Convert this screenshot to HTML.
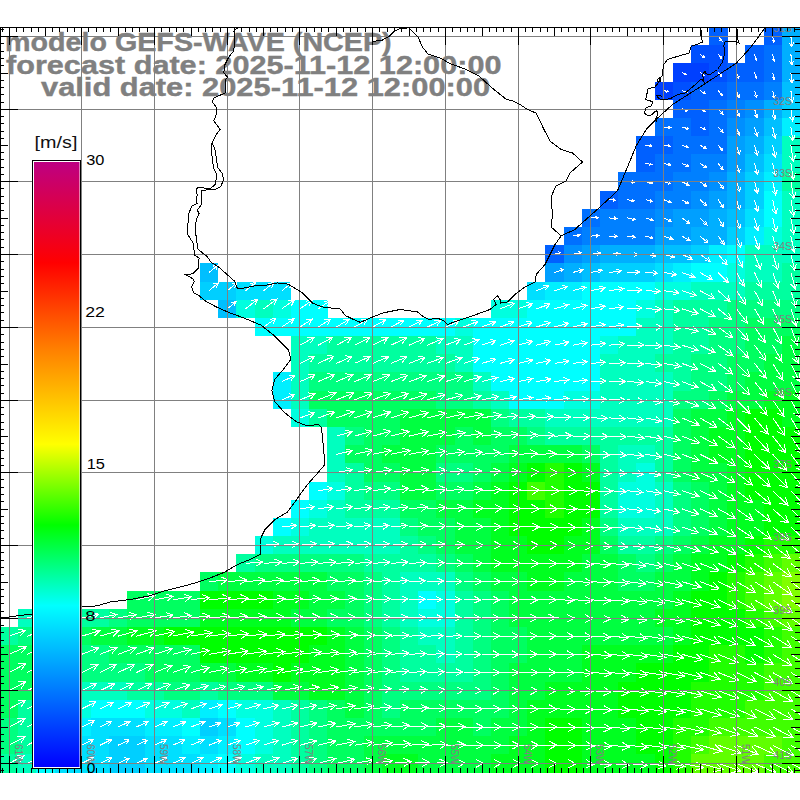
<!DOCTYPE html><html><head><meta charset="utf-8"><style>
html,body{margin:0;padding:0;background:#fff;width:800px;height:800px;overflow:hidden}
svg{position:absolute;left:0;top:0}
.t{font-family:"Liberation Sans",sans-serif}
</style></head><body>
<svg width="800" height="800" viewBox="0 0 800 800">
<rect x="0" y="0" width="800" height="800" fill="#fff"/>
<g shape-rendering="crispEdges">
<rect x="709.09" y="27.00" width="18.48" height="18.48" fill="#0060ff"/>
<rect x="763.64" y="27.00" width="18.48" height="18.48" fill="#0060ff"/>
<rect x="781.82" y="27.00" width="18.48" height="18.48" fill="#00afff"/>
<rect x="690.91" y="45.18" width="18.48" height="18.48" fill="#0050ff"/>
<rect x="709.09" y="45.18" width="18.48" height="18.48" fill="#0050ff"/>
<rect x="745.45" y="45.18" width="18.48" height="18.48" fill="#0060ff"/>
<rect x="763.64" y="45.18" width="18.48" height="18.48" fill="#0070ff"/>
<rect x="781.82" y="45.18" width="18.48" height="18.48" fill="#00afff"/>
<rect x="672.73" y="63.37" width="18.48" height="18.48" fill="#0040ff"/>
<rect x="690.91" y="63.37" width="18.48" height="18.48" fill="#0040ff"/>
<rect x="709.09" y="63.37" width="18.48" height="18.48" fill="#0050ff"/>
<rect x="727.27" y="63.37" width="18.48" height="18.48" fill="#0060ff"/>
<rect x="745.45" y="63.37" width="18.48" height="18.48" fill="#0060ff"/>
<rect x="763.64" y="63.37" width="18.48" height="18.48" fill="#0070ff"/>
<rect x="781.82" y="63.37" width="18.48" height="18.48" fill="#00afff"/>
<rect x="654.55" y="81.55" width="18.48" height="18.48" fill="#0040ff"/>
<rect x="672.73" y="81.55" width="18.48" height="18.48" fill="#0050ff"/>
<rect x="690.91" y="81.55" width="18.48" height="18.48" fill="#0060ff"/>
<rect x="709.09" y="81.55" width="18.48" height="18.48" fill="#0060ff"/>
<rect x="727.27" y="81.55" width="18.48" height="18.48" fill="#0070ff"/>
<rect x="745.45" y="81.55" width="18.48" height="18.48" fill="#0070ff"/>
<rect x="763.64" y="81.55" width="18.48" height="18.48" fill="#0080ff"/>
<rect x="781.82" y="81.55" width="18.48" height="18.48" fill="#00bfff"/>
<rect x="672.73" y="99.73" width="18.48" height="18.48" fill="#0060ff"/>
<rect x="690.91" y="99.73" width="18.48" height="18.48" fill="#0060ff"/>
<rect x="709.09" y="99.73" width="18.48" height="18.48" fill="#0070ff"/>
<rect x="727.27" y="99.73" width="18.48" height="18.48" fill="#0080ff"/>
<rect x="745.45" y="99.73" width="18.48" height="18.48" fill="#008fff"/>
<rect x="763.64" y="99.73" width="18.48" height="18.48" fill="#00afff"/>
<rect x="781.82" y="99.73" width="18.48" height="18.48" fill="#00cfff"/>
<rect x="654.55" y="117.91" width="18.48" height="18.48" fill="#0070ff"/>
<rect x="672.73" y="117.91" width="18.48" height="18.48" fill="#0070ff"/>
<rect x="690.91" y="117.91" width="18.48" height="18.48" fill="#0060ff"/>
<rect x="709.09" y="117.91" width="18.48" height="18.48" fill="#0070ff"/>
<rect x="727.27" y="117.91" width="18.48" height="18.48" fill="#008fff"/>
<rect x="745.45" y="117.91" width="18.48" height="18.48" fill="#009fff"/>
<rect x="763.64" y="117.91" width="18.48" height="18.48" fill="#00bfff"/>
<rect x="781.82" y="117.91" width="18.48" height="18.48" fill="#00efff"/>
<rect x="636.36" y="136.10" width="18.48" height="18.48" fill="#0060ff"/>
<rect x="654.55" y="136.10" width="18.48" height="18.48" fill="#0060ff"/>
<rect x="672.73" y="136.10" width="18.48" height="18.48" fill="#0070ff"/>
<rect x="690.91" y="136.10" width="18.48" height="18.48" fill="#0070ff"/>
<rect x="709.09" y="136.10" width="18.48" height="18.48" fill="#0070ff"/>
<rect x="727.27" y="136.10" width="18.48" height="18.48" fill="#009fff"/>
<rect x="745.45" y="136.10" width="18.48" height="18.48" fill="#00afff"/>
<rect x="763.64" y="136.10" width="18.48" height="18.48" fill="#00cfff"/>
<rect x="781.82" y="136.10" width="18.48" height="18.48" fill="#00ffbf"/>
<rect x="636.36" y="154.28" width="18.48" height="18.48" fill="#0060ff"/>
<rect x="654.55" y="154.28" width="18.48" height="18.48" fill="#0070ff"/>
<rect x="672.73" y="154.28" width="18.48" height="18.48" fill="#0070ff"/>
<rect x="690.91" y="154.28" width="18.48" height="18.48" fill="#0080ff"/>
<rect x="709.09" y="154.28" width="18.48" height="18.48" fill="#0080ff"/>
<rect x="727.27" y="154.28" width="18.48" height="18.48" fill="#009fff"/>
<rect x="745.45" y="154.28" width="18.48" height="18.48" fill="#00bfff"/>
<rect x="763.64" y="154.28" width="18.48" height="18.48" fill="#00dfff"/>
<rect x="781.82" y="154.28" width="18.48" height="18.48" fill="#00ffbf"/>
<rect x="618.18" y="172.46" width="18.48" height="18.48" fill="#0070ff"/>
<rect x="636.36" y="172.46" width="18.48" height="18.48" fill="#0070ff"/>
<rect x="654.55" y="172.46" width="18.48" height="18.48" fill="#0070ff"/>
<rect x="672.73" y="172.46" width="18.48" height="18.48" fill="#0080ff"/>
<rect x="690.91" y="172.46" width="18.48" height="18.48" fill="#0080ff"/>
<rect x="709.09" y="172.46" width="18.48" height="18.48" fill="#008fff"/>
<rect x="727.27" y="172.46" width="18.48" height="18.48" fill="#00afff"/>
<rect x="745.45" y="172.46" width="18.48" height="18.48" fill="#00cfff"/>
<rect x="763.64" y="172.46" width="18.48" height="18.48" fill="#00efff"/>
<rect x="781.82" y="172.46" width="18.48" height="18.48" fill="#00ff9f"/>
<rect x="600.00" y="190.65" width="18.48" height="18.48" fill="#0060ff"/>
<rect x="618.18" y="190.65" width="18.48" height="18.48" fill="#0070ff"/>
<rect x="636.36" y="190.65" width="18.48" height="18.48" fill="#0070ff"/>
<rect x="654.55" y="190.65" width="18.48" height="18.48" fill="#0080ff"/>
<rect x="672.73" y="190.65" width="18.48" height="18.48" fill="#0080ff"/>
<rect x="690.91" y="190.65" width="18.48" height="18.48" fill="#008fff"/>
<rect x="709.09" y="190.65" width="18.48" height="18.48" fill="#009fff"/>
<rect x="727.27" y="190.65" width="18.48" height="18.48" fill="#00afff"/>
<rect x="745.45" y="190.65" width="18.48" height="18.48" fill="#00cfff"/>
<rect x="763.64" y="190.65" width="18.48" height="18.48" fill="#00ffff"/>
<rect x="781.82" y="190.65" width="18.48" height="18.48" fill="#00ffbf"/>
<rect x="581.82" y="208.83" width="18.48" height="18.48" fill="#0070ff"/>
<rect x="600.00" y="208.83" width="18.48" height="18.48" fill="#0080ff"/>
<rect x="618.18" y="208.83" width="18.48" height="18.48" fill="#0080ff"/>
<rect x="636.36" y="208.83" width="18.48" height="18.48" fill="#0080ff"/>
<rect x="654.55" y="208.83" width="18.48" height="18.48" fill="#008fff"/>
<rect x="672.73" y="208.83" width="18.48" height="18.48" fill="#009fff"/>
<rect x="690.91" y="208.83" width="18.48" height="18.48" fill="#009fff"/>
<rect x="709.09" y="208.83" width="18.48" height="18.48" fill="#00afff"/>
<rect x="727.27" y="208.83" width="18.48" height="18.48" fill="#00bfff"/>
<rect x="745.45" y="208.83" width="18.48" height="18.48" fill="#00dfff"/>
<rect x="763.64" y="208.83" width="18.48" height="18.48" fill="#00ffff"/>
<rect x="781.82" y="208.83" width="18.48" height="18.48" fill="#00ffbf"/>
<rect x="563.64" y="227.01" width="18.48" height="18.48" fill="#0070ff"/>
<rect x="581.82" y="227.01" width="18.48" height="18.48" fill="#0080ff"/>
<rect x="600.00" y="227.01" width="18.48" height="18.48" fill="#0080ff"/>
<rect x="618.18" y="227.01" width="18.48" height="18.48" fill="#0080ff"/>
<rect x="636.36" y="227.01" width="18.48" height="18.48" fill="#0080ff"/>
<rect x="654.55" y="227.01" width="18.48" height="18.48" fill="#009fff"/>
<rect x="672.73" y="227.01" width="18.48" height="18.48" fill="#009fff"/>
<rect x="690.91" y="227.01" width="18.48" height="18.48" fill="#00afff"/>
<rect x="709.09" y="227.01" width="18.48" height="18.48" fill="#00afff"/>
<rect x="727.27" y="227.01" width="18.48" height="18.48" fill="#00cfff"/>
<rect x="745.45" y="227.01" width="18.48" height="18.48" fill="#00efff"/>
<rect x="763.64" y="227.01" width="18.48" height="18.48" fill="#00ffdf"/>
<rect x="781.82" y="227.01" width="18.48" height="18.48" fill="#00ffbf"/>
<rect x="545.45" y="245.20" width="18.48" height="18.48" fill="#0060ff"/>
<rect x="563.64" y="245.20" width="18.48" height="18.48" fill="#008fff"/>
<rect x="581.82" y="245.20" width="18.48" height="18.48" fill="#009fff"/>
<rect x="600.00" y="245.20" width="18.48" height="18.48" fill="#00afff"/>
<rect x="618.18" y="245.20" width="18.48" height="18.48" fill="#00afff"/>
<rect x="636.36" y="245.20" width="18.48" height="18.48" fill="#00afff"/>
<rect x="654.55" y="245.20" width="18.48" height="18.48" fill="#00bfff"/>
<rect x="672.73" y="245.20" width="18.48" height="18.48" fill="#00bfff"/>
<rect x="690.91" y="245.20" width="18.48" height="18.48" fill="#00cfff"/>
<rect x="709.09" y="245.20" width="18.48" height="18.48" fill="#00efff"/>
<rect x="727.27" y="245.20" width="18.48" height="18.48" fill="#00ffff"/>
<rect x="745.45" y="245.20" width="18.48" height="18.48" fill="#00ffbf"/>
<rect x="763.64" y="245.20" width="18.48" height="18.48" fill="#00ffbf"/>
<rect x="781.82" y="245.20" width="18.48" height="18.48" fill="#00ffbf"/>
<rect x="200.00" y="263.38" width="18.48" height="18.48" fill="#00bfff"/>
<rect x="545.45" y="263.38" width="18.48" height="18.48" fill="#009fff"/>
<rect x="563.64" y="263.38" width="18.48" height="18.48" fill="#00afff"/>
<rect x="581.82" y="263.38" width="18.48" height="18.48" fill="#00bfff"/>
<rect x="600.00" y="263.38" width="18.48" height="18.48" fill="#00cfff"/>
<rect x="618.18" y="263.38" width="18.48" height="18.48" fill="#00cfff"/>
<rect x="636.36" y="263.38" width="18.48" height="18.48" fill="#00cfff"/>
<rect x="654.55" y="263.38" width="18.48" height="18.48" fill="#00dfff"/>
<rect x="672.73" y="263.38" width="18.48" height="18.48" fill="#00efff"/>
<rect x="690.91" y="263.38" width="18.48" height="18.48" fill="#00ffff"/>
<rect x="709.09" y="263.38" width="18.48" height="18.48" fill="#00ffff"/>
<rect x="727.27" y="263.38" width="18.48" height="18.48" fill="#00ffdf"/>
<rect x="745.45" y="263.38" width="18.48" height="18.48" fill="#00ffbf"/>
<rect x="763.64" y="263.38" width="18.48" height="18.48" fill="#00ffbf"/>
<rect x="781.82" y="263.38" width="18.48" height="18.48" fill="#00ff9f"/>
<rect x="200.00" y="281.56" width="18.48" height="18.48" fill="#00cfff"/>
<rect x="218.18" y="281.56" width="18.48" height="18.48" fill="#00cfff"/>
<rect x="236.36" y="281.56" width="18.48" height="18.48" fill="#00dfff"/>
<rect x="254.55" y="281.56" width="18.48" height="18.48" fill="#00dfff"/>
<rect x="272.73" y="281.56" width="18.48" height="18.48" fill="#00dfff"/>
<rect x="527.27" y="281.56" width="18.48" height="18.48" fill="#00dfff"/>
<rect x="545.45" y="281.56" width="18.48" height="18.48" fill="#00efff"/>
<rect x="563.64" y="281.56" width="18.48" height="18.48" fill="#00efff"/>
<rect x="581.82" y="281.56" width="18.48" height="18.48" fill="#00ffff"/>
<rect x="600.00" y="281.56" width="18.48" height="18.48" fill="#00ffff"/>
<rect x="618.18" y="281.56" width="18.48" height="18.48" fill="#00ffff"/>
<rect x="636.36" y="281.56" width="18.48" height="18.48" fill="#00ffff"/>
<rect x="654.55" y="281.56" width="18.48" height="18.48" fill="#00ffdf"/>
<rect x="672.73" y="281.56" width="18.48" height="18.48" fill="#00ffdf"/>
<rect x="690.91" y="281.56" width="18.48" height="18.48" fill="#00ffbf"/>
<rect x="709.09" y="281.56" width="18.48" height="18.48" fill="#00ffbf"/>
<rect x="727.27" y="281.56" width="18.48" height="18.48" fill="#00ffbf"/>
<rect x="745.45" y="281.56" width="18.48" height="18.48" fill="#00ff9f"/>
<rect x="763.64" y="281.56" width="18.48" height="18.48" fill="#00ff9f"/>
<rect x="781.82" y="281.56" width="18.48" height="18.48" fill="#00ff9f"/>
<rect x="218.18" y="299.74" width="18.48" height="18.48" fill="#00bfff"/>
<rect x="236.36" y="299.74" width="18.48" height="18.48" fill="#00ffdf"/>
<rect x="254.55" y="299.74" width="18.48" height="18.48" fill="#00ffbf"/>
<rect x="272.73" y="299.74" width="18.48" height="18.48" fill="#00ffdf"/>
<rect x="290.91" y="299.74" width="18.48" height="18.48" fill="#00ffff"/>
<rect x="309.09" y="299.74" width="18.48" height="18.48" fill="#00ffff"/>
<rect x="490.91" y="299.74" width="18.48" height="18.48" fill="#00ffdf"/>
<rect x="509.09" y="299.74" width="18.48" height="18.48" fill="#00ffdf"/>
<rect x="527.27" y="299.74" width="18.48" height="18.48" fill="#00ffff"/>
<rect x="545.45" y="299.74" width="18.48" height="18.48" fill="#00ffff"/>
<rect x="563.64" y="299.74" width="18.48" height="18.48" fill="#00ffff"/>
<rect x="581.82" y="299.74" width="18.48" height="18.48" fill="#00ffff"/>
<rect x="600.00" y="299.74" width="18.48" height="18.48" fill="#00ffff"/>
<rect x="618.18" y="299.74" width="18.48" height="18.48" fill="#00ffff"/>
<rect x="636.36" y="299.74" width="18.48" height="18.48" fill="#00ffdf"/>
<rect x="654.55" y="299.74" width="18.48" height="18.48" fill="#00ffbf"/>
<rect x="672.73" y="299.74" width="18.48" height="18.48" fill="#00ff9f"/>
<rect x="690.91" y="299.74" width="18.48" height="18.48" fill="#00ff9f"/>
<rect x="709.09" y="299.74" width="18.48" height="18.48" fill="#00ff9f"/>
<rect x="727.27" y="299.74" width="18.48" height="18.48" fill="#00ff80"/>
<rect x="745.45" y="299.74" width="18.48" height="18.48" fill="#00ff80"/>
<rect x="763.64" y="299.74" width="18.48" height="18.48" fill="#00ff80"/>
<rect x="781.82" y="299.74" width="18.48" height="18.48" fill="#00ff80"/>
<rect x="254.55" y="317.93" width="18.48" height="18.48" fill="#00ffff"/>
<rect x="272.73" y="317.93" width="18.48" height="18.48" fill="#00ffff"/>
<rect x="290.91" y="317.93" width="18.48" height="18.48" fill="#00ffff"/>
<rect x="309.09" y="317.93" width="18.48" height="18.48" fill="#00ffff"/>
<rect x="327.27" y="317.93" width="18.48" height="18.48" fill="#00ffff"/>
<rect x="345.45" y="317.93" width="18.48" height="18.48" fill="#00ffff"/>
<rect x="363.64" y="317.93" width="18.48" height="18.48" fill="#00ffff"/>
<rect x="381.82" y="317.93" width="18.48" height="18.48" fill="#00ffff"/>
<rect x="400.00" y="317.93" width="18.48" height="18.48" fill="#00ffff"/>
<rect x="418.18" y="317.93" width="18.48" height="18.48" fill="#00ffff"/>
<rect x="436.36" y="317.93" width="18.48" height="18.48" fill="#00ffff"/>
<rect x="454.55" y="317.93" width="18.48" height="18.48" fill="#00ffdf"/>
<rect x="472.73" y="317.93" width="18.48" height="18.48" fill="#00ffff"/>
<rect x="490.91" y="317.93" width="18.48" height="18.48" fill="#00ffff"/>
<rect x="509.09" y="317.93" width="18.48" height="18.48" fill="#00ffff"/>
<rect x="527.27" y="317.93" width="18.48" height="18.48" fill="#00ffff"/>
<rect x="545.45" y="317.93" width="18.48" height="18.48" fill="#00ffff"/>
<rect x="563.64" y="317.93" width="18.48" height="18.48" fill="#00ffff"/>
<rect x="581.82" y="317.93" width="18.48" height="18.48" fill="#00ffff"/>
<rect x="600.00" y="317.93" width="18.48" height="18.48" fill="#00ffff"/>
<rect x="618.18" y="317.93" width="18.48" height="18.48" fill="#00ffff"/>
<rect x="636.36" y="317.93" width="18.48" height="18.48" fill="#00ffbf"/>
<rect x="654.55" y="317.93" width="18.48" height="18.48" fill="#00ffbf"/>
<rect x="672.73" y="317.93" width="18.48" height="18.48" fill="#00ff9f"/>
<rect x="690.91" y="317.93" width="18.48" height="18.48" fill="#00ff9f"/>
<rect x="709.09" y="317.93" width="18.48" height="18.48" fill="#00ff80"/>
<rect x="727.27" y="317.93" width="18.48" height="18.48" fill="#00ff80"/>
<rect x="745.45" y="317.93" width="18.48" height="18.48" fill="#00ff60"/>
<rect x="763.64" y="317.93" width="18.48" height="18.48" fill="#00ff60"/>
<rect x="781.82" y="317.93" width="18.48" height="18.48" fill="#00ff60"/>
<rect x="290.91" y="336.11" width="18.48" height="18.48" fill="#00ffbf"/>
<rect x="309.09" y="336.11" width="18.48" height="18.48" fill="#00ffbf"/>
<rect x="327.27" y="336.11" width="18.48" height="18.48" fill="#00ff9f"/>
<rect x="345.45" y="336.11" width="18.48" height="18.48" fill="#00ff9f"/>
<rect x="363.64" y="336.11" width="18.48" height="18.48" fill="#00ff9f"/>
<rect x="381.82" y="336.11" width="18.48" height="18.48" fill="#00ff9f"/>
<rect x="400.00" y="336.11" width="18.48" height="18.48" fill="#00ff9f"/>
<rect x="418.18" y="336.11" width="18.48" height="18.48" fill="#00ff9f"/>
<rect x="436.36" y="336.11" width="18.48" height="18.48" fill="#00ffbf"/>
<rect x="454.55" y="336.11" width="18.48" height="18.48" fill="#00ffbf"/>
<rect x="472.73" y="336.11" width="18.48" height="18.48" fill="#00ffff"/>
<rect x="490.91" y="336.11" width="18.48" height="18.48" fill="#00ffff"/>
<rect x="509.09" y="336.11" width="18.48" height="18.48" fill="#00ffff"/>
<rect x="527.27" y="336.11" width="18.48" height="18.48" fill="#00ffff"/>
<rect x="545.45" y="336.11" width="18.48" height="18.48" fill="#00ffff"/>
<rect x="563.64" y="336.11" width="18.48" height="18.48" fill="#00ffff"/>
<rect x="581.82" y="336.11" width="18.48" height="18.48" fill="#00ffff"/>
<rect x="600.00" y="336.11" width="18.48" height="18.48" fill="#00ffdf"/>
<rect x="618.18" y="336.11" width="18.48" height="18.48" fill="#00ffbf"/>
<rect x="636.36" y="336.11" width="18.48" height="18.48" fill="#00ffbf"/>
<rect x="654.55" y="336.11" width="18.48" height="18.48" fill="#00ffbf"/>
<rect x="672.73" y="336.11" width="18.48" height="18.48" fill="#00ff9f"/>
<rect x="690.91" y="336.11" width="18.48" height="18.48" fill="#00ff9f"/>
<rect x="709.09" y="336.11" width="18.48" height="18.48" fill="#00ff80"/>
<rect x="727.27" y="336.11" width="18.48" height="18.48" fill="#00ff80"/>
<rect x="745.45" y="336.11" width="18.48" height="18.48" fill="#00ff60"/>
<rect x="763.64" y="336.11" width="18.48" height="18.48" fill="#00ff60"/>
<rect x="781.82" y="336.11" width="18.48" height="18.48" fill="#00ff40"/>
<rect x="290.91" y="354.29" width="18.48" height="18.48" fill="#00ffbf"/>
<rect x="309.09" y="354.29" width="18.48" height="18.48" fill="#00ff9f"/>
<rect x="327.27" y="354.29" width="18.48" height="18.48" fill="#00ff9f"/>
<rect x="345.45" y="354.29" width="18.48" height="18.48" fill="#00ff9f"/>
<rect x="363.64" y="354.29" width="18.48" height="18.48" fill="#00ff9f"/>
<rect x="381.82" y="354.29" width="18.48" height="18.48" fill="#00ff9f"/>
<rect x="400.00" y="354.29" width="18.48" height="18.48" fill="#00ff9f"/>
<rect x="418.18" y="354.29" width="18.48" height="18.48" fill="#00ff9f"/>
<rect x="436.36" y="354.29" width="18.48" height="18.48" fill="#00ff9f"/>
<rect x="454.55" y="354.29" width="18.48" height="18.48" fill="#00ffbf"/>
<rect x="472.73" y="354.29" width="18.48" height="18.48" fill="#00ffff"/>
<rect x="490.91" y="354.29" width="18.48" height="18.48" fill="#00ffff"/>
<rect x="509.09" y="354.29" width="18.48" height="18.48" fill="#00ffff"/>
<rect x="527.27" y="354.29" width="18.48" height="18.48" fill="#00ffff"/>
<rect x="545.45" y="354.29" width="18.48" height="18.48" fill="#00ffff"/>
<rect x="563.64" y="354.29" width="18.48" height="18.48" fill="#00ffff"/>
<rect x="581.82" y="354.29" width="18.48" height="18.48" fill="#00ffff"/>
<rect x="600.00" y="354.29" width="18.48" height="18.48" fill="#00ffbf"/>
<rect x="618.18" y="354.29" width="18.48" height="18.48" fill="#00ffbf"/>
<rect x="636.36" y="354.29" width="18.48" height="18.48" fill="#00ffbf"/>
<rect x="654.55" y="354.29" width="18.48" height="18.48" fill="#00ff9f"/>
<rect x="672.73" y="354.29" width="18.48" height="18.48" fill="#00ff9f"/>
<rect x="690.91" y="354.29" width="18.48" height="18.48" fill="#00ff80"/>
<rect x="709.09" y="354.29" width="18.48" height="18.48" fill="#00ff80"/>
<rect x="727.27" y="354.29" width="18.48" height="18.48" fill="#00ff60"/>
<rect x="745.45" y="354.29" width="18.48" height="18.48" fill="#00ff60"/>
<rect x="763.64" y="354.29" width="18.48" height="18.48" fill="#00ff40"/>
<rect x="781.82" y="354.29" width="18.48" height="18.48" fill="#00ff40"/>
<rect x="272.73" y="372.48" width="18.48" height="18.48" fill="#00efff"/>
<rect x="290.91" y="372.48" width="18.48" height="18.48" fill="#00ffbf"/>
<rect x="309.09" y="372.48" width="18.48" height="18.48" fill="#00ff80"/>
<rect x="327.27" y="372.48" width="18.48" height="18.48" fill="#00ff80"/>
<rect x="345.45" y="372.48" width="18.48" height="18.48" fill="#00ff80"/>
<rect x="363.64" y="372.48" width="18.48" height="18.48" fill="#00ff80"/>
<rect x="381.82" y="372.48" width="18.48" height="18.48" fill="#00ff80"/>
<rect x="400.00" y="372.48" width="18.48" height="18.48" fill="#00ff80"/>
<rect x="418.18" y="372.48" width="18.48" height="18.48" fill="#00ff80"/>
<rect x="436.36" y="372.48" width="18.48" height="18.48" fill="#00ff80"/>
<rect x="454.55" y="372.48" width="18.48" height="18.48" fill="#00ff80"/>
<rect x="472.73" y="372.48" width="18.48" height="18.48" fill="#00ffbf"/>
<rect x="490.91" y="372.48" width="18.48" height="18.48" fill="#00ffff"/>
<rect x="509.09" y="372.48" width="18.48" height="18.48" fill="#00ffff"/>
<rect x="527.27" y="372.48" width="18.48" height="18.48" fill="#00ffff"/>
<rect x="545.45" y="372.48" width="18.48" height="18.48" fill="#00ffff"/>
<rect x="563.64" y="372.48" width="18.48" height="18.48" fill="#00ffff"/>
<rect x="581.82" y="372.48" width="18.48" height="18.48" fill="#00ffff"/>
<rect x="600.00" y="372.48" width="18.48" height="18.48" fill="#00ffbf"/>
<rect x="618.18" y="372.48" width="18.48" height="18.48" fill="#00ffbf"/>
<rect x="636.36" y="372.48" width="18.48" height="18.48" fill="#00ffbf"/>
<rect x="654.55" y="372.48" width="18.48" height="18.48" fill="#00ffbf"/>
<rect x="672.73" y="372.48" width="18.48" height="18.48" fill="#00ff9f"/>
<rect x="690.91" y="372.48" width="18.48" height="18.48" fill="#00ff80"/>
<rect x="709.09" y="372.48" width="18.48" height="18.48" fill="#00ff80"/>
<rect x="727.27" y="372.48" width="18.48" height="18.48" fill="#00ff60"/>
<rect x="745.45" y="372.48" width="18.48" height="18.48" fill="#00ff40"/>
<rect x="763.64" y="372.48" width="18.48" height="18.48" fill="#00ff40"/>
<rect x="781.82" y="372.48" width="18.48" height="18.48" fill="#00ff40"/>
<rect x="272.73" y="390.66" width="18.48" height="18.48" fill="#00efff"/>
<rect x="290.91" y="390.66" width="18.48" height="18.48" fill="#00ffbf"/>
<rect x="309.09" y="390.66" width="18.48" height="18.48" fill="#00ff60"/>
<rect x="327.27" y="390.66" width="18.48" height="18.48" fill="#00ff60"/>
<rect x="345.45" y="390.66" width="18.48" height="18.48" fill="#00ff60"/>
<rect x="363.64" y="390.66" width="18.48" height="18.48" fill="#00ff60"/>
<rect x="381.82" y="390.66" width="18.48" height="18.48" fill="#00ff60"/>
<rect x="400.00" y="390.66" width="18.48" height="18.48" fill="#00ff60"/>
<rect x="418.18" y="390.66" width="18.48" height="18.48" fill="#00ff60"/>
<rect x="436.36" y="390.66" width="18.48" height="18.48" fill="#00ff80"/>
<rect x="454.55" y="390.66" width="18.48" height="18.48" fill="#00ff80"/>
<rect x="472.73" y="390.66" width="18.48" height="18.48" fill="#00ff9f"/>
<rect x="490.91" y="390.66" width="18.48" height="18.48" fill="#00ffbf"/>
<rect x="509.09" y="390.66" width="18.48" height="18.48" fill="#00ffff"/>
<rect x="527.27" y="390.66" width="18.48" height="18.48" fill="#00ffff"/>
<rect x="545.45" y="390.66" width="18.48" height="18.48" fill="#00ffff"/>
<rect x="563.64" y="390.66" width="18.48" height="18.48" fill="#00ffdf"/>
<rect x="581.82" y="390.66" width="18.48" height="18.48" fill="#00ffdf"/>
<rect x="600.00" y="390.66" width="18.48" height="18.48" fill="#00ffbf"/>
<rect x="618.18" y="390.66" width="18.48" height="18.48" fill="#00ffbf"/>
<rect x="636.36" y="390.66" width="18.48" height="18.48" fill="#00ffbf"/>
<rect x="654.55" y="390.66" width="18.48" height="18.48" fill="#00ffbf"/>
<rect x="672.73" y="390.66" width="18.48" height="18.48" fill="#00ff80"/>
<rect x="690.91" y="390.66" width="18.48" height="18.48" fill="#00ff80"/>
<rect x="709.09" y="390.66" width="18.48" height="18.48" fill="#00ff60"/>
<rect x="727.27" y="390.66" width="18.48" height="18.48" fill="#00ff40"/>
<rect x="745.45" y="390.66" width="18.48" height="18.48" fill="#00ff40"/>
<rect x="763.64" y="390.66" width="18.48" height="18.48" fill="#00ff20"/>
<rect x="781.82" y="390.66" width="18.48" height="18.48" fill="#00ff20"/>
<rect x="290.91" y="408.84" width="18.48" height="18.48" fill="#00ffdf"/>
<rect x="309.09" y="408.84" width="18.48" height="18.48" fill="#00ff9f"/>
<rect x="327.27" y="408.84" width="18.48" height="18.48" fill="#00ff60"/>
<rect x="345.45" y="408.84" width="18.48" height="18.48" fill="#00ff60"/>
<rect x="363.64" y="408.84" width="18.48" height="18.48" fill="#00ff60"/>
<rect x="381.82" y="408.84" width="18.48" height="18.48" fill="#00ff60"/>
<rect x="400.00" y="408.84" width="18.48" height="18.48" fill="#00ff40"/>
<rect x="418.18" y="408.84" width="18.48" height="18.48" fill="#00ff40"/>
<rect x="436.36" y="408.84" width="18.48" height="18.48" fill="#00ff40"/>
<rect x="454.55" y="408.84" width="18.48" height="18.48" fill="#00ff40"/>
<rect x="472.73" y="408.84" width="18.48" height="18.48" fill="#00ff40"/>
<rect x="490.91" y="408.84" width="18.48" height="18.48" fill="#00ff80"/>
<rect x="509.09" y="408.84" width="18.48" height="18.48" fill="#00ff9f"/>
<rect x="527.27" y="408.84" width="18.48" height="18.48" fill="#00ff9f"/>
<rect x="545.45" y="408.84" width="18.48" height="18.48" fill="#00ffbf"/>
<rect x="563.64" y="408.84" width="18.48" height="18.48" fill="#00ffbf"/>
<rect x="581.82" y="408.84" width="18.48" height="18.48" fill="#00ffbf"/>
<rect x="600.00" y="408.84" width="18.48" height="18.48" fill="#00ffbf"/>
<rect x="618.18" y="408.84" width="18.48" height="18.48" fill="#00ffbf"/>
<rect x="636.36" y="408.84" width="18.48" height="18.48" fill="#00ffbf"/>
<rect x="654.55" y="408.84" width="18.48" height="18.48" fill="#00ffbf"/>
<rect x="672.73" y="408.84" width="18.48" height="18.48" fill="#00ff60"/>
<rect x="690.91" y="408.84" width="18.48" height="18.48" fill="#00ff40"/>
<rect x="709.09" y="408.84" width="18.48" height="18.48" fill="#00ff40"/>
<rect x="727.27" y="408.84" width="18.48" height="18.48" fill="#00ff20"/>
<rect x="745.45" y="408.84" width="18.48" height="18.48" fill="#00ff00"/>
<rect x="763.64" y="408.84" width="18.48" height="18.48" fill="#00ff00"/>
<rect x="781.82" y="408.84" width="18.48" height="18.48" fill="#00ff20"/>
<rect x="327.27" y="427.02" width="18.48" height="18.48" fill="#00ffbf"/>
<rect x="345.45" y="427.02" width="18.48" height="18.48" fill="#00ff80"/>
<rect x="363.64" y="427.02" width="18.48" height="18.48" fill="#00ff60"/>
<rect x="381.82" y="427.02" width="18.48" height="18.48" fill="#00ff60"/>
<rect x="400.00" y="427.02" width="18.48" height="18.48" fill="#00ff40"/>
<rect x="418.18" y="427.02" width="18.48" height="18.48" fill="#00ff40"/>
<rect x="436.36" y="427.02" width="18.48" height="18.48" fill="#00ff40"/>
<rect x="454.55" y="427.02" width="18.48" height="18.48" fill="#00ff60"/>
<rect x="472.73" y="427.02" width="18.48" height="18.48" fill="#00ff40"/>
<rect x="490.91" y="427.02" width="18.48" height="18.48" fill="#00ff60"/>
<rect x="509.09" y="427.02" width="18.48" height="18.48" fill="#00ff60"/>
<rect x="527.27" y="427.02" width="18.48" height="18.48" fill="#00ff80"/>
<rect x="545.45" y="427.02" width="18.48" height="18.48" fill="#00ff9f"/>
<rect x="563.64" y="427.02" width="18.48" height="18.48" fill="#00ff9f"/>
<rect x="581.82" y="427.02" width="18.48" height="18.48" fill="#00ff9f"/>
<rect x="600.00" y="427.02" width="18.48" height="18.48" fill="#00ff9f"/>
<rect x="618.18" y="427.02" width="18.48" height="18.48" fill="#00ff9f"/>
<rect x="636.36" y="427.02" width="18.48" height="18.48" fill="#00ff9f"/>
<rect x="654.55" y="427.02" width="18.48" height="18.48" fill="#00ff9f"/>
<rect x="672.73" y="427.02" width="18.48" height="18.48" fill="#00ff60"/>
<rect x="690.91" y="427.02" width="18.48" height="18.48" fill="#00ff40"/>
<rect x="709.09" y="427.02" width="18.48" height="18.48" fill="#00ff20"/>
<rect x="727.27" y="427.02" width="18.48" height="18.48" fill="#00ff20"/>
<rect x="745.45" y="427.02" width="18.48" height="18.48" fill="#00ff00"/>
<rect x="763.64" y="427.02" width="18.48" height="18.48" fill="#00ff00"/>
<rect x="781.82" y="427.02" width="18.48" height="18.48" fill="#00ff00"/>
<rect x="327.27" y="445.21" width="18.48" height="18.48" fill="#00ffbf"/>
<rect x="345.45" y="445.21" width="18.48" height="18.48" fill="#00ff60"/>
<rect x="363.64" y="445.21" width="18.48" height="18.48" fill="#00ff60"/>
<rect x="381.82" y="445.21" width="18.48" height="18.48" fill="#00ff40"/>
<rect x="400.00" y="445.21" width="18.48" height="18.48" fill="#00ff40"/>
<rect x="418.18" y="445.21" width="18.48" height="18.48" fill="#00ff40"/>
<rect x="436.36" y="445.21" width="18.48" height="18.48" fill="#00ff60"/>
<rect x="454.55" y="445.21" width="18.48" height="18.48" fill="#00ff60"/>
<rect x="472.73" y="445.21" width="18.48" height="18.48" fill="#00ff60"/>
<rect x="490.91" y="445.21" width="18.48" height="18.48" fill="#00ff60"/>
<rect x="509.09" y="445.21" width="18.48" height="18.48" fill="#00ff40"/>
<rect x="527.27" y="445.21" width="18.48" height="18.48" fill="#00ff40"/>
<rect x="545.45" y="445.21" width="18.48" height="18.48" fill="#00ff40"/>
<rect x="563.64" y="445.21" width="18.48" height="18.48" fill="#00ff40"/>
<rect x="581.82" y="445.21" width="18.48" height="18.48" fill="#00ff60"/>
<rect x="600.00" y="445.21" width="18.48" height="18.48" fill="#00ff9f"/>
<rect x="618.18" y="445.21" width="18.48" height="18.48" fill="#00ffbf"/>
<rect x="636.36" y="445.21" width="18.48" height="18.48" fill="#00ffbf"/>
<rect x="654.55" y="445.21" width="18.48" height="18.48" fill="#00ff9f"/>
<rect x="672.73" y="445.21" width="18.48" height="18.48" fill="#00ff60"/>
<rect x="690.91" y="445.21" width="18.48" height="18.48" fill="#00ff40"/>
<rect x="709.09" y="445.21" width="18.48" height="18.48" fill="#00ff20"/>
<rect x="727.27" y="445.21" width="18.48" height="18.48" fill="#00ff20"/>
<rect x="745.45" y="445.21" width="18.48" height="18.48" fill="#00ff00"/>
<rect x="763.64" y="445.21" width="18.48" height="18.48" fill="#00ff00"/>
<rect x="781.82" y="445.21" width="18.48" height="18.48" fill="#00ff00"/>
<rect x="327.27" y="463.39" width="18.48" height="18.48" fill="#00ffbf"/>
<rect x="345.45" y="463.39" width="18.48" height="18.48" fill="#00ff9f"/>
<rect x="363.64" y="463.39" width="18.48" height="18.48" fill="#00ff60"/>
<rect x="381.82" y="463.39" width="18.48" height="18.48" fill="#00ff60"/>
<rect x="400.00" y="463.39" width="18.48" height="18.48" fill="#00ff40"/>
<rect x="418.18" y="463.39" width="18.48" height="18.48" fill="#00ff40"/>
<rect x="436.36" y="463.39" width="18.48" height="18.48" fill="#00ff80"/>
<rect x="454.55" y="463.39" width="18.48" height="18.48" fill="#00ff80"/>
<rect x="472.73" y="463.39" width="18.48" height="18.48" fill="#00ff60"/>
<rect x="490.91" y="463.39" width="18.48" height="18.48" fill="#00ff40"/>
<rect x="509.09" y="463.39" width="18.48" height="18.48" fill="#00ff20"/>
<rect x="527.27" y="463.39" width="18.48" height="18.48" fill="#00ff00"/>
<rect x="545.45" y="463.39" width="18.48" height="18.48" fill="#20ff00"/>
<rect x="563.64" y="463.39" width="18.48" height="18.48" fill="#00ff00"/>
<rect x="581.82" y="463.39" width="18.48" height="18.48" fill="#00ff20"/>
<rect x="600.00" y="463.39" width="18.48" height="18.48" fill="#00ff9f"/>
<rect x="618.18" y="463.39" width="18.48" height="18.48" fill="#00ffbf"/>
<rect x="636.36" y="463.39" width="18.48" height="18.48" fill="#00ffdf"/>
<rect x="654.55" y="463.39" width="18.48" height="18.48" fill="#00ff9f"/>
<rect x="672.73" y="463.39" width="18.48" height="18.48" fill="#00ff60"/>
<rect x="690.91" y="463.39" width="18.48" height="18.48" fill="#00ff40"/>
<rect x="709.09" y="463.39" width="18.48" height="18.48" fill="#00ff40"/>
<rect x="727.27" y="463.39" width="18.48" height="18.48" fill="#00ff20"/>
<rect x="745.45" y="463.39" width="18.48" height="18.48" fill="#00ff00"/>
<rect x="763.64" y="463.39" width="18.48" height="18.48" fill="#00ff00"/>
<rect x="781.82" y="463.39" width="18.48" height="18.48" fill="#00ff00"/>
<rect x="309.09" y="481.57" width="18.48" height="18.48" fill="#00ffff"/>
<rect x="327.27" y="481.57" width="18.48" height="18.48" fill="#00ffdf"/>
<rect x="345.45" y="481.57" width="18.48" height="18.48" fill="#00ff9f"/>
<rect x="363.64" y="481.57" width="18.48" height="18.48" fill="#00ff80"/>
<rect x="381.82" y="481.57" width="18.48" height="18.48" fill="#00ff80"/>
<rect x="400.00" y="481.57" width="18.48" height="18.48" fill="#00ff40"/>
<rect x="418.18" y="481.57" width="18.48" height="18.48" fill="#00ff40"/>
<rect x="436.36" y="481.57" width="18.48" height="18.48" fill="#00ff60"/>
<rect x="454.55" y="481.57" width="18.48" height="18.48" fill="#00ff60"/>
<rect x="472.73" y="481.57" width="18.48" height="18.48" fill="#00ff40"/>
<rect x="490.91" y="481.57" width="18.48" height="18.48" fill="#00ff20"/>
<rect x="509.09" y="481.57" width="18.48" height="18.48" fill="#00ff00"/>
<rect x="527.27" y="481.57" width="18.48" height="18.48" fill="#40ff00"/>
<rect x="545.45" y="481.57" width="18.48" height="18.48" fill="#20ff00"/>
<rect x="563.64" y="481.57" width="18.48" height="18.48" fill="#00ff00"/>
<rect x="581.82" y="481.57" width="18.48" height="18.48" fill="#00ff00"/>
<rect x="600.00" y="481.57" width="18.48" height="18.48" fill="#00ff9f"/>
<rect x="618.18" y="481.57" width="18.48" height="18.48" fill="#00ffdf"/>
<rect x="636.36" y="481.57" width="18.48" height="18.48" fill="#00ffdf"/>
<rect x="654.55" y="481.57" width="18.48" height="18.48" fill="#00ffbf"/>
<rect x="672.73" y="481.57" width="18.48" height="18.48" fill="#00ff80"/>
<rect x="690.91" y="481.57" width="18.48" height="18.48" fill="#00ff60"/>
<rect x="709.09" y="481.57" width="18.48" height="18.48" fill="#00ff40"/>
<rect x="727.27" y="481.57" width="18.48" height="18.48" fill="#00ff20"/>
<rect x="745.45" y="481.57" width="18.48" height="18.48" fill="#00ff00"/>
<rect x="763.64" y="481.57" width="18.48" height="18.48" fill="#00ff00"/>
<rect x="781.82" y="481.57" width="18.48" height="18.48" fill="#00ff00"/>
<rect x="290.91" y="499.76" width="18.48" height="18.48" fill="#00ffff"/>
<rect x="309.09" y="499.76" width="18.48" height="18.48" fill="#00ffdf"/>
<rect x="327.27" y="499.76" width="18.48" height="18.48" fill="#00ffbf"/>
<rect x="345.45" y="499.76" width="18.48" height="18.48" fill="#00ff9f"/>
<rect x="363.64" y="499.76" width="18.48" height="18.48" fill="#00ff9f"/>
<rect x="381.82" y="499.76" width="18.48" height="18.48" fill="#00ff9f"/>
<rect x="400.00" y="499.76" width="18.48" height="18.48" fill="#00ff60"/>
<rect x="418.18" y="499.76" width="18.48" height="18.48" fill="#00ff60"/>
<rect x="436.36" y="499.76" width="18.48" height="18.48" fill="#00ff40"/>
<rect x="454.55" y="499.76" width="18.48" height="18.48" fill="#00ff40"/>
<rect x="472.73" y="499.76" width="18.48" height="18.48" fill="#00ff20"/>
<rect x="490.91" y="499.76" width="18.48" height="18.48" fill="#00ff20"/>
<rect x="509.09" y="499.76" width="18.48" height="18.48" fill="#00ff00"/>
<rect x="527.27" y="499.76" width="18.48" height="18.48" fill="#00ff00"/>
<rect x="545.45" y="499.76" width="18.48" height="18.48" fill="#20ff00"/>
<rect x="563.64" y="499.76" width="18.48" height="18.48" fill="#00ff00"/>
<rect x="581.82" y="499.76" width="18.48" height="18.48" fill="#00ff00"/>
<rect x="600.00" y="499.76" width="18.48" height="18.48" fill="#00ff9f"/>
<rect x="618.18" y="499.76" width="18.48" height="18.48" fill="#00ffdf"/>
<rect x="636.36" y="499.76" width="18.48" height="18.48" fill="#00ffdf"/>
<rect x="654.55" y="499.76" width="18.48" height="18.48" fill="#00ffbf"/>
<rect x="672.73" y="499.76" width="18.48" height="18.48" fill="#00ff80"/>
<rect x="690.91" y="499.76" width="18.48" height="18.48" fill="#00ff60"/>
<rect x="709.09" y="499.76" width="18.48" height="18.48" fill="#00ff40"/>
<rect x="727.27" y="499.76" width="18.48" height="18.48" fill="#00ff20"/>
<rect x="745.45" y="499.76" width="18.48" height="18.48" fill="#00ff20"/>
<rect x="763.64" y="499.76" width="18.48" height="18.48" fill="#00ff00"/>
<rect x="781.82" y="499.76" width="18.48" height="18.48" fill="#00ff00"/>
<rect x="272.73" y="517.94" width="18.48" height="18.48" fill="#00ffff"/>
<rect x="290.91" y="517.94" width="18.48" height="18.48" fill="#00ffdf"/>
<rect x="309.09" y="517.94" width="18.48" height="18.48" fill="#00ffbf"/>
<rect x="327.27" y="517.94" width="18.48" height="18.48" fill="#00ffbf"/>
<rect x="345.45" y="517.94" width="18.48" height="18.48" fill="#00ffbf"/>
<rect x="363.64" y="517.94" width="18.48" height="18.48" fill="#00ffbf"/>
<rect x="381.82" y="517.94" width="18.48" height="18.48" fill="#00ffbf"/>
<rect x="400.00" y="517.94" width="18.48" height="18.48" fill="#00ff80"/>
<rect x="418.18" y="517.94" width="18.48" height="18.48" fill="#00ff60"/>
<rect x="436.36" y="517.94" width="18.48" height="18.48" fill="#00ff60"/>
<rect x="454.55" y="517.94" width="18.48" height="18.48" fill="#00ff40"/>
<rect x="472.73" y="517.94" width="18.48" height="18.48" fill="#00ff40"/>
<rect x="490.91" y="517.94" width="18.48" height="18.48" fill="#00ff20"/>
<rect x="509.09" y="517.94" width="18.48" height="18.48" fill="#00ff00"/>
<rect x="527.27" y="517.94" width="18.48" height="18.48" fill="#00ff00"/>
<rect x="545.45" y="517.94" width="18.48" height="18.48" fill="#00ff00"/>
<rect x="563.64" y="517.94" width="18.48" height="18.48" fill="#00ff00"/>
<rect x="581.82" y="517.94" width="18.48" height="18.48" fill="#00ff20"/>
<rect x="600.00" y="517.94" width="18.48" height="18.48" fill="#00ff80"/>
<rect x="618.18" y="517.94" width="18.48" height="18.48" fill="#00ffbf"/>
<rect x="636.36" y="517.94" width="18.48" height="18.48" fill="#00ffbf"/>
<rect x="654.55" y="517.94" width="18.48" height="18.48" fill="#00ffbf"/>
<rect x="672.73" y="517.94" width="18.48" height="18.48" fill="#00ff80"/>
<rect x="690.91" y="517.94" width="18.48" height="18.48" fill="#00ff60"/>
<rect x="709.09" y="517.94" width="18.48" height="18.48" fill="#00ff40"/>
<rect x="727.27" y="517.94" width="18.48" height="18.48" fill="#00ff20"/>
<rect x="745.45" y="517.94" width="18.48" height="18.48" fill="#00ff20"/>
<rect x="763.64" y="517.94" width="18.48" height="18.48" fill="#00ff00"/>
<rect x="781.82" y="517.94" width="18.48" height="18.48" fill="#00ff00"/>
<rect x="254.55" y="536.12" width="18.48" height="18.48" fill="#00ffdf"/>
<rect x="272.73" y="536.12" width="18.48" height="18.48" fill="#00ffbf"/>
<rect x="290.91" y="536.12" width="18.48" height="18.48" fill="#00ffbf"/>
<rect x="309.09" y="536.12" width="18.48" height="18.48" fill="#00ffbf"/>
<rect x="327.27" y="536.12" width="18.48" height="18.48" fill="#00ffbf"/>
<rect x="345.45" y="536.12" width="18.48" height="18.48" fill="#00ffbf"/>
<rect x="363.64" y="536.12" width="18.48" height="18.48" fill="#00ffbf"/>
<rect x="381.82" y="536.12" width="18.48" height="18.48" fill="#00ffbf"/>
<rect x="400.00" y="536.12" width="18.48" height="18.48" fill="#00ff9f"/>
<rect x="418.18" y="536.12" width="18.48" height="18.48" fill="#00ff80"/>
<rect x="436.36" y="536.12" width="18.48" height="18.48" fill="#00ff60"/>
<rect x="454.55" y="536.12" width="18.48" height="18.48" fill="#00ff40"/>
<rect x="472.73" y="536.12" width="18.48" height="18.48" fill="#00ff40"/>
<rect x="490.91" y="536.12" width="18.48" height="18.48" fill="#00ff20"/>
<rect x="509.09" y="536.12" width="18.48" height="18.48" fill="#00ff20"/>
<rect x="527.27" y="536.12" width="18.48" height="18.48" fill="#00ff00"/>
<rect x="545.45" y="536.12" width="18.48" height="18.48" fill="#00ff00"/>
<rect x="563.64" y="536.12" width="18.48" height="18.48" fill="#00ff20"/>
<rect x="581.82" y="536.12" width="18.48" height="18.48" fill="#00ff20"/>
<rect x="600.00" y="536.12" width="18.48" height="18.48" fill="#00ff60"/>
<rect x="618.18" y="536.12" width="18.48" height="18.48" fill="#00ff9f"/>
<rect x="636.36" y="536.12" width="18.48" height="18.48" fill="#00ff9f"/>
<rect x="654.55" y="536.12" width="18.48" height="18.48" fill="#00ff80"/>
<rect x="672.73" y="536.12" width="18.48" height="18.48" fill="#00ff60"/>
<rect x="690.91" y="536.12" width="18.48" height="18.48" fill="#00ff40"/>
<rect x="709.09" y="536.12" width="18.48" height="18.48" fill="#00ff20"/>
<rect x="727.27" y="536.12" width="18.48" height="18.48" fill="#00ff20"/>
<rect x="745.45" y="536.12" width="18.48" height="18.48" fill="#00ff00"/>
<rect x="763.64" y="536.12" width="18.48" height="18.48" fill="#20ff00"/>
<rect x="781.82" y="536.12" width="18.48" height="18.48" fill="#20ff00"/>
<rect x="236.36" y="554.30" width="18.48" height="18.48" fill="#00ff9f"/>
<rect x="254.55" y="554.30" width="18.48" height="18.48" fill="#00ff80"/>
<rect x="272.73" y="554.30" width="18.48" height="18.48" fill="#00ff80"/>
<rect x="290.91" y="554.30" width="18.48" height="18.48" fill="#00ff80"/>
<rect x="309.09" y="554.30" width="18.48" height="18.48" fill="#00ff80"/>
<rect x="327.27" y="554.30" width="18.48" height="18.48" fill="#00ff80"/>
<rect x="345.45" y="554.30" width="18.48" height="18.48" fill="#00ff80"/>
<rect x="363.64" y="554.30" width="18.48" height="18.48" fill="#00ff9f"/>
<rect x="381.82" y="554.30" width="18.48" height="18.48" fill="#00ff9f"/>
<rect x="400.00" y="554.30" width="18.48" height="18.48" fill="#00ff9f"/>
<rect x="418.18" y="554.30" width="18.48" height="18.48" fill="#00ff9f"/>
<rect x="436.36" y="554.30" width="18.48" height="18.48" fill="#00ff80"/>
<rect x="454.55" y="554.30" width="18.48" height="18.48" fill="#00ff60"/>
<rect x="472.73" y="554.30" width="18.48" height="18.48" fill="#00ff40"/>
<rect x="490.91" y="554.30" width="18.48" height="18.48" fill="#00ff20"/>
<rect x="509.09" y="554.30" width="18.48" height="18.48" fill="#00ff20"/>
<rect x="527.27" y="554.30" width="18.48" height="18.48" fill="#00ff20"/>
<rect x="545.45" y="554.30" width="18.48" height="18.48" fill="#00ff20"/>
<rect x="563.64" y="554.30" width="18.48" height="18.48" fill="#00ff20"/>
<rect x="581.82" y="554.30" width="18.48" height="18.48" fill="#00ff40"/>
<rect x="600.00" y="554.30" width="18.48" height="18.48" fill="#00ff40"/>
<rect x="618.18" y="554.30" width="18.48" height="18.48" fill="#00ff60"/>
<rect x="636.36" y="554.30" width="18.48" height="18.48" fill="#00ff80"/>
<rect x="654.55" y="554.30" width="18.48" height="18.48" fill="#00ff60"/>
<rect x="672.73" y="554.30" width="18.48" height="18.48" fill="#00ff40"/>
<rect x="690.91" y="554.30" width="18.48" height="18.48" fill="#00ff20"/>
<rect x="709.09" y="554.30" width="18.48" height="18.48" fill="#00ff20"/>
<rect x="727.27" y="554.30" width="18.48" height="18.48" fill="#00ff00"/>
<rect x="745.45" y="554.30" width="18.48" height="18.48" fill="#20ff00"/>
<rect x="763.64" y="554.30" width="18.48" height="18.48" fill="#40ff00"/>
<rect x="781.82" y="554.30" width="18.48" height="18.48" fill="#60ff00"/>
<rect x="200.00" y="572.49" width="18.48" height="18.48" fill="#00ff60"/>
<rect x="218.18" y="572.49" width="18.48" height="18.48" fill="#00ff40"/>
<rect x="236.36" y="572.49" width="18.48" height="18.48" fill="#00ff40"/>
<rect x="254.55" y="572.49" width="18.48" height="18.48" fill="#00ff40"/>
<rect x="272.73" y="572.49" width="18.48" height="18.48" fill="#00ff40"/>
<rect x="290.91" y="572.49" width="18.48" height="18.48" fill="#00ff40"/>
<rect x="309.09" y="572.49" width="18.48" height="18.48" fill="#00ff40"/>
<rect x="327.27" y="572.49" width="18.48" height="18.48" fill="#00ff60"/>
<rect x="345.45" y="572.49" width="18.48" height="18.48" fill="#00ff60"/>
<rect x="363.64" y="572.49" width="18.48" height="18.48" fill="#00ff80"/>
<rect x="381.82" y="572.49" width="18.48" height="18.48" fill="#00ff9f"/>
<rect x="400.00" y="572.49" width="18.48" height="18.48" fill="#00ffbf"/>
<rect x="418.18" y="572.49" width="18.48" height="18.48" fill="#00ffbf"/>
<rect x="436.36" y="572.49" width="18.48" height="18.48" fill="#00ffbf"/>
<rect x="454.55" y="572.49" width="18.48" height="18.48" fill="#00ff80"/>
<rect x="472.73" y="572.49" width="18.48" height="18.48" fill="#00ff60"/>
<rect x="490.91" y="572.49" width="18.48" height="18.48" fill="#00ff40"/>
<rect x="509.09" y="572.49" width="18.48" height="18.48" fill="#00ff40"/>
<rect x="527.27" y="572.49" width="18.48" height="18.48" fill="#00ff20"/>
<rect x="545.45" y="572.49" width="18.48" height="18.48" fill="#00ff20"/>
<rect x="563.64" y="572.49" width="18.48" height="18.48" fill="#00ff40"/>
<rect x="581.82" y="572.49" width="18.48" height="18.48" fill="#00ff40"/>
<rect x="600.00" y="572.49" width="18.48" height="18.48" fill="#00ff40"/>
<rect x="618.18" y="572.49" width="18.48" height="18.48" fill="#00ff60"/>
<rect x="636.36" y="572.49" width="18.48" height="18.48" fill="#00ff60"/>
<rect x="654.55" y="572.49" width="18.48" height="18.48" fill="#00ff40"/>
<rect x="672.73" y="572.49" width="18.48" height="18.48" fill="#00ff40"/>
<rect x="690.91" y="572.49" width="18.48" height="18.48" fill="#00ff20"/>
<rect x="709.09" y="572.49" width="18.48" height="18.48" fill="#00ff00"/>
<rect x="727.27" y="572.49" width="18.48" height="18.48" fill="#20ff00"/>
<rect x="745.45" y="572.49" width="18.48" height="18.48" fill="#40ff00"/>
<rect x="763.64" y="572.49" width="18.48" height="18.48" fill="#60ff00"/>
<rect x="781.82" y="572.49" width="18.48" height="18.48" fill="#80ff00"/>
<rect x="127.27" y="590.67" width="18.48" height="18.48" fill="#00ff60"/>
<rect x="145.45" y="590.67" width="18.48" height="18.48" fill="#00ff60"/>
<rect x="163.64" y="590.67" width="18.48" height="18.48" fill="#00ff60"/>
<rect x="181.82" y="590.67" width="18.48" height="18.48" fill="#00ff60"/>
<rect x="200.00" y="590.67" width="18.48" height="18.48" fill="#00ff00"/>
<rect x="218.18" y="590.67" width="18.48" height="18.48" fill="#00ff00"/>
<rect x="236.36" y="590.67" width="18.48" height="18.48" fill="#00ff00"/>
<rect x="254.55" y="590.67" width="18.48" height="18.48" fill="#00ff00"/>
<rect x="272.73" y="590.67" width="18.48" height="18.48" fill="#00ff20"/>
<rect x="290.91" y="590.67" width="18.48" height="18.48" fill="#00ff20"/>
<rect x="309.09" y="590.67" width="18.48" height="18.48" fill="#00ff40"/>
<rect x="327.27" y="590.67" width="18.48" height="18.48" fill="#00ff40"/>
<rect x="345.45" y="590.67" width="18.48" height="18.48" fill="#00ff60"/>
<rect x="363.64" y="590.67" width="18.48" height="18.48" fill="#00ff80"/>
<rect x="381.82" y="590.67" width="18.48" height="18.48" fill="#00ff9f"/>
<rect x="400.00" y="590.67" width="18.48" height="18.48" fill="#00ffbf"/>
<rect x="418.18" y="590.67" width="18.48" height="18.48" fill="#00ffff"/>
<rect x="436.36" y="590.67" width="18.48" height="18.48" fill="#00ffdf"/>
<rect x="454.55" y="590.67" width="18.48" height="18.48" fill="#00ff9f"/>
<rect x="472.73" y="590.67" width="18.48" height="18.48" fill="#00ff80"/>
<rect x="490.91" y="590.67" width="18.48" height="18.48" fill="#00ff60"/>
<rect x="509.09" y="590.67" width="18.48" height="18.48" fill="#00ff40"/>
<rect x="527.27" y="590.67" width="18.48" height="18.48" fill="#00ff40"/>
<rect x="545.45" y="590.67" width="18.48" height="18.48" fill="#00ff40"/>
<rect x="563.64" y="590.67" width="18.48" height="18.48" fill="#00ff40"/>
<rect x="581.82" y="590.67" width="18.48" height="18.48" fill="#00ff40"/>
<rect x="600.00" y="590.67" width="18.48" height="18.48" fill="#00ff40"/>
<rect x="618.18" y="590.67" width="18.48" height="18.48" fill="#00ff40"/>
<rect x="636.36" y="590.67" width="18.48" height="18.48" fill="#00ff40"/>
<rect x="654.55" y="590.67" width="18.48" height="18.48" fill="#00ff40"/>
<rect x="672.73" y="590.67" width="18.48" height="18.48" fill="#00ff20"/>
<rect x="690.91" y="590.67" width="18.48" height="18.48" fill="#00ff00"/>
<rect x="709.09" y="590.67" width="18.48" height="18.48" fill="#00ff00"/>
<rect x="727.27" y="590.67" width="18.48" height="18.48" fill="#20ff00"/>
<rect x="745.45" y="590.67" width="18.48" height="18.48" fill="#40ff00"/>
<rect x="763.64" y="590.67" width="18.48" height="18.48" fill="#60ff00"/>
<rect x="781.82" y="590.67" width="18.48" height="18.48" fill="#80ff00"/>
<rect x="18.18" y="608.85" width="18.48" height="18.48" fill="#00ffbf"/>
<rect x="36.36" y="608.85" width="18.48" height="18.48" fill="#00ffbf"/>
<rect x="54.55" y="608.85" width="18.48" height="18.48" fill="#00ff9f"/>
<rect x="72.73" y="608.85" width="18.48" height="18.48" fill="#00ff9f"/>
<rect x="90.91" y="608.85" width="18.48" height="18.48" fill="#00ff9f"/>
<rect x="109.09" y="608.85" width="18.48" height="18.48" fill="#00ff80"/>
<rect x="127.27" y="608.85" width="18.48" height="18.48" fill="#00ff60"/>
<rect x="145.45" y="608.85" width="18.48" height="18.48" fill="#00ff60"/>
<rect x="163.64" y="608.85" width="18.48" height="18.48" fill="#00ff60"/>
<rect x="181.82" y="608.85" width="18.48" height="18.48" fill="#00ff60"/>
<rect x="200.00" y="608.85" width="18.48" height="18.48" fill="#00ff20"/>
<rect x="218.18" y="608.85" width="18.48" height="18.48" fill="#00ff20"/>
<rect x="236.36" y="608.85" width="18.48" height="18.48" fill="#00ff20"/>
<rect x="254.55" y="608.85" width="18.48" height="18.48" fill="#00ff20"/>
<rect x="272.73" y="608.85" width="18.48" height="18.48" fill="#00ff20"/>
<rect x="290.91" y="608.85" width="18.48" height="18.48" fill="#00ff40"/>
<rect x="309.09" y="608.85" width="18.48" height="18.48" fill="#00ff40"/>
<rect x="327.27" y="608.85" width="18.48" height="18.48" fill="#00ff60"/>
<rect x="345.45" y="608.85" width="18.48" height="18.48" fill="#00ff60"/>
<rect x="363.64" y="608.85" width="18.48" height="18.48" fill="#00ff80"/>
<rect x="381.82" y="608.85" width="18.48" height="18.48" fill="#00ff9f"/>
<rect x="400.00" y="608.85" width="18.48" height="18.48" fill="#00ffbf"/>
<rect x="418.18" y="608.85" width="18.48" height="18.48" fill="#00ffdf"/>
<rect x="436.36" y="608.85" width="18.48" height="18.48" fill="#00ffdf"/>
<rect x="454.55" y="608.85" width="18.48" height="18.48" fill="#00ff9f"/>
<rect x="472.73" y="608.85" width="18.48" height="18.48" fill="#00ff80"/>
<rect x="490.91" y="608.85" width="18.48" height="18.48" fill="#00ff60"/>
<rect x="509.09" y="608.85" width="18.48" height="18.48" fill="#00ff40"/>
<rect x="527.27" y="608.85" width="18.48" height="18.48" fill="#00ff40"/>
<rect x="545.45" y="608.85" width="18.48" height="18.48" fill="#00ff40"/>
<rect x="563.64" y="608.85" width="18.48" height="18.48" fill="#00ff40"/>
<rect x="581.82" y="608.85" width="18.48" height="18.48" fill="#00ff40"/>
<rect x="600.00" y="608.85" width="18.48" height="18.48" fill="#00ff40"/>
<rect x="618.18" y="608.85" width="18.48" height="18.48" fill="#00ff40"/>
<rect x="636.36" y="608.85" width="18.48" height="18.48" fill="#00ff40"/>
<rect x="654.55" y="608.85" width="18.48" height="18.48" fill="#00ff20"/>
<rect x="672.73" y="608.85" width="18.48" height="18.48" fill="#00ff20"/>
<rect x="690.91" y="608.85" width="18.48" height="18.48" fill="#00ff00"/>
<rect x="709.09" y="608.85" width="18.48" height="18.48" fill="#00ff00"/>
<rect x="727.27" y="608.85" width="18.48" height="18.48" fill="#00ff00"/>
<rect x="745.45" y="608.85" width="18.48" height="18.48" fill="#20ff00"/>
<rect x="763.64" y="608.85" width="18.48" height="18.48" fill="#40ff00"/>
<rect x="781.82" y="608.85" width="18.48" height="18.48" fill="#60ff00"/>
<rect x="0.00" y="627.04" width="18.48" height="18.48" fill="#00ff9f"/>
<rect x="18.18" y="627.04" width="18.48" height="18.48" fill="#00ff80"/>
<rect x="36.36" y="627.04" width="18.48" height="18.48" fill="#00ff80"/>
<rect x="54.55" y="627.04" width="18.48" height="18.48" fill="#00ff60"/>
<rect x="72.73" y="627.04" width="18.48" height="18.48" fill="#00ff60"/>
<rect x="90.91" y="627.04" width="18.48" height="18.48" fill="#00ff40"/>
<rect x="109.09" y="627.04" width="18.48" height="18.48" fill="#00ff40"/>
<rect x="127.27" y="627.04" width="18.48" height="18.48" fill="#00ff20"/>
<rect x="145.45" y="627.04" width="18.48" height="18.48" fill="#00ff20"/>
<rect x="163.64" y="627.04" width="18.48" height="18.48" fill="#00ff00"/>
<rect x="181.82" y="627.04" width="18.48" height="18.48" fill="#00ff00"/>
<rect x="200.00" y="627.04" width="18.48" height="18.48" fill="#00ff00"/>
<rect x="218.18" y="627.04" width="18.48" height="18.48" fill="#00ff00"/>
<rect x="236.36" y="627.04" width="18.48" height="18.48" fill="#00ff00"/>
<rect x="254.55" y="627.04" width="18.48" height="18.48" fill="#00ff00"/>
<rect x="272.73" y="627.04" width="18.48" height="18.48" fill="#00ff00"/>
<rect x="290.91" y="627.04" width="18.48" height="18.48" fill="#00ff00"/>
<rect x="309.09" y="627.04" width="18.48" height="18.48" fill="#00ff00"/>
<rect x="327.27" y="627.04" width="18.48" height="18.48" fill="#00ff20"/>
<rect x="345.45" y="627.04" width="18.48" height="18.48" fill="#00ff40"/>
<rect x="363.64" y="627.04" width="18.48" height="18.48" fill="#00ff60"/>
<rect x="381.82" y="627.04" width="18.48" height="18.48" fill="#00ff80"/>
<rect x="400.00" y="627.04" width="18.48" height="18.48" fill="#00ff9f"/>
<rect x="418.18" y="627.04" width="18.48" height="18.48" fill="#00ffbf"/>
<rect x="436.36" y="627.04" width="18.48" height="18.48" fill="#00ffbf"/>
<rect x="454.55" y="627.04" width="18.48" height="18.48" fill="#00ff9f"/>
<rect x="472.73" y="627.04" width="18.48" height="18.48" fill="#00ff80"/>
<rect x="490.91" y="627.04" width="18.48" height="18.48" fill="#00ff60"/>
<rect x="509.09" y="627.04" width="18.48" height="18.48" fill="#00ff60"/>
<rect x="527.27" y="627.04" width="18.48" height="18.48" fill="#00ff40"/>
<rect x="545.45" y="627.04" width="18.48" height="18.48" fill="#00ff40"/>
<rect x="563.64" y="627.04" width="18.48" height="18.48" fill="#00ff40"/>
<rect x="581.82" y="627.04" width="18.48" height="18.48" fill="#00ff40"/>
<rect x="600.00" y="627.04" width="18.48" height="18.48" fill="#00ff40"/>
<rect x="618.18" y="627.04" width="18.48" height="18.48" fill="#00ff40"/>
<rect x="636.36" y="627.04" width="18.48" height="18.48" fill="#00ff40"/>
<rect x="654.55" y="627.04" width="18.48" height="18.48" fill="#00ff40"/>
<rect x="672.73" y="627.04" width="18.48" height="18.48" fill="#00ff20"/>
<rect x="690.91" y="627.04" width="18.48" height="18.48" fill="#00ff00"/>
<rect x="709.09" y="627.04" width="18.48" height="18.48" fill="#00ff00"/>
<rect x="727.27" y="627.04" width="18.48" height="18.48" fill="#00ff00"/>
<rect x="745.45" y="627.04" width="18.48" height="18.48" fill="#00ff00"/>
<rect x="763.64" y="627.04" width="18.48" height="18.48" fill="#20ff00"/>
<rect x="781.82" y="627.04" width="18.48" height="18.48" fill="#40ff00"/>
<rect x="0.00" y="645.22" width="18.48" height="18.48" fill="#00ff60"/>
<rect x="18.18" y="645.22" width="18.48" height="18.48" fill="#00ff60"/>
<rect x="36.36" y="645.22" width="18.48" height="18.48" fill="#00ff60"/>
<rect x="54.55" y="645.22" width="18.48" height="18.48" fill="#00ff80"/>
<rect x="72.73" y="645.22" width="18.48" height="18.48" fill="#00ff80"/>
<rect x="90.91" y="645.22" width="18.48" height="18.48" fill="#00ff80"/>
<rect x="109.09" y="645.22" width="18.48" height="18.48" fill="#00ff60"/>
<rect x="127.27" y="645.22" width="18.48" height="18.48" fill="#00ff60"/>
<rect x="145.45" y="645.22" width="18.48" height="18.48" fill="#00ff60"/>
<rect x="163.64" y="645.22" width="18.48" height="18.48" fill="#00ff60"/>
<rect x="181.82" y="645.22" width="18.48" height="18.48" fill="#00ff60"/>
<rect x="200.00" y="645.22" width="18.48" height="18.48" fill="#00ff00"/>
<rect x="218.18" y="645.22" width="18.48" height="18.48" fill="#00ff00"/>
<rect x="236.36" y="645.22" width="18.48" height="18.48" fill="#00ff00"/>
<rect x="254.55" y="645.22" width="18.48" height="18.48" fill="#00ff00"/>
<rect x="272.73" y="645.22" width="18.48" height="18.48" fill="#00ff00"/>
<rect x="290.91" y="645.22" width="18.48" height="18.48" fill="#00ff00"/>
<rect x="309.09" y="645.22" width="18.48" height="18.48" fill="#00ff20"/>
<rect x="327.27" y="645.22" width="18.48" height="18.48" fill="#00ff20"/>
<rect x="345.45" y="645.22" width="18.48" height="18.48" fill="#00ff40"/>
<rect x="363.64" y="645.22" width="18.48" height="18.48" fill="#00ff60"/>
<rect x="381.82" y="645.22" width="18.48" height="18.48" fill="#00ff80"/>
<rect x="400.00" y="645.22" width="18.48" height="18.48" fill="#00ff9f"/>
<rect x="418.18" y="645.22" width="18.48" height="18.48" fill="#00ff9f"/>
<rect x="436.36" y="645.22" width="18.48" height="18.48" fill="#00ffbf"/>
<rect x="454.55" y="645.22" width="18.48" height="18.48" fill="#00ff9f"/>
<rect x="472.73" y="645.22" width="18.48" height="18.48" fill="#00ff80"/>
<rect x="490.91" y="645.22" width="18.48" height="18.48" fill="#00ff60"/>
<rect x="509.09" y="645.22" width="18.48" height="18.48" fill="#00ff60"/>
<rect x="527.27" y="645.22" width="18.48" height="18.48" fill="#00ff40"/>
<rect x="545.45" y="645.22" width="18.48" height="18.48" fill="#00ff40"/>
<rect x="563.64" y="645.22" width="18.48" height="18.48" fill="#00ff40"/>
<rect x="581.82" y="645.22" width="18.48" height="18.48" fill="#00ff20"/>
<rect x="600.00" y="645.22" width="18.48" height="18.48" fill="#00ff20"/>
<rect x="618.18" y="645.22" width="18.48" height="18.48" fill="#00ff20"/>
<rect x="636.36" y="645.22" width="18.48" height="18.48" fill="#00ff20"/>
<rect x="654.55" y="645.22" width="18.48" height="18.48" fill="#00ff20"/>
<rect x="672.73" y="645.22" width="18.48" height="18.48" fill="#00ff00"/>
<rect x="690.91" y="645.22" width="18.48" height="18.48" fill="#00ff00"/>
<rect x="709.09" y="645.22" width="18.48" height="18.48" fill="#20ff00"/>
<rect x="727.27" y="645.22" width="18.48" height="18.48" fill="#20ff00"/>
<rect x="745.45" y="645.22" width="18.48" height="18.48" fill="#00ff00"/>
<rect x="763.64" y="645.22" width="18.48" height="18.48" fill="#20ff00"/>
<rect x="781.82" y="645.22" width="18.48" height="18.48" fill="#40ff00"/>
<rect x="0.00" y="663.40" width="18.48" height="18.48" fill="#00ff60"/>
<rect x="18.18" y="663.40" width="18.48" height="18.48" fill="#00ff60"/>
<rect x="36.36" y="663.40" width="18.48" height="18.48" fill="#00ff80"/>
<rect x="54.55" y="663.40" width="18.48" height="18.48" fill="#00ff80"/>
<rect x="72.73" y="663.40" width="18.48" height="18.48" fill="#00ff80"/>
<rect x="90.91" y="663.40" width="18.48" height="18.48" fill="#00ff80"/>
<rect x="109.09" y="663.40" width="18.48" height="18.48" fill="#00ff80"/>
<rect x="127.27" y="663.40" width="18.48" height="18.48" fill="#00ff80"/>
<rect x="145.45" y="663.40" width="18.48" height="18.48" fill="#00ff60"/>
<rect x="163.64" y="663.40" width="18.48" height="18.48" fill="#00ff60"/>
<rect x="181.82" y="663.40" width="18.48" height="18.48" fill="#00ff60"/>
<rect x="200.00" y="663.40" width="18.48" height="18.48" fill="#00ff40"/>
<rect x="218.18" y="663.40" width="18.48" height="18.48" fill="#00ff40"/>
<rect x="236.36" y="663.40" width="18.48" height="18.48" fill="#00ff20"/>
<rect x="254.55" y="663.40" width="18.48" height="18.48" fill="#00ff20"/>
<rect x="272.73" y="663.40" width="18.48" height="18.48" fill="#00ff00"/>
<rect x="290.91" y="663.40" width="18.48" height="18.48" fill="#00ff20"/>
<rect x="309.09" y="663.40" width="18.48" height="18.48" fill="#00ff20"/>
<rect x="327.27" y="663.40" width="18.48" height="18.48" fill="#00ff20"/>
<rect x="345.45" y="663.40" width="18.48" height="18.48" fill="#00ff40"/>
<rect x="363.64" y="663.40" width="18.48" height="18.48" fill="#00ff60"/>
<rect x="381.82" y="663.40" width="18.48" height="18.48" fill="#00ff80"/>
<rect x="400.00" y="663.40" width="18.48" height="18.48" fill="#00ff9f"/>
<rect x="418.18" y="663.40" width="18.48" height="18.48" fill="#00ff9f"/>
<rect x="436.36" y="663.40" width="18.48" height="18.48" fill="#00ff9f"/>
<rect x="454.55" y="663.40" width="18.48" height="18.48" fill="#00ff9f"/>
<rect x="472.73" y="663.40" width="18.48" height="18.48" fill="#00ff80"/>
<rect x="490.91" y="663.40" width="18.48" height="18.48" fill="#00ff60"/>
<rect x="509.09" y="663.40" width="18.48" height="18.48" fill="#00ff40"/>
<rect x="527.27" y="663.40" width="18.48" height="18.48" fill="#00ff40"/>
<rect x="545.45" y="663.40" width="18.48" height="18.48" fill="#00ff40"/>
<rect x="563.64" y="663.40" width="18.48" height="18.48" fill="#00ff40"/>
<rect x="581.82" y="663.40" width="18.48" height="18.48" fill="#00ff20"/>
<rect x="600.00" y="663.40" width="18.48" height="18.48" fill="#00ff20"/>
<rect x="618.18" y="663.40" width="18.48" height="18.48" fill="#00ff20"/>
<rect x="636.36" y="663.40" width="18.48" height="18.48" fill="#00ff00"/>
<rect x="654.55" y="663.40" width="18.48" height="18.48" fill="#00ff00"/>
<rect x="672.73" y="663.40" width="18.48" height="18.48" fill="#00ff00"/>
<rect x="690.91" y="663.40" width="18.48" height="18.48" fill="#00ff00"/>
<rect x="709.09" y="663.40" width="18.48" height="18.48" fill="#20ff00"/>
<rect x="727.27" y="663.40" width="18.48" height="18.48" fill="#20ff00"/>
<rect x="745.45" y="663.40" width="18.48" height="18.48" fill="#20ff00"/>
<rect x="763.64" y="663.40" width="18.48" height="18.48" fill="#40ff00"/>
<rect x="781.82" y="663.40" width="18.48" height="18.48" fill="#40ff00"/>
<rect x="0.00" y="681.59" width="18.48" height="18.48" fill="#00ff60"/>
<rect x="18.18" y="681.59" width="18.48" height="18.48" fill="#00ff60"/>
<rect x="36.36" y="681.59" width="18.48" height="18.48" fill="#00ff9f"/>
<rect x="54.55" y="681.59" width="18.48" height="18.48" fill="#00ffbf"/>
<rect x="72.73" y="681.59" width="18.48" height="18.48" fill="#00ffbf"/>
<rect x="90.91" y="681.59" width="18.48" height="18.48" fill="#00ffbf"/>
<rect x="109.09" y="681.59" width="18.48" height="18.48" fill="#00ffbf"/>
<rect x="127.27" y="681.59" width="18.48" height="18.48" fill="#00ff9f"/>
<rect x="145.45" y="681.59" width="18.48" height="18.48" fill="#00ff9f"/>
<rect x="163.64" y="681.59" width="18.48" height="18.48" fill="#00ff80"/>
<rect x="181.82" y="681.59" width="18.48" height="18.48" fill="#00ff80"/>
<rect x="200.00" y="681.59" width="18.48" height="18.48" fill="#00ff9f"/>
<rect x="218.18" y="681.59" width="18.48" height="18.48" fill="#00ff80"/>
<rect x="236.36" y="681.59" width="18.48" height="18.48" fill="#00ff80"/>
<rect x="254.55" y="681.59" width="18.48" height="18.48" fill="#00ff80"/>
<rect x="272.73" y="681.59" width="18.48" height="18.48" fill="#00ff40"/>
<rect x="290.91" y="681.59" width="18.48" height="18.48" fill="#00ff40"/>
<rect x="309.09" y="681.59" width="18.48" height="18.48" fill="#00ff20"/>
<rect x="327.27" y="681.59" width="18.48" height="18.48" fill="#00ff20"/>
<rect x="345.45" y="681.59" width="18.48" height="18.48" fill="#00ff40"/>
<rect x="363.64" y="681.59" width="18.48" height="18.48" fill="#00ff60"/>
<rect x="381.82" y="681.59" width="18.48" height="18.48" fill="#00ff80"/>
<rect x="400.00" y="681.59" width="18.48" height="18.48" fill="#00ff80"/>
<rect x="418.18" y="681.59" width="18.48" height="18.48" fill="#00ff80"/>
<rect x="436.36" y="681.59" width="18.48" height="18.48" fill="#00ff80"/>
<rect x="454.55" y="681.59" width="18.48" height="18.48" fill="#00ff80"/>
<rect x="472.73" y="681.59" width="18.48" height="18.48" fill="#00ff80"/>
<rect x="490.91" y="681.59" width="18.48" height="18.48" fill="#00ff60"/>
<rect x="509.09" y="681.59" width="18.48" height="18.48" fill="#00ff40"/>
<rect x="527.27" y="681.59" width="18.48" height="18.48" fill="#00ff40"/>
<rect x="545.45" y="681.59" width="18.48" height="18.48" fill="#00ff20"/>
<rect x="563.64" y="681.59" width="18.48" height="18.48" fill="#00ff20"/>
<rect x="581.82" y="681.59" width="18.48" height="18.48" fill="#00ff20"/>
<rect x="600.00" y="681.59" width="18.48" height="18.48" fill="#00ff20"/>
<rect x="618.18" y="681.59" width="18.48" height="18.48" fill="#00ff00"/>
<rect x="636.36" y="681.59" width="18.48" height="18.48" fill="#00ff00"/>
<rect x="654.55" y="681.59" width="18.48" height="18.48" fill="#00ff00"/>
<rect x="672.73" y="681.59" width="18.48" height="18.48" fill="#00ff00"/>
<rect x="690.91" y="681.59" width="18.48" height="18.48" fill="#20ff00"/>
<rect x="709.09" y="681.59" width="18.48" height="18.48" fill="#20ff00"/>
<rect x="727.27" y="681.59" width="18.48" height="18.48" fill="#20ff00"/>
<rect x="745.45" y="681.59" width="18.48" height="18.48" fill="#20ff00"/>
<rect x="763.64" y="681.59" width="18.48" height="18.48" fill="#40ff00"/>
<rect x="781.82" y="681.59" width="18.48" height="18.48" fill="#40ff00"/>
<rect x="0.00" y="699.77" width="18.48" height="18.48" fill="#00ff60"/>
<rect x="18.18" y="699.77" width="18.48" height="18.48" fill="#00ff9f"/>
<rect x="36.36" y="699.77" width="18.48" height="18.48" fill="#00ffbf"/>
<rect x="54.55" y="699.77" width="18.48" height="18.48" fill="#00ffdf"/>
<rect x="72.73" y="699.77" width="18.48" height="18.48" fill="#00ffdf"/>
<rect x="90.91" y="699.77" width="18.48" height="18.48" fill="#00ffff"/>
<rect x="109.09" y="699.77" width="18.48" height="18.48" fill="#00ffff"/>
<rect x="127.27" y="699.77" width="18.48" height="18.48" fill="#00ffff"/>
<rect x="145.45" y="699.77" width="18.48" height="18.48" fill="#00ffdf"/>
<rect x="163.64" y="699.77" width="18.48" height="18.48" fill="#00ffdf"/>
<rect x="181.82" y="699.77" width="18.48" height="18.48" fill="#00ffbf"/>
<rect x="200.00" y="699.77" width="18.48" height="18.48" fill="#00efff"/>
<rect x="218.18" y="699.77" width="18.48" height="18.48" fill="#00ffff"/>
<rect x="236.36" y="699.77" width="18.48" height="18.48" fill="#00ffdf"/>
<rect x="254.55" y="699.77" width="18.48" height="18.48" fill="#00ffdf"/>
<rect x="272.73" y="699.77" width="18.48" height="18.48" fill="#00ffbf"/>
<rect x="290.91" y="699.77" width="18.48" height="18.48" fill="#00ff9f"/>
<rect x="309.09" y="699.77" width="18.48" height="18.48" fill="#00ff80"/>
<rect x="327.27" y="699.77" width="18.48" height="18.48" fill="#00ff60"/>
<rect x="345.45" y="699.77" width="18.48" height="18.48" fill="#00ff40"/>
<rect x="363.64" y="699.77" width="18.48" height="18.48" fill="#00ff60"/>
<rect x="381.82" y="699.77" width="18.48" height="18.48" fill="#00ff80"/>
<rect x="400.00" y="699.77" width="18.48" height="18.48" fill="#00ff60"/>
<rect x="418.18" y="699.77" width="18.48" height="18.48" fill="#00ff60"/>
<rect x="436.36" y="699.77" width="18.48" height="18.48" fill="#00ff60"/>
<rect x="454.55" y="699.77" width="18.48" height="18.48" fill="#00ff60"/>
<rect x="472.73" y="699.77" width="18.48" height="18.48" fill="#00ff60"/>
<rect x="490.91" y="699.77" width="18.48" height="18.48" fill="#00ff60"/>
<rect x="509.09" y="699.77" width="18.48" height="18.48" fill="#00ff40"/>
<rect x="527.27" y="699.77" width="18.48" height="18.48" fill="#00ff20"/>
<rect x="545.45" y="699.77" width="18.48" height="18.48" fill="#00ff20"/>
<rect x="563.64" y="699.77" width="18.48" height="18.48" fill="#00ff20"/>
<rect x="581.82" y="699.77" width="18.48" height="18.48" fill="#00ff20"/>
<rect x="600.00" y="699.77" width="18.48" height="18.48" fill="#00ff20"/>
<rect x="618.18" y="699.77" width="18.48" height="18.48" fill="#00ff00"/>
<rect x="636.36" y="699.77" width="18.48" height="18.48" fill="#00ff00"/>
<rect x="654.55" y="699.77" width="18.48" height="18.48" fill="#00ff00"/>
<rect x="672.73" y="699.77" width="18.48" height="18.48" fill="#00ff00"/>
<rect x="690.91" y="699.77" width="18.48" height="18.48" fill="#20ff00"/>
<rect x="709.09" y="699.77" width="18.48" height="18.48" fill="#20ff00"/>
<rect x="727.27" y="699.77" width="18.48" height="18.48" fill="#20ff00"/>
<rect x="745.45" y="699.77" width="18.48" height="18.48" fill="#40ff00"/>
<rect x="763.64" y="699.77" width="18.48" height="18.48" fill="#40ff00"/>
<rect x="781.82" y="699.77" width="18.48" height="18.48" fill="#40ff00"/>
<rect x="0.00" y="717.95" width="18.48" height="18.48" fill="#00ff80"/>
<rect x="18.18" y="717.95" width="18.48" height="18.48" fill="#00ff9f"/>
<rect x="36.36" y="717.95" width="18.48" height="18.48" fill="#00ffdf"/>
<rect x="54.55" y="717.95" width="18.48" height="18.48" fill="#00ffff"/>
<rect x="72.73" y="717.95" width="18.48" height="18.48" fill="#00efff"/>
<rect x="90.91" y="717.95" width="18.48" height="18.48" fill="#00dfff"/>
<rect x="109.09" y="717.95" width="18.48" height="18.48" fill="#00dfff"/>
<rect x="127.27" y="717.95" width="18.48" height="18.48" fill="#00dfff"/>
<rect x="145.45" y="717.95" width="18.48" height="18.48" fill="#00efff"/>
<rect x="163.64" y="717.95" width="18.48" height="18.48" fill="#00efff"/>
<rect x="181.82" y="717.95" width="18.48" height="18.48" fill="#00ffff"/>
<rect x="200.00" y="717.95" width="18.48" height="18.48" fill="#00cfff"/>
<rect x="218.18" y="717.95" width="18.48" height="18.48" fill="#00dfff"/>
<rect x="236.36" y="717.95" width="18.48" height="18.48" fill="#00ffff"/>
<rect x="254.55" y="717.95" width="18.48" height="18.48" fill="#00ffdf"/>
<rect x="272.73" y="717.95" width="18.48" height="18.48" fill="#00ffbf"/>
<rect x="290.91" y="717.95" width="18.48" height="18.48" fill="#00ff9f"/>
<rect x="309.09" y="717.95" width="18.48" height="18.48" fill="#00ff80"/>
<rect x="327.27" y="717.95" width="18.48" height="18.48" fill="#00ff60"/>
<rect x="345.45" y="717.95" width="18.48" height="18.48" fill="#00ff60"/>
<rect x="363.64" y="717.95" width="18.48" height="18.48" fill="#00ff60"/>
<rect x="381.82" y="717.95" width="18.48" height="18.48" fill="#00ff60"/>
<rect x="400.00" y="717.95" width="18.48" height="18.48" fill="#00ff60"/>
<rect x="418.18" y="717.95" width="18.48" height="18.48" fill="#00ff60"/>
<rect x="436.36" y="717.95" width="18.48" height="18.48" fill="#00ff40"/>
<rect x="454.55" y="717.95" width="18.48" height="18.48" fill="#00ff40"/>
<rect x="472.73" y="717.95" width="18.48" height="18.48" fill="#00ff60"/>
<rect x="490.91" y="717.95" width="18.48" height="18.48" fill="#00ff40"/>
<rect x="509.09" y="717.95" width="18.48" height="18.48" fill="#00ff40"/>
<rect x="527.27" y="717.95" width="18.48" height="18.48" fill="#00ff20"/>
<rect x="545.45" y="717.95" width="18.48" height="18.48" fill="#00ff00"/>
<rect x="563.64" y="717.95" width="18.48" height="18.48" fill="#00ff00"/>
<rect x="581.82" y="717.95" width="18.48" height="18.48" fill="#00ff20"/>
<rect x="600.00" y="717.95" width="18.48" height="18.48" fill="#00ff20"/>
<rect x="618.18" y="717.95" width="18.48" height="18.48" fill="#00ff20"/>
<rect x="636.36" y="717.95" width="18.48" height="18.48" fill="#00ff00"/>
<rect x="654.55" y="717.95" width="18.48" height="18.48" fill="#00ff00"/>
<rect x="672.73" y="717.95" width="18.48" height="18.48" fill="#20ff00"/>
<rect x="690.91" y="717.95" width="18.48" height="18.48" fill="#20ff00"/>
<rect x="709.09" y="717.95" width="18.48" height="18.48" fill="#40ff00"/>
<rect x="727.27" y="717.95" width="18.48" height="18.48" fill="#40ff00"/>
<rect x="745.45" y="717.95" width="18.48" height="18.48" fill="#40ff00"/>
<rect x="763.64" y="717.95" width="18.48" height="18.48" fill="#40ff00"/>
<rect x="781.82" y="717.95" width="18.48" height="18.48" fill="#40ff00"/>
<rect x="0.00" y="736.13" width="18.48" height="18.48" fill="#00ff80"/>
<rect x="18.18" y="736.13" width="18.48" height="18.48" fill="#00ff9f"/>
<rect x="36.36" y="736.13" width="18.48" height="18.48" fill="#00ffdf"/>
<rect x="54.55" y="736.13" width="18.48" height="18.48" fill="#00efff"/>
<rect x="72.73" y="736.13" width="18.48" height="18.48" fill="#00dfff"/>
<rect x="90.91" y="736.13" width="18.48" height="18.48" fill="#00dfff"/>
<rect x="109.09" y="736.13" width="18.48" height="18.48" fill="#00cfff"/>
<rect x="127.27" y="736.13" width="18.48" height="18.48" fill="#00cfff"/>
<rect x="145.45" y="736.13" width="18.48" height="18.48" fill="#00dfff"/>
<rect x="163.64" y="736.13" width="18.48" height="18.48" fill="#00dfff"/>
<rect x="181.82" y="736.13" width="18.48" height="18.48" fill="#00efff"/>
<rect x="200.00" y="736.13" width="18.48" height="18.48" fill="#00dfff"/>
<rect x="218.18" y="736.13" width="18.48" height="18.48" fill="#00efff"/>
<rect x="236.36" y="736.13" width="18.48" height="18.48" fill="#00ffff"/>
<rect x="254.55" y="736.13" width="18.48" height="18.48" fill="#00ffdf"/>
<rect x="272.73" y="736.13" width="18.48" height="18.48" fill="#00ffbf"/>
<rect x="290.91" y="736.13" width="18.48" height="18.48" fill="#00ff9f"/>
<rect x="309.09" y="736.13" width="18.48" height="18.48" fill="#00ff80"/>
<rect x="327.27" y="736.13" width="18.48" height="18.48" fill="#00ff60"/>
<rect x="345.45" y="736.13" width="18.48" height="18.48" fill="#00ff60"/>
<rect x="363.64" y="736.13" width="18.48" height="18.48" fill="#00ff40"/>
<rect x="381.82" y="736.13" width="18.48" height="18.48" fill="#00ff40"/>
<rect x="400.00" y="736.13" width="18.48" height="18.48" fill="#00ff40"/>
<rect x="418.18" y="736.13" width="18.48" height="18.48" fill="#00ff40"/>
<rect x="436.36" y="736.13" width="18.48" height="18.48" fill="#00ff40"/>
<rect x="454.55" y="736.13" width="18.48" height="18.48" fill="#00ff40"/>
<rect x="472.73" y="736.13" width="18.48" height="18.48" fill="#00ff40"/>
<rect x="490.91" y="736.13" width="18.48" height="18.48" fill="#00ff40"/>
<rect x="509.09" y="736.13" width="18.48" height="18.48" fill="#00ff20"/>
<rect x="527.27" y="736.13" width="18.48" height="18.48" fill="#00ff20"/>
<rect x="545.45" y="736.13" width="18.48" height="18.48" fill="#00ff00"/>
<rect x="563.64" y="736.13" width="18.48" height="18.48" fill="#00ff00"/>
<rect x="581.82" y="736.13" width="18.48" height="18.48" fill="#00ff20"/>
<rect x="600.00" y="736.13" width="18.48" height="18.48" fill="#00ff20"/>
<rect x="618.18" y="736.13" width="18.48" height="18.48" fill="#00ff20"/>
<rect x="636.36" y="736.13" width="18.48" height="18.48" fill="#00ff00"/>
<rect x="654.55" y="736.13" width="18.48" height="18.48" fill="#00ff00"/>
<rect x="672.73" y="736.13" width="18.48" height="18.48" fill="#20ff00"/>
<rect x="690.91" y="736.13" width="18.48" height="18.48" fill="#40ff00"/>
<rect x="709.09" y="736.13" width="18.48" height="18.48" fill="#60ff00"/>
<rect x="727.27" y="736.13" width="18.48" height="18.48" fill="#60ff00"/>
<rect x="745.45" y="736.13" width="18.48" height="18.48" fill="#60ff00"/>
<rect x="763.64" y="736.13" width="18.48" height="18.48" fill="#60ff00"/>
<rect x="781.82" y="736.13" width="18.48" height="18.48" fill="#40ff00"/>
<rect x="0.00" y="754.32" width="18.48" height="18.48" fill="#00ff9f"/>
<rect x="18.18" y="754.32" width="18.48" height="18.48" fill="#00ffbf"/>
<rect x="36.36" y="754.32" width="18.48" height="18.48" fill="#00ffff"/>
<rect x="54.55" y="754.32" width="18.48" height="18.48" fill="#00dfff"/>
<rect x="72.73" y="754.32" width="18.48" height="18.48" fill="#00dfff"/>
<rect x="90.91" y="754.32" width="18.48" height="18.48" fill="#00dfff"/>
<rect x="109.09" y="754.32" width="18.48" height="18.48" fill="#00cfff"/>
<rect x="127.27" y="754.32" width="18.48" height="18.48" fill="#00cfff"/>
<rect x="145.45" y="754.32" width="18.48" height="18.48" fill="#00dfff"/>
<rect x="163.64" y="754.32" width="18.48" height="18.48" fill="#00dfff"/>
<rect x="181.82" y="754.32" width="18.48" height="18.48" fill="#00dfff"/>
<rect x="200.00" y="754.32" width="18.48" height="18.48" fill="#00efff"/>
<rect x="218.18" y="754.32" width="18.48" height="18.48" fill="#00ffff"/>
<rect x="236.36" y="754.32" width="18.48" height="18.48" fill="#00ffdf"/>
<rect x="254.55" y="754.32" width="18.48" height="18.48" fill="#00ffbf"/>
<rect x="272.73" y="754.32" width="18.48" height="18.48" fill="#00ffbf"/>
<rect x="290.91" y="754.32" width="18.48" height="18.48" fill="#00ff9f"/>
<rect x="309.09" y="754.32" width="18.48" height="18.48" fill="#00ff80"/>
<rect x="327.27" y="754.32" width="18.48" height="18.48" fill="#00ff60"/>
<rect x="345.45" y="754.32" width="18.48" height="18.48" fill="#00ff60"/>
<rect x="363.64" y="754.32" width="18.48" height="18.48" fill="#00ff40"/>
<rect x="381.82" y="754.32" width="18.48" height="18.48" fill="#00ff20"/>
<rect x="400.00" y="754.32" width="18.48" height="18.48" fill="#00ff20"/>
<rect x="418.18" y="754.32" width="18.48" height="18.48" fill="#00ff40"/>
<rect x="436.36" y="754.32" width="18.48" height="18.48" fill="#00ff40"/>
<rect x="454.55" y="754.32" width="18.48" height="18.48" fill="#00ff40"/>
<rect x="472.73" y="754.32" width="18.48" height="18.48" fill="#00ff40"/>
<rect x="490.91" y="754.32" width="18.48" height="18.48" fill="#00ff20"/>
<rect x="509.09" y="754.32" width="18.48" height="18.48" fill="#00ff20"/>
<rect x="527.27" y="754.32" width="18.48" height="18.48" fill="#00ff20"/>
<rect x="545.45" y="754.32" width="18.48" height="18.48" fill="#00ff00"/>
<rect x="563.64" y="754.32" width="18.48" height="18.48" fill="#00ff00"/>
<rect x="581.82" y="754.32" width="18.48" height="18.48" fill="#00ff20"/>
<rect x="600.00" y="754.32" width="18.48" height="18.48" fill="#00ff20"/>
<rect x="618.18" y="754.32" width="18.48" height="18.48" fill="#00ff20"/>
<rect x="636.36" y="754.32" width="18.48" height="18.48" fill="#00ff20"/>
<rect x="654.55" y="754.32" width="18.48" height="18.48" fill="#00ff00"/>
<rect x="672.73" y="754.32" width="18.48" height="18.48" fill="#20ff00"/>
<rect x="690.91" y="754.32" width="18.48" height="18.48" fill="#60ff00"/>
<rect x="709.09" y="754.32" width="18.48" height="18.48" fill="#60ff00"/>
<rect x="727.27" y="754.32" width="18.48" height="18.48" fill="#60ff00"/>
<rect x="745.45" y="754.32" width="18.48" height="18.48" fill="#60ff00"/>
<rect x="763.64" y="754.32" width="18.48" height="18.48" fill="#40ff00"/>
<rect x="781.82" y="754.32" width="18.48" height="18.48" fill="#40ff00"/>
</g>
<path d="M718.2 36.1L722.1 41.2M719.6 40.1L722.1 41.2L721.7 38.5M772.7 36.1L774.0 42.4M772.3 40.3L774.0 42.4L774.8 39.8M790.9 36.1L791.8 46.6M789.4 42.9L791.8 46.6L793.6 42.5M700.0 54.3L704.5 57.7M702.2 57.3L704.5 57.7L703.5 55.5M718.2 54.3L721.7 58.7M719.5 57.7L721.7 58.7L721.3 56.4M754.5 54.3L756.5 60.4M754.6 58.5L756.5 60.4L757.0 57.7M772.7 54.3L774.2 61.4M772.3 59.0L774.2 61.4L775.1 58.5M790.9 54.3L791.9 64.8M789.5 61.1L791.9 64.8L793.6 60.7M681.8 72.5L686.2 74.4M684.2 74.6L686.2 74.4L685.0 72.8M700.0 72.5L704.0 75.1M702.0 74.9L704.0 75.1L703.0 73.4M718.2 72.5L721.8 76.8M719.6 75.9L721.8 76.8L721.3 74.5M736.4 72.5L738.9 78.4M736.8 76.7L738.9 78.4L739.1 75.7M754.5 72.5L756.5 78.6M754.5 76.7L756.5 78.6L757.0 75.9M772.7 72.5L774.2 79.6M772.3 77.2L774.2 79.6L775.1 76.6M790.9 72.5L792.1 83.0M789.6 79.3L792.1 83.0L793.7 78.8M663.6 90.6L668.3 91.6M666.4 92.1L668.3 91.6L666.8 90.3M681.8 90.6L687.1 92.7M684.7 92.9L687.1 92.7L685.5 90.9M700.0 90.6L705.5 94.0M702.8 93.8L705.5 94.0L704.1 91.6M718.2 90.6L722.4 95.5M719.9 94.6L722.4 95.5L721.8 92.9M736.4 90.6L739.1 97.4M736.7 95.4L739.1 97.4L739.4 94.3M754.5 90.6L756.7 97.6M754.5 95.4L756.7 97.6L757.3 94.6M772.7 90.6L774.4 98.6M772.2 96.0L774.4 98.6L775.3 95.3M790.9 90.6L792.3 102.0M789.5 98.0L792.3 102.0L794.0 97.5M681.8 108.8L688.0 110.8M685.3 111.3L688.0 110.8L686.1 108.9M700.0 108.8L705.7 111.9M703.0 111.9L705.7 111.9L704.2 109.6M718.2 108.8L723.0 114.3M720.1 113.2L723.0 114.3L722.3 111.3M736.4 108.8L739.3 116.4M736.7 114.2L739.3 116.4L739.7 113.0M754.5 108.8L757.1 117.4M754.4 114.7L757.1 117.4L757.8 113.7M772.7 108.8L774.9 119.2M772.1 115.8L774.9 119.2L776.1 114.9M790.9 108.8L792.5 120.9M789.5 116.8L792.5 120.9L794.3 116.1M663.6 127.0L670.9 127.6M668.1 128.8L670.9 127.6L668.3 126.0M681.8 127.0L688.8 128.9M685.9 129.6L688.8 128.9L686.6 126.8M700.0 127.0L705.8 129.7M703.1 129.9L705.8 129.7L704.2 127.6M718.2 127.0L723.1 132.4M720.2 131.3L723.1 132.4L722.3 129.4M736.4 127.0L739.4 135.4M736.6 132.9L739.4 135.4L739.9 131.7M754.5 127.0L757.2 136.4M754.4 133.4L757.2 136.4L758.1 132.4M772.7 127.0L775.1 138.2M772.0 134.5L775.1 138.2L776.4 133.6M790.9 127.0L792.8 140.7M789.4 136.0L792.8 140.7L794.8 135.3M645.5 145.2L651.9 145.9M649.3 146.9L651.9 145.9L649.6 144.4M663.6 145.2L670.0 146.2M667.4 147.1L670.0 146.2L667.8 144.6M681.8 145.2L688.7 147.6M685.7 148.0L688.7 147.6L686.6 145.3M700.0 145.2L706.4 148.7M703.3 148.7L706.4 148.7L704.7 146.2M718.2 145.2L722.9 150.7M720.0 149.6L722.9 150.7L722.2 147.8M736.4 145.2L739.6 154.4M736.6 151.6L739.6 154.4L740.2 150.3M754.5 145.2L757.4 155.4M754.4 152.2L757.4 155.4L758.4 151.0M772.7 145.2L775.3 157.1M772.0 153.2L775.3 157.1L776.7 152.2M790.9 145.2L793.3 161.4M789.2 155.8L793.3 161.4L795.6 154.9M645.5 163.4L651.8 164.4M649.3 165.3L651.8 164.4L649.7 162.8M663.6 163.4L670.7 165.0M667.8 165.8L670.7 165.0L668.4 163.0M681.8 163.4L688.5 166.2M685.5 166.5L688.5 166.2L686.6 163.8M700.0 163.4L706.8 167.8M703.4 167.5L706.8 167.8L705.1 164.8M718.2 163.4L723.2 169.7M720.1 168.4L723.2 169.7L722.6 166.4M736.4 163.4L739.6 172.6M736.6 169.8L739.6 172.6L740.2 168.5M754.5 163.4L757.6 174.3M754.3 170.9L757.6 174.3L758.7 169.7M772.7 163.4L775.5 176.1M772.0 171.9L775.5 176.1L777.0 170.8M790.9 163.4L793.4 179.5M789.3 174.0L793.4 179.5L795.7 173.0M627.3 181.6L634.5 182.5M631.6 183.6L634.5 182.5L632.0 180.7M645.5 181.6L652.6 183.1M649.6 183.9L652.6 183.1L650.2 181.1M663.6 181.6L670.6 183.7M667.6 184.3L670.6 183.7L668.4 181.5M681.8 181.6L689.0 185.2M685.6 185.3L689.0 185.2L687.1 182.4M700.0 181.6L706.5 186.4M703.1 185.9L706.5 186.4L705.0 183.3M718.2 181.6L723.4 188.8M720.0 187.1L723.4 188.8L722.9 185.1M736.4 181.6L739.8 191.6M736.5 188.5L739.8 191.6L740.5 187.2M754.5 181.6L757.8 193.3M754.3 189.6L757.8 193.3L758.9 188.3M772.7 181.6L775.7 195.1M771.9 190.7L775.7 195.1L777.3 189.5M790.9 181.6L793.7 198.5M789.3 192.8L793.7 198.5L796.0 191.7M609.1 199.7L615.5 200.2M613.1 201.3L615.5 200.2L613.2 198.8M627.3 199.7L634.4 201.0M631.5 201.9L634.4 201.0L632.0 199.1M645.5 199.7L652.5 201.7M649.5 202.3L652.5 201.7L650.2 199.6M663.6 199.7L671.2 202.6M667.8 203.1L671.2 202.6L669.0 200.1M681.8 199.7L688.8 203.9M685.4 203.7L688.8 203.9L687.0 201.0M700.0 199.7L706.7 205.6M703.1 204.7L706.7 205.6L705.4 202.1M718.2 199.7L723.6 207.8M720.0 205.9L723.6 207.8L723.2 203.8M736.4 199.7L739.7 209.8M736.5 206.7L739.7 209.8L740.4 205.4M754.5 199.7L757.8 211.5M754.3 207.8L757.8 211.5L758.9 206.5M772.7 199.7L775.9 214.1M771.9 209.4L775.9 214.1L777.6 208.1M790.9 199.7L793.6 215.9M789.4 210.4L793.6 215.9L795.8 209.3M590.9 217.9L598.2 217.8M595.5 219.3L598.2 217.8L595.5 216.4M609.1 217.9L617.2 218.6M614.0 220.0L617.2 218.6L614.3 216.8M627.3 217.9L635.2 219.6M631.9 220.5L635.2 219.6L632.6 217.4M645.5 217.9L653.1 220.5M649.8 221.0L653.1 220.5L650.8 218.0M663.6 217.9L671.7 221.7M668.0 221.9L671.7 221.7L669.5 218.7M681.8 217.9L689.8 223.5M685.7 223.0L689.8 223.5L687.9 219.9M700.0 217.9L706.9 224.8M703.0 223.6L706.9 224.8L705.7 220.9M718.2 217.9L723.7 226.9M719.9 224.7L723.7 226.9L723.4 222.5M736.4 217.9L739.9 228.8M736.4 225.4L739.9 228.8L740.7 224.0M754.5 217.9L758.0 230.5M754.2 226.5L758.0 230.5L759.2 225.2M772.7 217.9L776.0 232.3M771.9 227.6L776.0 232.3L777.6 226.3M790.9 217.9L793.7 234.0M789.5 228.6L793.7 234.0L795.9 227.5M572.7 236.1L579.9 234.8M577.5 236.7L579.9 234.8L577.0 233.9M590.9 236.1L599.0 235.4M596.1 237.3L599.0 235.4L595.9 234.1M609.1 236.1L617.2 236.2M614.2 237.8L617.2 236.2L614.2 234.6M627.3 236.1L635.3 237.1M632.1 238.3L635.3 237.1L632.5 235.1M645.5 236.1L653.3 238.0M650.0 238.9L653.3 238.0L650.8 235.7M663.6 236.1L672.8 239.4M668.7 240.0L672.8 239.4L670.1 236.4M681.8 236.1L690.3 241.0M686.2 240.8L690.3 241.0L688.1 237.5M700.0 236.1L708.1 242.9M703.8 242.0L708.1 242.9L706.4 238.8M718.2 236.1L724.4 244.7M720.4 242.7L724.4 244.7L723.8 240.3M736.4 236.1L740.9 247.4M737.0 244.1L740.9 247.4L741.5 242.3M754.5 236.1L759.0 249.3M754.7 245.3L759.0 249.3L759.9 243.5M772.7 236.1L776.8 251.1M772.3 246.3L776.8 251.1L778.2 244.7M790.9 236.1L794.2 252.1M789.8 246.8L794.2 252.1L796.1 245.5M554.5 254.3L560.7 252.4M558.8 254.3L560.7 252.4L558.1 251.9M572.7 254.3L581.4 252.4M578.6 254.8L581.4 252.4L577.8 251.4M590.9 254.3L600.6 252.9M597.3 255.3L600.6 252.9L596.7 251.5M609.1 254.3L619.6 253.6M615.9 255.9L619.6 253.6L615.6 251.8M627.3 254.3L637.8 254.8M633.8 256.7L637.8 254.8L634.0 252.5M645.5 254.3L655.9 255.9M651.7 257.4L655.9 255.9L652.3 253.2M663.6 254.3L674.6 257.2M670.0 258.3L674.6 257.2L671.1 254.0M681.8 254.3L692.2 259.1M687.4 259.4L692.2 259.1L689.3 255.3M700.0 254.3L710.0 261.3M704.9 260.7L710.0 261.3L707.7 256.7M718.2 254.3L727.2 264.8M721.8 262.7L727.2 264.8L725.9 259.1M736.4 254.3L742.8 267.5M737.8 263.9L742.8 267.5L743.0 261.3M754.5 254.3L760.6 269.5M755.4 265.0L760.6 269.5L761.4 262.6M772.7 254.3L777.7 269.9M772.8 265.1L777.7 269.9L778.9 263.1M790.9 254.3L794.7 270.2M790.1 265.0L794.7 270.2L796.4 263.6M209.1 272.5L217.8 265.1M216.0 269.6L217.8 265.1L213.1 266.1M554.5 272.5L563.8 269.4M561.0 272.3L563.8 269.4L559.8 268.7M572.7 272.5L582.9 269.7M579.7 272.8L582.9 269.7L578.6 268.7M590.9 272.5L602.1 270.2M598.4 273.2L602.1 270.2L597.5 268.8M609.1 272.5L621.2 270.8M617.0 273.8L621.2 270.8L616.4 269.0M627.3 272.5L639.5 272.0M635.0 274.6L639.5 272.0L634.9 269.8M645.5 272.5L657.6 273.3M653.0 275.4L657.6 273.3L653.3 270.6M663.6 272.5L676.5 274.7M671.3 276.4L676.5 274.7L672.2 271.4M681.8 272.5L694.9 277.2M689.1 278.0L694.9 277.2L691.0 272.9M700.0 272.5L712.7 279.8M706.6 279.6L712.7 279.8L709.5 274.6M718.2 272.5L728.6 282.9M722.7 281.1L728.6 282.9L726.8 277.0M736.4 272.5L744.1 285.9M738.6 282.5L744.1 285.9L743.9 279.4M754.5 272.5L761.5 287.3M756.0 283.2L761.5 287.3L761.8 280.4M772.7 272.5L778.3 287.8M773.2 283.2L778.3 287.8L779.3 281.0M790.9 272.5L795.4 289.1M790.4 283.8L795.4 289.1L797.0 282.0M209.1 290.7L218.5 282.8M216.5 287.6L218.5 282.8L213.4 283.9M227.3 290.7L236.7 282.9M234.7 287.6L236.7 282.9L231.7 283.9M245.5 290.7L255.6 282.5M253.5 287.5L255.6 282.5L250.2 283.5M263.6 290.7L273.9 282.6M271.7 287.6L273.9 282.6L268.5 283.5M281.8 290.7L292.2 282.7M289.9 287.7L292.2 282.7L286.8 283.6M536.4 290.7L548.6 286.0M545.0 290.2L548.6 286.0L543.1 285.3M554.5 290.7L567.8 286.5M563.7 290.6L567.8 286.5L562.0 285.4M572.7 290.7L586.2 287.2M581.9 291.1L586.2 287.2L580.5 285.8M590.9 290.7L605.3 287.8M600.5 291.7L605.3 287.8L599.4 286.0M609.1 290.7L623.6 288.6M618.7 292.2L623.6 288.6L617.8 286.5M627.3 290.7L642.0 290.0M636.6 293.1L642.0 290.0L636.4 287.3M645.5 290.7L660.1 291.4M654.5 294.0L660.1 291.4L654.8 288.2M663.6 290.7L679.0 292.9M672.9 295.1L679.0 292.9L673.7 289.0M681.8 290.7L696.6 295.5M690.1 296.6L696.6 295.5L692.1 290.8M700.0 290.7L714.4 298.4M707.5 298.4L714.4 298.4L710.6 292.7M718.2 290.7L730.3 301.6M723.6 299.9L730.3 301.6L728.0 295.2M736.4 290.7L745.5 304.2M739.4 301.0L745.5 304.2L744.8 297.4M754.5 290.7L762.7 305.8M756.7 301.8L762.7 305.8L762.6 298.6M772.7 290.7L779.3 306.5M773.7 301.9L779.3 306.5L780.0 299.3M790.9 290.7L795.8 307.1M790.8 302.0L795.8 307.1L797.3 300.0M227.3 308.8L236.1 301.7M234.3 306.1L236.1 301.7L231.4 302.6M245.5 308.8L257.7 299.3M255.1 305.3L257.7 299.3L251.3 300.4M263.6 308.8L276.8 299.1M273.8 305.3L276.8 299.1L270.0 300.1M281.8 308.8L294.4 299.8M291.5 305.6L294.4 299.8L288.0 300.6M300.0 308.8L312.1 300.4M309.2 305.9L312.1 300.4L305.9 301.2M318.2 308.8L330.4 300.6M327.5 306.1L330.4 300.6L324.2 301.3M500.0 308.8L514.5 303.2M510.2 308.2L514.5 303.2L508.0 302.5M518.2 308.8L532.7 303.5M528.4 308.3L532.7 303.5L526.3 302.6M536.4 308.8L550.2 304.0M546.1 308.5L550.2 304.0L544.1 303.0M554.5 308.8L568.6 304.7M564.2 309.0L568.6 304.7L562.6 303.4M572.7 308.8L587.0 305.4M582.4 309.5L587.0 305.4L581.0 303.8M590.9 308.8L605.3 306.1M600.5 309.9L605.3 306.1L599.4 304.3M609.1 308.8L623.6 306.8M618.7 310.4L623.6 306.8L617.8 304.7M627.3 308.8L642.0 308.0M636.7 311.2L642.0 308.0L636.4 305.4M645.5 308.8L661.0 309.3M655.1 312.2L661.0 309.3L655.3 306.1M663.6 308.8L679.9 310.7M673.5 313.2L679.9 310.7L674.2 306.8M681.8 308.8L698.3 313.8M691.2 315.2L698.3 313.8L693.1 308.7M700.0 308.8L715.3 316.5M708.1 316.7L715.3 316.5L711.2 310.7M718.2 308.8L731.5 319.7M724.4 318.3L731.5 319.7L728.7 313.1M736.4 308.8L747.4 323.0M740.5 319.9L747.4 323.0L746.1 315.6M754.5 308.8L763.9 324.2M757.4 320.3L763.9 324.2L763.5 316.6M772.7 308.8L780.3 325.2M774.3 320.6L780.3 325.2L780.7 317.6M790.9 308.8L796.6 325.9M791.1 320.7L796.6 325.9L797.8 318.5M263.6 327.0L275.7 318.6M272.9 324.1L275.7 318.6L269.5 319.3M281.8 327.0L294.0 318.8M291.1 324.2L294.0 318.8L287.9 319.4M300.0 327.0L312.3 319.0M309.3 324.4L312.3 319.0L306.2 319.6M318.2 327.0L330.6 319.2M327.6 324.6L330.6 319.2L324.5 319.7M336.4 327.0L349.0 319.4M345.8 324.7L349.0 319.4L342.8 319.8M354.5 327.0L367.3 319.7M364.0 324.9L367.3 319.7L361.1 319.9M372.7 327.0L385.6 319.9M382.2 325.1L385.6 319.9L379.4 320.0M390.9 327.0L403.9 320.1M400.4 325.2L403.9 320.1L397.7 320.1M409.1 327.0L422.2 320.5M418.7 325.5L422.2 320.5L416.1 320.3M427.3 327.0L440.6 320.8M436.9 325.7L440.6 320.8L434.4 320.5M445.5 327.0L458.9 321.2M455.1 326.0L458.9 321.2L452.8 320.7M463.6 327.0L478.0 321.2M473.8 326.2L478.0 321.2L471.5 320.5M481.8 327.0L495.5 321.8M491.5 326.4L495.5 321.8L489.4 321.0M500.0 327.0L513.8 322.0M509.7 326.6L513.8 322.0L507.7 321.1M518.2 327.0L532.1 322.2M527.9 326.7L532.1 322.2L526.0 321.3M536.4 327.0L550.3 322.5M546.1 326.9L550.3 322.5L544.3 321.4M554.5 327.0L568.7 323.1M564.2 327.3L568.7 323.1L562.7 321.8M572.7 327.0L587.1 323.7M582.4 327.8L587.1 323.7L581.1 322.1M590.9 327.0L605.4 324.3M600.5 328.2L605.4 324.3L599.5 322.5M609.1 327.0L623.6 325.0M618.7 328.6L623.6 325.0L617.8 322.9M627.3 327.0L641.9 326.1M636.7 329.3L641.9 326.1L636.3 323.5M645.5 327.0L661.8 327.2M655.7 330.4L661.8 327.2L655.8 323.9M663.6 327.0L679.9 328.4M673.6 331.1L679.9 328.4L674.2 324.7M681.8 327.0L698.4 331.5M691.4 333.1L698.4 331.5L693.1 326.5M700.0 327.0L715.6 334.3M708.4 334.7L715.6 334.3L711.2 328.5M718.2 327.0L732.7 337.7M725.2 336.6L732.7 337.7L729.4 330.9M736.4 327.0L748.4 340.4M741.3 337.8L748.4 340.4L746.6 333.1M754.5 327.0L765.3 342.5M758.2 338.9L765.3 342.5L764.3 334.6M772.7 327.0L781.4 343.7M774.9 339.2L781.4 343.7L781.5 335.8M790.9 327.0L797.3 344.7M791.5 339.4L797.3 344.7L798.4 336.9M300.0 345.2L314.3 337.2M310.5 343.0L314.3 337.2L307.4 337.4M318.2 345.2L332.6 337.4M328.8 343.1L332.6 337.4L325.7 337.5M336.4 345.2L351.6 337.2M347.5 343.2L351.6 337.2L344.4 337.2M354.5 345.2L369.9 337.5M365.7 343.4L369.9 337.5L362.7 337.3M372.7 345.2L388.2 337.7M383.9 343.5L388.2 337.7L381.0 337.4M390.9 345.2L406.5 337.9M402.1 343.7L406.5 337.9L399.3 337.6M409.1 345.2L424.8 338.3M420.3 343.9L424.8 338.3L417.6 337.7M427.3 345.2L443.1 338.6M438.6 344.2L443.1 338.6L436.0 337.9M445.5 345.2L460.7 339.3M456.2 344.5L460.7 339.3L453.9 338.5M463.6 345.2L479.0 339.6M474.4 344.7L479.0 339.6L472.2 338.7M481.8 345.2L495.7 340.5M491.5 345.0L495.7 340.5L489.6 339.5M500.0 345.2L514.0 340.8M509.7 345.2L514.0 340.8L507.9 339.7M518.2 345.2L532.3 341.1M527.9 345.4L532.3 341.1L526.2 339.8M536.4 345.2L550.6 341.4M546.0 345.6L550.6 341.4L544.5 340.0M554.5 345.2L568.9 342.0M564.2 346.0L568.9 342.0L562.9 340.4M572.7 345.2L587.2 342.6M582.3 346.4L587.2 342.6L581.3 340.7M590.9 345.2L605.5 343.3M600.5 346.9L605.5 343.3L599.7 341.1M609.1 345.2L624.6 343.8M619.1 347.4L624.6 343.8L618.6 341.3M627.3 345.2L643.6 345.0M637.6 348.3L643.6 345.0L637.5 341.8M645.5 345.2L661.8 346.2M655.5 349.0L661.8 346.2L655.9 342.6M663.6 345.2L679.8 347.3M673.4 349.7L679.8 347.3L674.3 343.3M681.8 345.2L698.2 350.2M691.2 351.6L698.2 350.2L693.1 345.1M700.0 345.2L715.4 352.9M708.2 353.1L715.4 352.9L711.2 347.0M718.2 345.2L732.7 355.9M725.2 354.8L732.7 355.9L729.4 349.1M736.4 345.2L748.8 358.3M741.6 355.9L748.8 358.3L746.7 351.0M754.5 345.2L765.7 360.3M758.6 356.9L765.7 360.3L764.6 352.5M772.7 345.2L782.0 361.6M775.3 357.3L782.0 361.6L781.8 353.7M790.9 345.2L798.4 363.4M792.1 358.1L798.4 363.4L799.2 355.1M300.0 363.4L314.7 356.3M310.7 361.8L314.7 356.3L307.9 356.0M318.2 363.4L333.7 356.1M329.4 361.9L333.7 356.1L326.5 355.7M336.4 363.4L352.0 356.3M347.6 362.0L352.0 356.3L344.8 355.9M354.5 363.4L370.3 356.5M365.8 362.2L370.3 356.5L363.1 356.0M372.7 363.4L388.6 356.7M384.0 362.3L388.6 356.7L381.4 356.1M390.9 363.4L406.8 357.0M402.2 362.5L406.8 357.0L399.7 356.2M409.1 363.4L425.1 357.2M420.4 362.7L425.1 357.2L418.0 356.4M427.3 363.4L443.4 357.5M438.6 362.9L443.4 357.5L436.3 356.5M445.5 363.4L461.7 357.8M456.8 363.1L461.7 357.8L454.6 356.7M463.6 363.4L479.2 358.3M474.4 363.3L479.2 358.3L472.4 357.1M481.8 363.4L495.9 359.2M491.5 363.5L495.9 359.2L489.9 358.0M500.0 363.4L514.2 359.6M509.7 363.8L514.2 359.6L508.2 358.2M518.2 363.4L532.5 360.0M527.9 364.0L532.5 360.0L526.5 358.4M536.4 363.4L550.7 360.3M546.0 364.3L550.7 360.3L544.8 358.6M554.5 363.4L569.0 361.0M564.1 364.7L569.0 361.0L563.2 359.0M572.7 363.4L587.3 361.6M582.3 365.1L587.3 361.6L581.6 359.4M590.9 363.4L605.6 362.2M600.4 365.5L605.6 362.2L599.9 359.8M609.1 363.4L625.4 362.8M619.5 366.2L625.4 362.8L619.3 359.8M627.3 363.4L643.6 364.0M637.4 367.0L643.6 364.0L637.7 360.5M645.5 363.4L661.7 365.1M655.3 367.7L661.7 365.1L656.0 361.3M663.6 363.4L680.6 366.4M673.7 368.6L680.6 366.4L674.9 361.9M681.8 363.4L698.1 369.0M690.9 370.1L698.1 369.0L693.1 363.7M700.0 363.4L715.9 371.8M708.3 371.8L715.9 371.8L711.7 365.6M718.2 363.4L732.7 374.1M725.2 373.0L732.7 374.1L729.4 367.3M736.4 363.4L749.7 376.7M742.1 374.4L749.7 376.7L747.4 369.1M754.5 363.4L766.2 378.2M759.0 375.0L766.2 378.2L764.8 370.4M772.7 363.4L783.0 380.1M775.9 375.9L783.0 380.1L782.5 371.9M790.9 363.4L799.2 381.2M792.6 376.2L799.2 381.2L799.6 373.0M281.8 381.6L294.5 375.9M290.9 380.5L294.5 375.9L288.7 375.5M300.0 381.6L315.0 375.0M310.7 380.4L315.0 375.0L308.1 374.5M318.2 381.6L334.7 374.4M330.0 380.3L334.7 374.4L327.2 373.8M336.4 381.6L353.0 374.6M348.2 380.5L353.0 374.6L345.4 373.9M354.5 381.6L371.2 374.8M366.4 380.6L371.2 374.8L363.7 374.0M372.7 381.6L389.5 375.0M384.6 380.8L389.5 375.0L382.0 374.1M390.9 381.6L407.8 375.2M402.8 380.9L407.8 375.2L400.3 374.2M409.1 381.6L426.1 375.6M421.0 381.2L426.1 375.6L418.6 374.5M427.3 381.6L444.4 376.0M439.1 381.4L444.4 376.0L436.9 374.7M445.5 381.6L462.7 376.4M457.3 381.7L462.7 376.4L455.3 374.9M463.6 381.6L481.0 376.8M475.5 382.0L481.0 376.8L473.6 375.1M481.8 381.6L497.7 377.6M492.6 382.2L497.7 377.6L491.0 376.0M500.0 381.6L514.4 378.4M509.7 382.4L514.4 378.4L508.4 376.7M518.2 381.6L532.6 378.7M527.8 382.6L532.6 378.7L526.7 376.9M536.4 381.6L550.9 379.1M546.0 382.9L550.9 379.1L545.0 377.2M554.5 381.6L569.1 379.7M564.1 383.3L569.1 379.7L563.3 377.5M572.7 381.6L587.4 380.3M582.2 383.6L587.4 380.3L581.7 377.9M590.9 381.6L605.6 380.9M600.3 384.0L605.6 380.9L600.0 378.2M609.1 381.6L625.4 381.5M619.4 384.7L625.4 381.5L619.4 378.3M627.3 381.6L643.6 382.6M637.3 385.4L643.6 382.6L637.7 379.0M645.5 381.6L661.7 383.7M655.2 386.1L661.7 383.7L656.1 379.7M663.6 381.6L679.6 384.9M673.1 386.8L679.6 384.9L674.4 380.5M681.8 381.6L697.9 387.5M690.8 388.5L697.9 387.5L693.1 382.1M700.0 381.6L715.8 390.2M708.2 390.1L715.8 390.2L711.6 383.9M718.2 381.6L732.6 392.4M725.1 391.2L732.6 392.4L729.4 385.5M736.4 381.6L749.7 394.9M742.1 392.6L749.7 394.9L747.4 387.3M754.5 381.6L766.9 396.9M759.3 393.6L766.9 396.9L765.3 388.8M772.7 381.6L783.4 398.1M776.2 394.1L783.4 398.1L782.7 389.9M790.9 381.6L799.7 399.1M793.0 394.4L799.7 399.1L799.9 390.9M281.8 399.8L294.7 394.5M290.9 399.0L294.7 394.5L288.9 393.9M300.0 399.8L315.2 393.7M310.7 398.9L315.2 393.7L308.3 392.9M318.2 399.8L335.7 392.8M330.6 398.8L335.7 392.8L327.8 391.9M336.4 399.8L353.9 393.0M348.8 399.0L353.9 393.0L346.1 392.0M354.5 399.8L372.2 393.2M366.9 399.1L372.2 393.2L364.3 392.1M372.7 399.8L390.4 393.3M385.1 399.2L390.4 393.3L382.6 392.2M390.9 399.8L408.7 393.5M403.3 399.3L408.7 393.5L400.9 392.3M409.1 399.8L427.0 394.0M421.5 399.7L427.0 394.0L419.2 392.6M427.3 399.8L445.4 394.6M439.7 400.1L445.4 394.6L437.6 392.9M445.5 399.8L462.9 395.3M457.3 400.4L462.9 395.3L455.5 393.5M463.6 399.8L481.2 395.8M475.5 400.7L481.2 395.8L473.9 393.8M481.8 399.8L498.7 396.4M493.1 400.9L498.7 396.4L491.7 394.3M500.0 399.8L516.1 396.9M510.7 401.1L516.1 396.9L509.6 394.8M518.2 399.8L532.7 397.5M527.8 401.2L532.7 397.5L526.9 395.5M536.4 399.8L550.9 397.9M545.9 401.4L550.9 397.9L545.2 395.7M554.5 399.8L569.2 398.4M564.0 401.8L569.2 398.4L563.5 396.0M572.7 399.8L588.2 398.9M582.6 402.3L588.2 398.9L582.3 396.2M590.9 399.8L606.4 399.5M600.7 402.7L606.4 399.5L600.6 396.5M609.1 399.8L625.4 400.1M619.3 403.2L625.4 400.1L619.4 396.8M627.3 399.8L643.6 401.3M637.2 403.9L643.6 401.3L637.8 397.5M645.5 399.8L661.6 402.4M655.1 404.6L661.6 402.4L656.1 398.2M663.6 399.8L679.5 403.5M672.9 405.3L679.5 403.5L674.4 399.0M681.8 399.8L698.6 406.3M691.1 407.2L698.6 406.3L693.7 400.6M700.0 399.8L715.7 408.6M708.1 408.4L715.7 408.6L711.6 402.2M718.2 399.8L733.2 411.1M725.4 409.9L733.2 411.1L729.9 403.9M736.4 399.8L750.3 413.6M742.4 411.2L750.3 413.6L747.8 405.8M754.5 399.8L767.0 414.9M759.4 411.8L767.0 414.9L765.4 406.8M772.7 399.8L784.1 416.7M776.6 412.7L784.1 416.7L783.3 408.2M790.9 399.8L800.6 417.8M793.5 413.0L800.6 417.8L800.6 409.2M300.0 417.9L314.6 412.6M310.2 417.5L314.6 412.6L308.1 411.7M318.2 417.9L334.3 412.1M329.5 417.4L334.3 412.1L327.2 411.1M336.4 417.9L354.1 411.6M348.8 417.5L354.1 411.6L346.3 410.5M354.5 417.9L372.3 411.8M367.0 417.6L372.3 411.8L364.5 410.6M372.7 417.9L390.6 412.0M385.1 417.7L390.6 412.0L382.8 410.7M390.9 417.9L408.8 412.1M403.3 417.8L408.8 412.1L401.0 410.7M409.1 417.9L428.0 412.5M422.0 418.2L428.0 412.5L419.9 410.8M427.3 417.9L446.3 413.2M440.2 418.7L446.3 413.2L438.3 411.2M445.5 417.9L464.7 413.8M458.4 419.2L464.7 413.8L456.7 411.6M463.6 417.9L483.0 414.5M476.5 419.6L483.0 414.5L475.1 412.0M481.8 417.9L501.2 414.9M494.6 419.9L501.2 414.9L493.4 412.2M500.0 417.9L517.8 415.6M511.7 420.0L517.8 415.6L510.8 412.9M518.2 417.9L535.3 416.1M529.3 420.1L535.3 416.1L528.6 413.4M536.4 417.9L553.5 416.4M547.4 420.4L553.5 416.4L546.8 413.6M554.5 417.9L570.9 417.1M565.0 420.6L570.9 417.1L564.6 414.2M572.7 417.9L589.1 417.6M583.1 421.0L589.1 417.6L583.0 414.5M590.9 417.9L607.3 418.2M601.1 421.3L607.3 418.2L601.3 414.9M609.1 417.9L625.4 418.8M619.2 421.7L625.4 418.8L619.5 415.3M627.3 417.9L643.5 419.9M637.1 422.4L643.5 419.9L637.9 416.0M645.5 417.9L661.5 421.1M654.9 423.1L661.5 421.1L656.2 416.7M663.6 417.9L679.4 422.2M672.7 423.7L679.4 422.2L674.4 417.5M681.8 417.9L699.2 425.1M691.3 425.9L699.2 425.1L694.2 419.0M700.0 417.9L717.0 427.8M708.8 427.5L717.0 427.8L712.6 420.8M718.2 417.9L733.8 429.9M725.6 428.5L733.8 429.9L730.3 422.4M736.4 417.9L750.8 432.4M742.6 429.9L750.8 432.4L748.3 424.2M754.5 417.9L768.2 434.2M759.9 430.9L768.2 434.2L766.4 425.5M772.7 417.9L784.9 435.4M777.0 431.3L784.9 435.4L783.9 426.5M790.9 417.9L801.1 435.7M793.9 431.1L801.1 435.7L800.8 427.1M336.4 436.1L352.1 431.6M347.1 436.3L352.1 431.6L345.3 430.2M354.5 436.1L371.9 431.3M366.4 436.5L371.9 431.3L364.5 429.6M372.7 436.1L390.9 431.2M385.1 436.6L390.9 431.2L383.2 429.4M390.9 436.1L409.1 431.3M403.3 436.7L409.1 431.3L401.4 429.5M409.1 436.1L428.2 431.7M422.0 437.1L428.2 431.7L420.3 429.5M427.3 436.1L446.5 432.2M440.2 437.4L446.5 432.2L438.6 429.9M445.5 436.1L464.8 432.7M458.3 437.8L464.8 432.7L457.0 430.2M463.6 436.1L482.3 433.4M475.9 438.1L482.3 433.4L474.8 430.7M481.8 436.1L501.3 433.7M494.6 438.4L501.3 433.7L493.6 430.7M500.0 436.1L518.7 434.2M512.2 438.6L518.7 434.2L511.4 431.2M518.2 436.1L536.9 434.6M530.3 438.9L536.9 434.6L529.7 431.5M536.4 436.1L554.3 435.1M547.9 439.0L554.3 435.1L547.5 431.9M554.5 436.1L571.7 435.6M565.4 439.2L571.7 435.6L565.2 432.4M572.7 436.1L589.9 436.1M583.5 439.5L589.9 436.1L583.5 432.7M590.9 436.1L608.1 436.5M601.6 439.8L608.1 436.5L601.8 433.0M609.1 436.1L626.2 437.0M619.7 440.1L626.2 437.0L620.1 433.3M627.3 436.1L644.3 438.1M637.6 440.7L644.3 438.1L638.4 434.0M645.5 436.1L662.4 439.2M655.5 441.4L662.4 439.2L656.7 434.7M663.6 436.1L680.3 440.3M673.3 442.0L680.3 440.3L674.9 435.4M681.8 436.1L699.4 442.9M691.5 443.9L699.4 442.9L694.2 436.9M700.0 436.1L717.3 445.4M709.0 445.4L717.3 445.4L712.7 438.6M718.2 436.1L734.9 448.0M726.3 446.9L734.9 448.0L731.0 440.3M736.4 436.1L751.4 450.0M743.1 447.8L751.4 450.0L748.6 441.9M754.5 436.1L769.0 451.8M760.5 448.8L769.0 451.8L766.7 443.1M772.7 436.1L785.8 452.9M777.7 449.3L785.8 452.9L784.3 444.1M790.9 436.1L802.6 453.9M794.8 449.6L802.6 453.9L801.8 445.0M336.4 454.3L352.3 450.7M347.1 455.2L352.3 450.7L345.7 448.9M354.5 454.3L372.9 450.3M366.9 455.4L372.9 450.3L365.3 448.1M372.7 454.3L391.2 450.4M385.1 455.5L391.2 450.4L383.6 448.2M390.9 454.3L410.2 450.4M403.8 455.7L410.2 450.4L402.3 448.1M409.1 454.3L428.4 450.8M421.9 455.9L428.4 450.8L420.6 448.3M427.3 454.3L446.7 451.2M440.1 456.2L446.7 451.2L438.9 448.5M445.5 454.3L464.1 451.7M457.7 456.4L464.1 451.7L456.7 449.0M463.6 454.3L482.3 452.1M475.8 456.6L482.3 452.1L475.0 449.2M481.8 454.3L500.6 452.5M494.0 456.9L500.6 452.5L493.3 449.5M500.0 454.3L518.8 452.9M512.1 457.1L518.8 452.9L511.5 449.7M518.2 454.3L537.8 453.3M530.7 457.5L537.8 453.3L530.3 449.8M536.4 454.3L556.0 453.7M548.8 457.8L556.0 453.7L548.6 450.1M554.5 454.3L574.2 454.1M566.9 458.1L574.2 454.1L566.9 450.3M572.7 454.3L592.4 454.5M585.0 458.3L592.4 454.5L585.1 450.6M590.9 454.3L609.7 454.9M602.6 458.4L609.7 454.9L602.9 451.0M609.1 454.3L626.2 455.2M619.7 458.2L626.2 455.2L620.1 451.5M627.3 454.3L643.5 456.1M637.1 458.6L643.5 456.1L637.9 452.2M645.5 454.3L661.6 457.0M655.1 459.2L661.6 457.0L656.1 452.8M663.6 454.3L680.4 458.2M673.4 460.0L680.4 458.2L674.9 453.4M681.8 454.3L699.5 460.7M691.7 461.8L699.5 460.7L694.2 454.8M700.0 454.3L717.6 463.1M709.3 463.3L717.6 463.1L712.8 456.4M718.2 454.3L735.3 465.6M726.7 464.8L735.3 465.6L731.2 458.0M736.4 454.3L752.0 467.6M743.6 465.7L752.0 467.6L748.8 459.6M754.5 454.3L769.7 469.3M761.1 466.7L769.7 469.3L767.0 460.7M772.7 454.3L786.7 470.4M778.3 467.2L786.7 470.4L784.7 461.7M790.9 454.3L803.6 471.4M795.5 467.6L803.6 471.4L802.3 462.5M336.4 472.5L352.5 469.8M347.0 474.0L352.5 469.8L346.0 467.6M354.5 472.5L371.5 469.8M365.7 474.1L371.5 469.8L364.7 467.4M372.7 472.5L391.3 469.7M385.0 474.4L391.3 469.7L383.9 467.1M390.9 472.5L409.6 469.9M403.2 474.5L409.6 469.9L402.1 467.2M409.1 472.5L428.6 470.0M421.8 474.8L428.6 470.0L420.9 467.1M427.3 472.5L446.8 470.3M440.0 474.9L446.8 470.3L439.1 467.2M445.5 472.5L463.4 470.7M457.1 474.9L463.4 470.7L456.4 467.8M463.6 472.5L481.6 470.9M475.2 475.0L481.6 470.9L474.6 468.0M481.8 472.5L500.6 471.3M493.9 475.4L500.6 471.3L493.4 468.0M500.0 472.5L519.6 471.6M512.5 475.8L519.6 471.6L512.2 468.1M518.2 472.5L538.7 472.0M531.1 476.2L538.7 472.0L531.0 468.2M536.4 472.5L557.7 472.5M549.8 476.7L557.7 472.5L549.8 468.3M554.5 472.5L576.7 472.8M568.4 477.0L576.7 472.8L568.5 468.3M572.7 472.5L594.0 473.0M586.0 477.0L594.0 473.0L586.2 468.6M590.9 472.5L611.4 473.3M603.6 477.0L611.4 473.3L603.9 469.0M609.1 472.5L626.2 473.4M619.7 476.4L626.2 473.4L620.1 469.7M627.3 472.5L643.5 474.2M637.2 476.8L643.5 474.2L637.8 470.4M645.5 472.5L660.8 474.9M654.6 477.0L660.8 474.9L655.6 471.0M663.6 472.5L680.4 476.1M673.5 478.0L680.4 476.1L674.9 471.4M681.8 472.5L699.7 478.5M691.9 479.8L699.7 478.5L694.2 472.7M700.0 472.5L717.8 480.8M709.6 481.2L717.8 480.8L712.8 474.2M718.2 472.5L734.9 482.7M726.7 482.2L734.9 482.7L730.7 475.6M736.4 472.5L752.5 485.1M744.0 483.6L752.5 485.1L749.0 477.2M754.5 472.5L770.4 486.7M761.7 484.6L770.4 486.7L767.3 478.3M772.7 472.5L787.5 487.8M779.0 485.0L787.5 487.8L785.1 479.2M790.9 472.5L804.6 488.8M796.3 485.4L804.6 488.8L802.7 480.0M318.2 490.7L332.7 488.4M327.8 492.1L332.7 488.4L326.9 486.4M336.4 490.7L351.7 488.4M346.5 492.3L351.7 488.4L345.6 486.2M354.5 490.7L371.6 488.3M365.7 492.5L371.6 488.3L364.8 485.8M372.7 490.7L390.6 488.3M384.4 492.7L390.6 488.3L383.5 485.6M390.9 490.7L408.8 488.4M402.6 492.8L408.8 488.4L401.7 485.7M409.1 490.7L428.6 488.5M421.8 493.1L428.6 488.5L420.9 485.4M427.3 490.7L446.8 488.8M440.0 493.3L446.8 488.8L439.2 485.6M445.5 490.7L464.2 489.1M457.6 493.4L464.2 489.1L457.0 486.0M463.6 490.7L482.4 489.4M475.7 493.6L482.4 489.4L475.2 486.2M481.8 490.7L501.4 489.7M494.4 493.9L501.4 489.7L494.0 486.2M500.0 490.7L520.5 490.0M513.0 494.3L520.5 490.0L512.7 486.2M518.2 490.7L539.5 490.3M531.6 494.6L539.5 490.3L531.5 486.2M536.4 490.7L559.3 490.7M550.8 495.2L559.3 490.7L550.8 486.1M554.5 490.7L576.7 491.0M568.4 495.2L576.7 491.0L568.5 486.5M572.7 490.7L594.0 491.3M586.0 495.3L594.0 491.3L586.3 486.9M590.9 490.7L612.2 491.6M604.1 495.5L612.2 491.6L604.5 487.1M609.1 490.7L626.2 491.7M619.7 494.7L626.2 491.7L620.1 487.9M627.3 490.7L642.7 492.4M636.6 494.8L642.7 492.4L637.3 488.7M645.5 490.7L660.8 493.3M654.6 495.3L660.8 493.3L655.6 489.3M663.6 490.7L679.6 494.3M673.0 496.1L679.6 494.3L674.4 489.8M681.8 490.7L698.9 496.4M691.4 497.6L698.9 496.4L693.7 490.9M700.0 490.7L717.2 498.4M709.3 498.9L717.2 498.4L712.3 492.1M718.2 490.7L735.1 500.6M726.9 500.3L735.1 500.6L730.8 493.6M736.4 490.7L752.8 502.8M744.3 501.6L752.8 502.8L749.1 495.1M754.5 490.7L770.8 504.4M762.1 502.5L770.8 504.4L767.5 496.1M772.7 490.7L788.1 505.4M779.5 503.0L788.1 505.4L785.3 496.9M790.9 490.7L805.3 506.4M796.9 503.4L805.3 506.4L803.1 497.7M300.0 508.8L314.6 506.8M309.6 510.5L314.6 506.8L308.8 504.7M318.2 508.8L333.6 506.8M328.3 510.6L333.6 506.8L327.5 504.5M336.4 508.8L352.6 506.8M347.0 510.7L352.6 506.8L346.2 504.4M354.5 508.8L371.6 506.8M365.7 510.9L371.6 506.8L364.9 504.2M372.7 508.8L389.8 506.8M383.9 510.9L389.8 506.8L383.1 504.2M390.9 508.8L408.0 506.9M402.0 511.0L408.0 506.9L401.3 504.3M409.1 508.8L427.8 507.0M421.2 511.4L427.8 507.0L420.5 504.0M427.3 508.8L446.0 507.4M439.4 511.6L446.0 507.4L438.8 504.2M445.5 508.8L465.1 507.6M458.0 512.0L465.1 507.6L457.6 504.2M463.6 508.8L483.3 508.0M476.2 512.2L483.3 508.0L475.8 504.4M481.8 508.8L502.3 508.2M494.8 512.5L502.3 508.2L494.6 504.4M500.0 508.8L520.5 508.4M513.0 512.6L520.5 508.4L512.8 504.5M518.2 508.8L539.5 508.6M531.6 512.9L539.5 508.6L531.5 504.5M536.4 508.8L557.7 508.8M549.8 513.0L557.7 508.8L549.8 504.6M554.5 508.8L576.7 509.2M568.4 513.5L576.7 509.2L568.5 504.7M572.7 508.8L594.0 509.6M586.0 513.5L594.0 509.6L586.3 505.1M590.9 508.8L612.2 510.0M604.1 513.7L612.2 510.0L604.5 505.4M609.1 508.8L626.2 510.0M619.6 513.0L626.2 510.0L620.1 506.2M627.3 508.8L642.7 510.8M636.6 513.1L642.7 510.8L637.3 507.0M645.5 508.8L660.7 511.6M654.5 513.6L660.7 511.6L655.6 507.6M663.6 508.8L679.5 512.7M672.9 514.4L679.5 512.7L674.4 508.1M681.8 508.8L698.9 514.6M691.4 515.8L698.9 514.6L693.7 509.1M700.0 508.8L717.3 516.4M709.4 517.0L717.3 516.4L712.3 510.2M718.2 508.8L735.3 518.4M727.1 518.3L735.3 518.4L730.9 511.5M736.4 508.8L753.1 520.6M744.6 519.5L753.1 520.6L749.2 512.9M754.5 508.8L770.6 521.5M762.1 520.0L770.6 521.5L767.2 513.7M772.7 508.8L788.6 523.0M779.9 520.9L788.6 523.0L785.5 514.6M790.9 508.8L806.0 523.9M797.4 521.3L806.0 523.9L803.4 515.4M281.8 527.0L296.4 525.3M291.3 528.8L296.4 525.3L290.7 523.1M300.0 527.0L315.4 525.3M310.0 529.0L315.4 525.3L309.4 522.9M318.2 527.0L334.4 525.3M328.8 529.1L334.4 525.3L328.1 522.7M336.4 527.0L352.6 525.3M346.9 529.1L352.6 525.3L346.2 522.7M354.5 527.0L370.8 525.3M365.1 529.2L370.8 525.3L364.4 522.7M372.7 527.0L389.0 525.4M383.3 529.2L389.0 525.4L382.6 522.8M390.9 527.0L407.2 525.4M401.5 529.2L407.2 525.4L400.8 522.8M409.1 527.0L427.0 525.6M420.7 529.7L427.0 525.6L420.1 522.6M427.3 527.0L446.1 525.9M439.3 530.0L446.1 525.9L438.9 522.6M445.5 527.0L464.3 526.3M457.4 530.2L464.3 526.3L457.1 522.8M463.6 527.0L483.3 526.6M476.1 530.6L483.3 526.6L475.9 522.9M481.8 527.0L501.5 526.7M494.2 530.7L501.5 526.7L494.1 523.0M500.0 527.0L520.5 526.8M512.9 530.9L520.5 526.8L512.8 522.9M518.2 527.0L539.5 526.9M531.6 531.2L539.5 526.9L531.6 522.8M536.4 527.0L557.7 527.0M549.8 531.2L557.7 527.0L549.8 522.8M554.5 527.0L575.8 527.4M567.9 531.5L575.8 527.4L568.0 523.1M572.7 527.0L594.0 527.9M586.0 531.8L594.0 527.9L586.3 523.4M590.9 527.0L611.3 528.2M603.5 531.8L611.3 528.2L604.0 523.8M609.1 527.0L627.0 528.4M620.1 531.5L627.0 528.4L620.7 524.4M627.3 527.0L643.5 529.2M637.0 531.6L643.5 529.2L637.9 525.2M645.5 527.0L661.5 530.2M654.9 532.2L661.5 530.2L656.2 525.8M663.6 527.0L679.5 531.1M672.8 532.7L679.5 531.1L674.4 526.4M681.8 527.0L698.9 532.7M691.4 534.0L698.9 532.7L693.7 527.3M700.0 527.0L717.4 534.3M709.5 535.0L717.4 534.3L712.4 528.2M718.2 527.0L735.5 536.3M727.3 536.3L735.5 536.3L730.9 529.4M736.4 527.0L753.4 538.3M744.9 537.5L753.4 538.3L749.3 530.8M754.5 527.0L771.0 539.2M762.5 537.9L771.0 539.2L767.3 531.4M772.7 527.0L789.2 540.6M780.4 538.8L789.2 540.6L785.7 532.3M790.9 527.0L806.6 541.4M798.0 539.2L806.6 541.4L803.6 533.0M263.6 545.2L279.1 543.9M273.6 547.4L279.1 543.9L273.1 541.3M281.8 545.2L298.1 543.8M292.3 547.5L298.1 543.8L291.8 541.1M300.0 545.2L316.3 543.8M310.5 547.5L316.3 543.8L310.0 541.1M318.2 545.2L334.5 543.8M328.7 547.5L334.5 543.8L328.1 541.1M336.4 545.2L352.7 543.8M346.9 547.5L352.7 543.8L346.3 541.1M354.5 545.2L370.8 543.8M365.1 547.5L370.8 543.8L364.5 541.1M372.7 545.2L389.0 543.8M383.3 547.5L389.0 543.8L382.7 541.1M390.9 545.2L407.2 543.8M401.4 547.5L407.2 543.8L400.9 541.1M409.1 545.2L426.2 544.1M420.1 547.9L426.2 544.1L419.7 541.1M427.3 545.2L445.3 544.4M438.7 548.3L445.3 544.4L438.4 541.2M445.5 545.2L464.3 544.8M457.4 548.7L464.3 544.8L457.2 541.2M463.6 545.2L483.3 545.2M476.0 549.1L483.3 545.2L476.0 541.3M481.8 545.2L501.5 545.2M494.2 549.1L501.5 545.2L494.2 541.3M500.0 545.2L520.5 545.2M512.9 549.3L520.5 545.2L512.9 541.2M518.2 545.2L538.7 545.2M531.1 549.3L538.7 545.2L531.1 541.2M536.4 545.2L557.7 545.2M549.8 549.4L557.7 545.2L549.8 541.0M554.5 545.2L575.8 545.7M567.9 549.7L575.8 545.7L568.0 541.3M572.7 545.2L593.2 546.1M585.4 549.8L593.2 546.1L585.8 541.7M590.9 545.2L611.3 546.6M603.5 550.1L611.3 546.6L604.0 542.0M609.1 545.2L627.8 546.9M620.6 549.9L627.8 546.9L621.2 542.5M627.3 545.2L644.3 547.7M637.5 550.1L644.3 547.7L638.5 543.4M645.5 545.2L662.3 548.7M655.4 550.7L662.3 548.7L656.7 544.1M663.6 545.2L681.0 549.9M673.7 551.6L681.0 549.9L675.5 544.7M681.8 545.2L699.7 551.2M691.9 552.5L699.7 551.2L694.2 545.5M700.0 545.2L718.2 552.6M710.0 553.4L718.2 552.6L712.9 546.3M718.2 545.2L736.4 554.5M727.8 554.7L736.4 554.5L731.5 547.5M736.4 545.2L753.7 556.1M745.1 555.5L753.7 556.1L749.4 548.6M754.5 545.2L772.1 557.3M763.2 556.3L772.1 557.3L768.0 549.4M772.7 545.2L790.3 558.6M781.1 557.1L790.3 558.6L786.4 550.2M790.9 545.2L807.9 559.4M798.8 557.5L807.9 559.4L804.4 550.8M245.5 563.4L262.6 562.0M256.5 565.9L262.6 562.0L255.9 559.1M263.6 563.4L281.6 562.0M275.2 566.0L281.6 562.0L274.6 559.0M281.8 563.4L299.8 562.0M293.4 566.0L299.8 562.0L292.8 559.0M300.0 563.4L317.9 562.0M311.6 566.0L317.9 562.0L311.0 559.0M318.2 563.4L336.1 562.0M329.8 566.0L336.1 562.0L329.2 559.0M336.4 563.4L354.3 562.0M347.9 566.1L354.3 562.0L347.4 559.0M354.5 563.4L372.5 562.0M366.1 566.1L372.5 562.0L365.6 559.0M372.7 563.4L389.9 562.1M383.8 566.0L389.9 562.1L383.2 559.2M390.9 563.4L408.0 562.1M401.9 566.0L408.0 562.1L401.4 559.2M409.1 563.4L426.2 562.4M420.1 566.2L426.2 562.4L419.7 559.4M427.3 563.4L444.4 562.8M438.2 566.4L444.4 562.8L437.9 559.6M445.5 563.4L463.5 563.1M456.8 566.7L463.5 563.1L456.7 559.6M463.6 563.4L482.5 563.4M475.5 567.1L482.5 563.4L475.5 559.7M481.8 563.4L501.5 563.4M494.2 567.3L501.5 563.4L494.2 559.5M500.0 563.4L520.5 563.4M512.9 567.4L520.5 563.4L512.9 559.4M518.2 563.4L538.7 563.4M531.1 567.4L538.7 563.4L531.1 559.4M536.4 563.4L556.8 563.4M549.2 567.4L556.8 563.4L549.2 559.4M554.5 563.4L575.0 563.8M567.3 567.7L575.0 563.8L567.5 559.6M572.7 563.4L593.2 564.3M585.4 568.0L593.2 564.3L585.8 559.9M590.9 563.4L610.5 564.7M603.0 568.1L610.5 564.7L603.5 560.3M609.1 563.4L628.7 565.1M621.1 568.3L628.7 565.1L621.7 560.6M627.3 563.4L645.9 566.0M638.5 568.7L645.9 566.0L639.5 561.4M645.5 563.4L663.1 566.8M655.9 569.0L663.1 566.8L657.2 562.0M663.6 563.4L681.9 567.9M674.3 569.8L681.9 567.9L676.0 562.6M681.8 563.4L700.5 569.3M692.4 570.8L700.5 569.3L694.8 563.4M700.0 563.4L719.1 570.9M710.5 571.9L719.1 570.9L713.5 564.4M718.2 563.4L736.5 572.5M727.9 572.7L736.5 572.5L731.5 565.5M736.4 563.4L754.6 574.4M745.7 573.9L754.6 574.4L750.0 566.7M754.5 563.4L773.0 575.6M763.7 574.7L773.0 575.6L768.6 567.5M772.7 563.4L791.3 576.9M781.7 575.6L791.3 576.9L787.1 568.3M790.9 563.4L809.5 578.3M799.6 576.4L809.5 578.3L805.5 569.1M209.1 581.6L227.8 579.9M221.2 584.2L227.8 579.9L220.6 576.8M227.3 581.6L246.9 580.0M239.9 584.4L246.9 580.0L239.3 576.7M245.5 581.6L265.0 580.1M258.1 584.5L265.0 580.1L257.5 576.8M263.6 581.6L283.2 580.2M276.2 584.6L283.2 580.2L275.7 576.9M281.8 581.6L301.4 580.2M294.4 584.6L301.4 580.2L293.9 576.9M300.0 581.6L319.6 580.2M312.6 584.6L319.6 580.2L312.1 576.9M318.2 581.6L337.8 580.2M330.8 584.6L337.8 580.2L330.2 576.9M336.4 581.6L355.1 580.3M348.4 584.5L355.1 580.3L347.9 577.1M354.5 581.6L373.3 580.3M366.6 584.5L373.3 580.3L366.1 577.1M372.7 581.6L390.7 580.4M384.3 584.4L390.7 580.4L383.8 577.3M390.9 581.6L408.1 580.5M401.9 584.3L408.1 580.5L401.5 577.5M409.1 581.6L425.4 580.8M419.5 584.3L425.4 580.8L419.2 577.9M427.3 581.6L443.6 581.1M437.7 584.5L443.6 581.1L437.5 578.0M445.5 581.6L461.8 581.3M455.8 584.6L461.8 581.3L455.7 578.2M463.6 581.6L481.6 581.6M475.0 585.1L481.6 581.6L475.0 578.0M481.8 581.6L500.6 581.6M493.7 585.3L500.6 581.6L493.7 577.9M500.0 581.6L519.7 581.6M512.4 585.5L519.7 581.6L512.4 577.7M518.2 581.6L537.8 581.6M530.5 585.5L537.8 581.6L530.5 577.7M536.4 581.6L556.8 581.6M549.2 585.6L556.8 581.6L549.2 577.5M554.5 581.6L575.0 582.0M567.3 585.9L575.0 582.0L567.5 577.8M572.7 581.6L592.4 582.4M584.9 586.0L592.4 582.4L585.2 578.2M590.9 581.6L610.5 582.9M603.0 586.3L610.5 582.9L603.5 578.5M609.1 581.6L628.7 583.3M621.1 586.5L628.7 583.3L621.7 578.8M627.3 581.6L645.9 584.0M638.5 586.8L645.9 584.0L639.5 579.4M645.5 581.6L664.0 584.8M656.5 587.3L664.0 584.8L657.8 580.0M663.6 581.6L682.8 585.8M674.9 588.0L682.8 585.8L676.5 580.5M681.8 581.6L700.6 587.2M692.5 588.9L700.6 587.2L694.8 581.4M700.0 581.6L719.1 588.9M710.6 590.0L719.1 588.9L713.5 582.4M718.2 581.6L737.4 590.7M728.5 591.1L737.4 590.7L732.1 583.6M736.4 581.6L755.5 592.6M746.2 592.3L755.5 592.6L750.6 584.8M754.5 581.6L773.9 593.9M764.3 593.2L773.9 593.9L769.2 585.5M772.7 581.6L792.2 595.2M782.3 594.0L792.2 595.2L787.7 586.3M790.9 581.6L810.4 596.6M800.2 594.8L810.4 596.6L806.1 587.2M136.4 599.8L154.7 595.7M148.7 600.8L154.7 595.7L147.1 593.6M154.5 599.8L173.0 596.3M166.9 601.2L173.0 596.3L165.5 593.9M172.7 599.8L191.3 596.9M185.0 601.6L191.3 596.9L183.9 594.3M190.9 599.8L209.6 597.5M203.1 602.0L209.6 597.5L202.2 594.7M209.1 599.8L230.3 597.9M222.8 602.8L230.3 597.9L222.1 594.4M227.3 599.8L248.5 598.1M241.0 602.9L248.5 598.1L240.3 594.5M245.5 599.8L266.7 598.3M259.1 603.0L266.7 598.3L258.5 594.6M263.6 599.8L284.9 598.5M277.3 603.1L284.9 598.5L276.8 594.8M281.8 599.8L302.3 598.5M294.9 603.0L302.3 598.5L294.4 594.9M300.0 599.8L320.4 598.5M313.1 603.0L320.4 598.5L312.6 594.9M318.2 599.8L337.8 598.6M330.8 602.9L337.8 598.6L330.3 595.1M336.4 599.8L356.0 598.6M348.9 602.9L356.0 598.6L348.5 595.2M354.5 599.8L373.3 598.7M366.6 602.8L373.3 598.7L366.2 595.4M372.7 599.8L390.7 598.8M384.2 602.7L390.7 598.8L383.9 595.6M390.9 599.8L408.1 598.9M401.9 602.6L408.1 598.9L401.5 595.9M409.1 599.8L425.4 599.2M419.5 602.6L425.4 599.2L419.3 596.2M427.3 599.8L442.0 599.4M436.6 602.4L442.0 599.4L436.4 596.6M445.5 599.8L461.0 599.6M455.3 602.7L461.0 599.6L455.2 596.6M463.6 599.8L480.8 599.8M474.4 603.1L480.8 599.8L474.4 596.4M481.8 599.8L499.8 599.8M493.1 603.3L499.8 599.8L493.1 596.2M500.0 599.8L518.8 599.8M511.8 603.5L518.8 599.8L511.8 596.1M518.2 599.8L537.8 599.8M530.5 603.6L537.8 599.8L530.5 595.9M536.4 599.8L556.0 599.8M548.7 603.6L556.0 599.8L548.7 595.9M554.5 599.8L574.2 600.2M566.8 603.9L574.2 600.2L567.0 596.2M572.7 599.8L592.4 600.6M584.9 604.2L592.4 600.6L585.2 596.4M590.9 599.8L610.5 601.0M603.0 604.4L610.5 601.0L603.5 596.7M609.1 599.8L628.7 601.5M621.1 604.7L628.7 601.5L621.7 597.0M627.3 599.8L646.8 602.2M639.1 605.1L646.8 602.2L640.0 597.4M645.5 599.8L664.9 602.9M657.0 605.6L664.9 602.9L658.3 597.9M663.6 599.8L682.9 603.6M675.0 606.0L682.9 603.6L676.5 598.4M681.8 599.8L701.5 605.4M693.1 607.2L701.5 605.4L695.3 599.4M700.0 599.8L720.0 607.2M711.1 608.4L720.0 607.2L714.0 600.5M718.2 599.8L737.5 608.7M728.6 609.2L737.5 608.7L732.1 601.6M736.4 599.8L755.7 610.5M746.4 610.3L755.7 610.5L750.7 602.7M754.5 599.8L774.1 611.7M764.5 611.2L774.1 611.7L769.2 603.4M772.7 599.8L792.5 613.0M782.5 612.0L792.5 613.0L787.8 604.2M790.9 599.8L810.7 614.3M800.5 612.8L810.7 614.3L806.3 605.0M27.3 617.9L43.1 613.9M38.0 618.5L43.1 613.9L36.4 612.3M45.5 617.9L61.3 614.1M56.2 618.7L61.3 614.1L54.7 612.4M63.6 617.9L80.4 614.1M74.9 618.8L80.4 614.1L73.4 612.2M81.8 617.9L98.6 614.3M93.1 619.0L98.6 614.3L91.7 612.4M100.0 617.9L116.8 614.5M111.3 619.1L116.8 614.5L109.9 612.5M118.2 617.9L135.9 614.6M130.0 619.3L135.9 614.6L128.6 612.4M136.4 617.9L154.9 614.7M148.7 619.5L154.9 614.7L147.4 612.2M154.5 617.9L173.2 615.1M166.8 619.8L173.2 615.1L165.7 612.5M172.7 617.9L191.4 615.5M185.0 620.1L191.4 615.5L184.0 612.7M190.9 617.9L209.6 615.9M203.1 620.3L209.6 615.9L202.3 613.0M209.1 617.9L229.5 616.2M222.3 620.8L229.5 616.2L221.6 612.8M227.3 617.9L247.7 616.4M240.4 621.0L247.7 616.4L239.8 612.9M245.5 617.9L265.9 616.6M258.6 621.2L265.9 616.6L258.1 613.1M263.6 617.9L284.1 616.9M276.7 621.3L284.1 616.9L276.3 613.2M281.8 617.9L302.3 616.9M294.9 621.3L302.3 616.9L294.5 613.2M300.0 617.9L319.6 616.9M312.5 621.2L319.6 616.9L312.1 613.4M318.2 617.9L337.8 616.9M330.7 621.2L337.8 616.9L330.3 613.4M336.4 617.9L355.2 617.0M348.4 621.1L355.2 617.0L348.0 613.7M354.5 617.9L373.4 617.1M366.5 621.1L373.4 617.1L366.2 613.7M372.7 617.9L390.7 617.2M384.2 621.0L390.7 617.2L383.9 614.0M390.9 617.9L408.1 617.3M401.8 621.0L408.1 617.3L401.6 614.2M409.1 617.9L425.4 617.5M419.5 620.9L425.4 617.5L419.3 614.5M427.3 617.9L442.8 617.7M437.1 620.8L442.8 617.7L437.0 614.7M445.5 617.9L461.0 617.8M455.2 620.9L461.0 617.8L455.2 614.8M463.6 617.9L480.8 617.9M474.4 621.3L480.8 617.9L474.4 614.6M481.8 617.9L499.8 617.9M493.1 621.5L499.8 617.9L493.1 614.4M500.0 617.9L518.8 617.9M511.8 621.7L518.8 617.9L511.8 614.2M518.2 617.9L537.8 617.9M530.5 621.8L537.8 617.9L530.5 614.1M536.4 617.9L556.0 617.9M548.7 621.8L556.0 617.9L548.7 614.1M554.5 617.9L574.2 618.4M566.8 622.1L574.2 618.4L567.0 614.3M572.7 617.9L592.4 618.8M584.9 622.4L592.4 618.8L585.2 614.6M590.9 617.9L610.5 619.2M603.0 622.6L610.5 619.2L603.5 614.9M609.1 617.9L628.7 619.7M621.1 622.9L628.7 619.7L621.7 615.2M627.3 617.9L646.8 620.2M639.1 623.2L646.8 620.2L640.0 615.5M645.5 617.9L664.9 620.8M657.1 623.6L664.9 620.8L658.2 615.9M663.6 617.9L683.8 621.5M675.6 624.2L683.8 621.5L677.0 616.2M681.8 617.9L701.6 623.2M693.2 625.2L701.6 623.2L695.3 617.4M700.0 617.9L720.0 625.2M711.2 626.5L720.0 625.2L714.0 618.6M718.2 617.9L737.6 626.6M728.7 627.2L737.6 626.6L732.1 619.6M736.4 617.9L755.2 627.9M746.2 627.9L755.2 627.9L750.2 620.5M754.5 617.9L773.6 629.1M764.4 628.7L773.6 629.1L768.8 621.2M772.7 617.9L792.0 630.3M782.4 629.5L792.0 630.3L787.3 621.9M790.9 617.9L810.4 631.6M800.5 630.4L810.4 631.6L805.9 622.7M9.1 636.1L25.3 630.4M20.4 635.7L25.3 630.4L18.2 629.4M27.3 636.1L44.3 630.4M39.1 635.9L44.3 630.4L36.9 629.1M45.5 636.1L62.6 630.5M57.3 636.0L62.6 630.5L55.1 629.2M63.6 636.1L81.6 630.5M76.0 636.1L81.6 630.5L73.8 629.0M81.8 636.1L99.8 630.7M94.2 636.2L99.8 630.7L92.1 629.1M100.0 636.1L118.9 630.6M113.0 636.4L118.9 630.6L110.8 629.0M118.2 636.1L137.1 630.8M131.1 636.5L137.1 630.8L129.0 629.1M136.4 636.1L156.1 630.8M149.9 636.7L156.1 630.8L147.8 628.9M154.5 636.1L174.5 631.5M168.0 637.1L174.5 631.5L166.2 629.3M172.7 636.1L193.6 632.0M186.7 637.7L193.6 632.0L185.1 629.4M190.9 636.1L211.9 632.7M204.8 638.1L211.9 632.7L203.5 629.8M209.1 636.1L230.2 633.4M222.9 638.6L230.2 633.4L221.8 630.3M227.3 636.1L248.4 633.7M241.1 638.7L248.4 633.7L240.1 630.4M245.5 636.1L266.6 633.9M259.2 638.9L266.6 633.9L258.3 630.6M263.6 636.1L284.8 634.1M277.4 639.1L284.8 634.1L276.6 630.7M281.8 636.1L303.0 634.2M295.5 639.1L303.0 634.2L294.8 630.8M300.0 636.1L321.2 634.3M313.7 639.2L321.2 634.3L313.0 630.8M318.2 636.1L339.4 634.4M331.9 639.2L339.4 634.4L331.2 630.9M336.4 636.1L356.8 634.6M349.5 639.2L356.8 634.6L348.9 631.1M354.5 636.1L374.2 634.8M367.1 639.2L374.2 634.8L366.6 631.4M372.7 636.1L391.5 635.0M384.8 639.1L391.5 635.0L384.3 631.7M390.9 636.1L408.9 635.2M402.4 639.1L408.9 635.2L402.0 632.0M409.1 636.1L426.3 635.5M420.0 639.1L426.3 635.5L419.8 632.3M427.3 636.1L443.6 635.7M437.6 639.1L443.6 635.7L437.5 632.6M445.5 636.1L461.8 635.9M455.8 639.2L461.8 635.9L455.7 632.8M463.6 636.1L480.8 636.1M474.4 639.5L480.8 636.1L474.4 632.7M481.8 636.1L499.8 636.1M493.1 639.7L499.8 636.1L493.1 632.6M500.0 636.1L518.8 636.1M511.8 639.8L518.8 636.1L511.8 632.4M518.2 636.1L537.0 636.1M530.0 639.8L537.0 636.1L530.0 632.4M536.4 636.1L556.0 636.1M548.7 640.0L556.0 636.1L548.7 632.3M554.5 636.1L574.2 636.6M566.8 640.3L574.2 636.6L567.0 632.5M572.7 636.1L592.4 637.0M584.9 640.5L592.4 637.0L585.2 632.8M590.9 636.1L610.5 637.4M603.0 640.8L610.5 637.4L603.5 633.1M609.1 636.1L628.7 637.8M621.1 641.1L628.7 637.8L621.7 633.3M627.3 636.1L646.8 638.4M639.1 641.4L646.8 638.4L640.0 633.7M645.5 636.1L664.9 639.0M657.1 641.8L664.9 639.0L658.2 634.1M663.6 636.1L683.0 639.5M675.1 642.1L683.0 639.5L676.5 634.5M681.8 636.1L701.6 641.3M693.3 643.3L701.6 641.3L695.3 635.5M700.0 636.1L720.1 643.2M711.3 644.5L720.1 643.2L714.0 636.6M718.2 636.1L737.8 644.5M728.9 645.3L737.8 644.5L732.2 637.5M736.4 636.1L755.3 645.8M746.4 646.0L755.3 645.8L750.2 638.5M754.5 636.1L773.1 646.6M764.2 646.4L773.1 646.6L768.3 639.0M772.7 636.1L791.6 647.7M782.3 647.1L791.6 647.7L786.9 639.7M790.9 636.1L809.9 649.0M800.3 648.0L809.9 649.0L805.4 640.5M9.1 654.3L26.3 646.8M21.4 653.0L26.3 646.8L18.4 646.2M27.3 654.3L44.6 646.9M39.6 653.1L44.6 646.9L36.7 646.2M45.5 654.3L62.8 647.1M57.8 653.2L62.8 647.1L55.0 646.3M63.6 654.3L80.3 647.5M75.5 653.3L80.3 647.5L72.8 646.8M81.8 654.3L98.6 647.7M93.7 653.4L98.6 647.7L91.0 646.8M100.0 654.3L116.8 647.8M111.8 653.6L116.8 647.8L109.3 646.9M118.2 654.3L135.8 647.7M130.6 653.6L135.8 647.7L128.0 646.7M136.4 654.3L154.1 647.9M148.8 653.7L154.1 647.9L146.2 646.8M154.5 654.3L172.5 648.7M167.0 654.3L172.5 648.7L164.7 647.2M172.7 654.3L190.9 649.5M185.1 654.9L190.9 649.5L183.2 647.7M190.9 654.3L209.3 650.3M203.3 655.4L209.3 650.3L201.7 648.2M209.1 654.3L230.1 650.7M223.0 656.2L230.1 650.7L221.6 647.9M227.3 654.3L248.3 651.0M241.2 656.4L248.3 651.0L239.9 648.1M245.5 654.3L266.5 651.2M259.3 656.5L266.5 651.2L258.1 648.2M263.6 654.3L284.7 651.5M277.5 656.7L284.7 651.5L276.4 648.4M281.8 654.3L302.9 651.6M295.6 656.8L302.9 651.6L294.6 648.5M300.0 654.3L321.2 651.8M313.8 656.9L321.2 651.8L312.8 648.6M318.2 654.3L338.5 652.1M331.4 656.9L338.5 652.1L330.5 648.9M336.4 654.3L356.7 652.3M349.6 657.0L356.7 652.3L348.8 649.0M354.5 654.3L374.1 652.5M367.2 657.1L374.1 652.5L366.5 649.3M372.7 654.3L391.5 652.8M384.8 657.1L391.5 652.8L384.2 649.7M390.9 654.3L408.9 653.1M402.5 657.1L408.9 653.1L402.0 650.0M409.1 654.3L426.2 653.4M420.1 657.1L426.2 653.4L419.7 650.4M427.3 654.3L444.4 653.7M438.2 657.3L444.4 653.7L438.0 650.5M445.5 654.3L461.8 654.0M455.8 657.4L461.8 654.0L455.7 650.9M463.6 654.3L480.8 654.3M474.4 657.7L480.8 654.3L474.4 650.9M481.8 654.3L499.8 654.3M493.1 657.9L499.8 654.3L493.1 650.8M500.0 654.3L518.8 654.3M511.8 658.0L518.8 654.3L511.8 650.6M518.2 654.3L537.0 654.3M530.0 658.0L537.0 654.3L530.0 650.6M536.4 654.3L556.0 654.3M548.7 658.2L556.0 654.3L548.7 650.4M554.5 654.3L574.2 654.7M566.8 658.5L574.2 654.7L567.0 650.7M572.7 654.3L592.4 655.2M584.9 658.7L592.4 655.2L585.2 651.0M590.9 654.3L611.3 655.7M603.5 659.2L611.3 655.7L604.0 651.1M609.1 654.3L629.5 656.1M621.6 659.5L629.5 656.1L622.3 651.4M627.3 654.3L647.6 656.7M639.6 659.8L647.6 656.7L640.5 651.8M645.5 654.3L665.7 657.3M657.6 660.2L665.7 657.3L658.8 652.2M663.6 654.3L683.8 657.9M675.6 660.5L683.8 657.9L677.0 652.6M681.8 654.3L702.5 659.6M693.8 661.7L702.5 659.6L695.8 653.6M700.0 654.3L720.2 661.1M711.4 662.6L720.2 661.1L714.0 654.6M718.2 654.3L738.6 662.7M729.4 663.6L738.6 662.7L732.7 655.6M736.4 654.3L756.2 664.0M747.0 664.3L756.2 664.0L750.8 656.5M754.5 654.3L773.3 664.4M764.3 664.4L773.3 664.4L768.3 657.0M772.7 654.3L791.8 665.6M782.5 665.2L791.8 665.6L786.9 657.7M790.9 654.3L810.2 666.8M800.6 666.0L810.2 666.8L805.5 658.4M9.1 672.5L25.7 663.7M21.3 670.2L25.7 663.7L17.8 663.7M27.3 672.5L44.0 663.8M39.5 670.3L44.0 663.8L36.1 663.7M45.5 672.5L61.5 664.3M57.2 670.5L61.5 664.3L53.9 664.2M63.6 672.5L79.7 664.4M75.3 670.6L79.7 664.4L72.2 664.2M81.8 672.5L98.0 664.5M93.5 670.7L98.0 664.5L90.4 664.3M100.0 672.5L116.2 664.6M111.7 670.7L116.2 664.6L108.6 664.4M118.2 672.5L134.4 664.8M129.9 670.8L134.4 664.8L126.9 664.4M136.4 672.5L152.7 664.9M148.1 670.9L152.7 664.9L145.1 664.5M154.5 672.5L172.0 665.5M166.9 671.6L172.0 665.5L164.2 664.7M172.7 672.5L190.6 666.5M185.1 672.3L190.6 666.5L182.8 665.2M190.9 672.5L209.1 667.5M203.3 673.0L209.1 667.5L201.4 665.8M209.1 672.5L228.3 668.4M222.0 673.7L228.3 668.4L220.4 666.1M227.3 672.5L246.5 668.6M240.2 673.9L246.5 668.6L238.6 666.3M245.5 672.5L265.6 668.7M258.9 674.1L265.6 668.7L257.4 666.1M263.6 672.5L283.8 668.9M277.0 674.2L283.8 668.9L275.6 666.3M281.8 672.5L302.8 669.0M295.7 674.5L302.8 669.0L294.4 666.2M300.0 672.5L320.2 669.4M313.3 674.5L320.2 669.4L312.1 666.6M318.2 672.5L338.5 669.6M331.5 674.7L338.5 669.6L330.4 666.7M336.4 672.5L356.7 669.9M349.7 674.9L356.7 669.9L348.6 666.9M354.5 672.5L374.1 670.3M367.3 674.9L374.1 670.3L366.4 667.2M372.7 672.5L391.5 670.6M384.9 675.0L391.5 670.6L384.1 667.6M390.9 672.5L408.8 670.9M402.5 675.0L408.8 670.9L401.9 668.0M409.1 672.5L426.2 671.4M420.1 675.2L426.2 671.4L419.7 668.4M427.3 672.5L444.4 671.7M438.2 675.4L444.4 671.7L437.9 668.6M445.5 672.5L462.6 672.1M456.3 675.6L462.6 672.1L456.2 668.9M463.6 672.5L480.8 672.5M474.4 675.9L480.8 672.5L474.4 669.1M481.8 672.5L499.8 672.5M493.1 676.0L499.8 672.5L493.1 668.9M500.0 672.5L518.8 672.5M511.8 676.2L518.8 672.5L511.8 668.8M518.2 672.5L537.8 672.5M530.5 676.4L537.8 672.5L530.5 668.6M536.4 672.5L556.0 672.5M548.7 676.4L556.0 672.5L548.7 668.6M554.5 672.5L574.2 672.9M566.8 676.6L574.2 672.9L567.0 668.9M572.7 672.5L592.4 673.4M584.9 676.9L592.4 673.4L585.2 669.2M590.9 672.5L611.3 673.8M603.5 677.4L611.3 673.8L604.0 669.3M609.1 672.5L629.5 674.3M621.6 677.6L629.5 674.3L622.3 669.6M627.3 672.5L647.6 674.9M639.6 678.0L647.6 674.9L640.5 670.0M645.5 672.5L666.5 675.6M658.1 678.6L666.5 675.6L659.3 670.3M663.6 672.5L684.6 676.2M676.1 679.0L684.6 676.2L677.6 670.7M681.8 672.5L702.5 677.6M693.8 679.8L702.5 677.6L695.8 671.7M700.0 672.5L720.3 679.1M711.4 680.6L720.3 679.1L714.0 672.6M718.2 672.5L738.8 680.6M729.5 681.7L738.8 680.6L732.7 673.5M736.4 672.5L756.4 681.8M747.1 682.3L756.4 681.8L750.8 674.4M754.5 672.5L774.2 682.7M764.9 682.8L774.2 682.7L768.9 675.0M772.7 672.5L792.7 683.9M783.0 683.6L792.7 683.9L787.5 675.7M790.9 672.5L810.4 684.7M800.8 684.0L810.4 684.7L805.6 676.3M9.1 690.7L25.7 681.8M21.3 688.4L25.7 681.8L17.8 681.8M27.3 690.7L44.0 682.0M39.5 688.5L44.0 682.0L36.1 681.9M45.5 690.7L60.7 682.8M56.6 688.8L60.7 682.8L53.5 682.7M63.6 690.7L78.2 683.3M74.3 688.9L78.2 683.3L71.4 683.2M81.8 690.7L96.5 683.4M92.5 689.0L96.5 683.4L89.6 683.2M100.0 690.7L114.7 683.5M110.7 689.1L114.7 683.5L107.9 683.3M118.2 690.7L132.9 683.7M128.9 689.2L132.9 683.7L126.1 683.3M136.4 690.7L151.9 683.4M147.6 689.2L151.9 683.4L144.7 683.0M154.5 690.7L170.4 684.1M165.8 689.7L170.4 684.1L163.2 683.4M172.7 690.7L189.7 684.6M184.6 690.2L189.7 684.6L182.2 683.5M190.9 690.7L208.1 685.4M202.8 690.7L208.1 685.4L200.7 683.9M209.1 690.7L225.7 686.3M220.4 691.2L225.7 686.3L218.7 684.7M227.3 690.7L244.8 686.4M239.1 691.4L244.8 686.4L237.4 684.5M245.5 690.7L263.0 686.7M257.3 691.6L263.0 686.7L255.7 684.7M263.6 690.7L281.2 686.9M275.5 691.8L281.2 686.9L274.0 684.9M281.8 690.7L301.1 686.9M294.7 692.1L301.1 686.9L293.2 684.5M300.0 690.7L319.3 687.2M312.9 692.3L319.3 687.2L311.5 684.7M318.2 690.7L338.4 687.3M331.6 692.6L338.4 687.3L330.2 684.6M336.4 690.7L356.6 687.7M349.7 692.8L356.6 687.7L348.5 684.8M354.5 690.7L374.0 688.2M367.3 693.0L374.0 688.2L366.3 685.3M372.7 690.7L391.4 688.7M384.9 693.1L391.4 688.7L384.1 685.7M390.9 690.7L408.8 689.1M402.5 693.2L408.8 689.1L401.9 686.2M409.1 690.7L427.1 689.5M420.6 693.5L427.1 689.5L420.2 686.4M427.3 690.7L445.3 689.9M438.7 693.7L445.3 689.9L438.4 686.6M445.5 690.7L463.5 690.3M456.9 694.0L463.5 690.3L456.7 686.9M463.6 690.7L481.6 690.7M475.0 694.2L481.6 690.7L475.0 687.1M481.8 690.7L499.8 690.7M493.1 694.2L499.8 690.7L493.1 687.1M500.0 690.7L518.8 690.7M511.8 694.4L518.8 690.7L511.8 687.0M518.2 690.7L537.8 690.7M530.5 694.6L537.8 690.7L530.5 686.8M536.4 690.7L556.0 690.7M548.7 694.6L556.0 690.7L548.7 686.8M554.5 690.7L575.0 691.1M567.3 695.0L575.0 691.1L567.5 686.9M572.7 690.7L593.2 691.6M585.4 695.3L593.2 691.6L585.8 687.2M590.9 690.7L611.3 692.0M603.5 695.5L611.3 692.0L604.0 687.5M609.1 690.7L629.5 692.5M621.6 695.8L629.5 692.5L622.3 687.8M627.3 690.7L648.4 693.1M640.1 696.4L648.4 693.1L641.1 688.0M645.5 690.7L666.5 693.7M658.1 696.7L666.5 693.7L659.3 688.4M663.6 690.7L684.6 694.2M676.1 697.1L684.6 694.2L677.6 688.8M681.8 690.7L702.5 695.6M693.9 697.9L702.5 695.6L695.8 689.7M700.0 690.7L721.1 697.3M712.0 699.0L721.1 697.3L714.6 690.7M718.2 690.7L738.9 698.6M729.6 699.7L738.9 698.6L732.7 691.6M736.4 690.7L756.5 699.8M747.2 700.4L756.5 699.8L750.8 692.5M754.5 690.7L774.3 700.6M765.0 700.8L774.3 700.6L768.9 693.0M772.7 690.7L792.8 701.8M783.2 701.6L792.8 701.8L787.6 693.7M790.9 690.7L810.5 702.6M800.9 702.0L810.5 702.6L805.6 694.3M9.1 708.9L25.7 700.0M21.3 706.6L25.7 700.0L17.8 700.0M27.3 708.9L42.5 700.9M38.4 706.9L42.5 700.9L35.3 700.9M45.5 708.9L60.0 701.4M56.1 707.0L60.0 701.4L53.1 701.3M63.6 708.9L77.5 701.9M73.7 707.2L77.5 701.9L71.0 701.7M81.8 708.9L95.7 702.0M91.9 707.3L95.7 702.0L89.2 701.8M100.0 708.9L113.2 702.4M109.6 707.4L113.2 702.4L107.1 702.2M118.2 708.9L131.5 702.5M127.8 707.5L131.5 702.5L125.3 702.3M136.4 708.9L149.7 702.6M146.0 707.6L149.7 702.6L143.5 702.3M154.5 708.9L168.8 702.8M164.7 707.9L168.8 702.8L162.3 702.2M172.7 708.9L187.2 703.3M182.9 708.2L187.2 703.3L180.7 702.5M190.9 708.9L206.4 703.5M201.7 708.5L206.4 703.5L199.6 702.4M209.1 708.9L222.3 704.8M218.2 708.9L222.3 704.8L216.6 703.7M227.3 708.9L241.4 704.8M237.0 709.1L241.4 704.8L235.4 703.5M245.5 708.9L260.4 704.8M255.7 709.3L260.4 704.8L254.1 703.4M263.6 708.9L278.7 705.1M273.9 709.5L278.7 705.1L272.4 703.5M281.8 708.9L297.8 705.2M292.6 709.7L297.8 705.2L291.1 703.4M300.0 708.9L316.8 705.3M311.3 710.0L316.8 705.3L309.9 703.3M318.2 708.9L335.9 705.5M330.0 710.2L335.9 705.5L328.6 703.3M336.4 708.9L354.9 705.8M348.7 710.6L354.9 705.8L347.4 703.3M354.5 708.9L374.0 706.2M367.3 711.0L374.0 706.2L366.3 703.3M372.7 708.9L391.4 706.7M384.9 711.2L391.4 706.7L384.1 703.8M390.9 708.9L408.8 707.3M402.5 711.4L408.8 707.3L401.9 704.3M409.1 708.9L427.9 707.6M421.2 711.8L427.9 707.6L420.7 704.4M427.3 708.9L446.1 708.0M439.3 712.1L446.1 708.0L438.9 704.6M445.5 708.9L464.3 708.4M457.4 712.3L464.3 708.4L457.2 704.9M463.6 708.9L482.5 708.9M475.5 712.6L482.5 708.9L475.5 705.1M481.8 708.9L500.6 708.9M493.7 712.6L500.6 708.9L493.7 705.1M500.0 708.9L518.8 708.9M511.8 712.6L518.8 708.9L511.8 705.1M518.2 708.9L537.8 708.9M530.5 712.7L537.8 708.9L530.5 705.0M536.4 708.9L556.8 708.9M549.2 712.9L556.8 708.9L549.2 704.8M554.5 708.9L575.0 709.3M567.3 713.2L575.0 709.3L567.5 705.1M572.7 708.9L593.2 709.8M585.4 713.5L593.2 709.8L585.8 705.4M590.9 708.9L611.3 710.2M603.5 713.7L611.3 710.2L604.0 705.7M609.1 708.9L629.5 710.6M621.6 714.0L629.5 710.6L622.3 706.0M627.3 708.9L648.4 711.2M640.1 714.5L648.4 711.2L641.1 706.2M645.5 708.9L666.6 711.8M658.2 714.8L666.6 711.8L659.3 706.5M663.6 708.9L684.7 712.3M676.2 715.1L684.7 712.3L677.5 706.9M681.8 708.9L702.6 713.7M693.9 716.0L702.6 713.7L695.8 707.8M700.0 708.9L721.2 715.3M712.1 717.1L721.2 715.3L714.6 708.7M718.2 708.9L738.9 716.5M729.7 717.8L738.9 716.5L732.8 709.6M736.4 708.9L756.6 717.8M747.3 718.5L756.6 717.8L750.9 710.5M754.5 708.9L775.2 718.9M765.5 719.3L775.2 718.9L769.5 711.1M772.7 708.9L793.0 719.7M783.3 719.7L793.0 719.7L787.6 711.7M790.9 708.9L810.7 720.5M801.1 720.1L810.7 720.5L805.7 712.3M9.1 727.0L25.0 718.6M20.8 724.9L25.0 718.6L17.4 718.6M27.3 727.0L42.5 719.1M38.4 725.0L42.5 719.1L35.3 719.0M45.5 727.0L59.3 720.0M55.5 725.3L59.3 720.0L52.8 719.9M63.6 727.0L76.8 720.4M73.2 725.5L76.8 720.4L70.6 720.3M81.8 727.0L94.3 720.9M90.9 725.6L94.3 720.9L88.4 720.7M100.0 727.0L111.7 721.4M108.5 725.8L111.7 721.4L106.3 721.1M118.2 727.0L130.0 721.4M126.7 725.8L130.0 721.4L124.5 721.2M136.4 727.0L148.2 721.5M144.9 725.9L148.2 721.5L142.7 721.2M154.5 727.0L167.3 721.5M163.6 726.0L167.3 721.5L161.4 721.0M172.7 727.0L185.6 721.8M181.8 726.2L185.6 721.8L179.8 721.2M190.9 727.0L204.6 721.8M200.6 726.4L204.6 721.8L198.5 721.0M209.1 727.0L220.6 722.9M217.1 726.7L220.6 722.9L215.5 722.2M227.3 727.0L239.6 722.9M235.9 726.9L239.6 722.9L234.2 722.0M245.5 727.0L259.5 722.7M255.1 727.1L259.5 722.7L253.4 721.5M263.6 727.0L278.6 722.8M273.9 727.3L278.6 722.8L272.2 721.4M281.8 727.0L297.6 722.9M292.6 727.5L297.6 722.9L290.9 721.3M300.0 727.0L316.7 723.0M311.3 727.8L316.7 723.0L309.7 721.2M318.2 727.0L335.8 723.2M330.0 728.1L335.8 723.2L328.5 721.2M336.4 727.0L354.9 723.6M348.7 728.6L354.9 723.6L347.3 721.3M354.5 727.0L373.2 724.2M366.8 728.9L373.2 724.2L365.7 721.6M372.7 727.0L391.4 724.8M384.9 729.3L391.4 724.8L384.0 722.0M390.9 727.0L409.7 725.4M403.0 729.7L409.7 725.4L402.4 722.3M409.1 727.0L427.9 725.8M421.2 730.0L427.9 725.8L420.7 722.6M427.3 727.0L446.1 726.2M439.3 730.2L446.1 726.2L438.9 722.8M445.5 727.0L465.1 726.6M457.9 730.6L465.1 726.6L457.7 722.9M463.6 727.0L483.3 727.0M476.0 730.9L483.3 727.0L476.0 723.2M481.8 727.0L500.6 727.0M493.7 730.8L500.6 727.0L493.7 723.3M500.0 727.0L519.7 727.0M512.4 730.9L519.7 727.0L512.4 723.2M518.2 727.0L537.8 727.0M530.5 730.9L537.8 727.0L530.5 723.2M536.4 727.0L556.8 727.0M549.2 731.1L556.8 727.0L549.2 723.0M554.5 727.0L575.8 727.5M567.9 731.5L575.8 727.5L568.0 723.1M572.7 727.0L594.0 728.0M585.9 731.8L594.0 728.0L586.3 723.4M590.9 727.0L611.3 728.4M603.5 731.9L611.3 728.4L604.0 723.9M609.1 727.0L629.5 728.8M621.6 732.2L629.5 728.8L622.3 724.1M627.3 727.0L647.6 729.3M639.6 732.5L647.6 729.3L640.5 724.4M645.5 727.0L666.6 729.8M658.2 733.0L666.6 729.8L659.3 724.6M663.6 727.0L684.7 730.3M676.2 733.2L684.7 730.3L677.5 724.9M681.8 727.0L703.4 731.8M694.5 734.3L703.4 731.8L696.4 725.8M700.0 727.0L721.2 733.2M712.2 735.1L721.2 733.2L714.6 726.7M718.2 727.0L739.8 734.8M730.3 736.2L739.8 734.8L733.3 727.6M736.4 727.0L757.5 736.1M747.9 736.9L757.5 736.1L751.4 728.6M754.5 727.0L775.3 736.9M765.7 737.3L775.3 736.9L769.5 729.1M772.7 727.0L793.1 737.6M783.5 737.7L793.1 737.6L787.6 729.7M790.9 727.0L810.9 738.4M801.2 738.1L810.9 738.4L805.7 730.2M9.1 745.2L25.0 736.8M20.8 743.0L25.0 736.8L17.4 736.8M27.3 745.2L42.5 737.3M38.4 743.2L42.5 737.3L35.3 737.2M45.5 745.2L59.3 738.1M55.5 743.5L59.3 738.1L52.8 738.0M63.6 745.2L76.0 739.0M72.7 743.7L76.0 739.0L70.2 738.9M81.8 745.2L93.5 739.4M90.3 743.9L93.5 739.4L88.0 739.3M100.0 745.2L111.7 739.5M108.5 744.0L111.7 739.5L106.3 739.3M118.2 745.2L129.2 740.0M126.2 744.1L129.2 740.0L124.1 739.7M136.4 745.2L147.4 740.1M144.4 744.2L147.4 740.1L142.3 739.8M154.5 745.2L166.4 739.8M163.1 744.2L166.4 739.8L161.0 739.5M172.7 745.2L184.7 740.0M181.3 744.3L184.7 740.0L179.2 739.6M190.9 745.2L203.7 739.8M200.0 744.3L203.7 739.8L197.9 739.3M209.1 745.2L221.2 740.3M217.7 744.5L221.2 740.3L215.7 739.7M227.3 745.2L240.2 740.3M236.4 744.7L240.2 740.3L234.4 739.6M245.5 745.2L259.3 740.3M255.1 744.9L259.3 740.3L253.2 739.4M263.6 745.2L278.4 740.4M273.9 745.1L278.4 740.4L272.0 739.3M281.8 745.2L297.5 740.6M292.6 745.4L297.5 740.6L290.8 739.2M300.0 745.2L316.6 740.8M311.3 745.7L316.6 740.8L309.6 739.1M318.2 745.2L335.7 741.0M330.0 746.0L335.7 741.0L328.4 739.1M336.4 745.2L354.8 741.5M348.7 746.5L354.8 741.5L347.2 739.2M354.5 745.2L373.1 742.2M366.8 747.0L373.1 742.2L365.6 739.6M372.7 745.2L392.2 742.8M385.5 747.5L392.2 742.8L384.5 739.8M390.9 745.2L410.5 743.5M403.6 748.0L410.5 743.5L402.9 740.3M409.1 745.2L428.7 743.9M421.7 748.3L428.7 743.9L421.2 740.6M427.3 745.2L446.9 744.4M439.8 748.6L446.9 744.4L439.5 740.8M445.5 745.2L465.1 744.8M457.9 748.8L465.1 744.8L457.7 741.1M463.6 745.2L483.3 745.2M476.0 749.1L483.3 745.2L476.0 741.4M481.8 745.2L501.5 745.2M494.2 749.1L501.5 745.2L494.2 741.4M500.0 745.2L519.7 745.2M512.4 749.1L519.7 745.2L512.4 741.4M518.2 745.2L538.7 745.2M531.1 749.3L538.7 745.2L531.1 741.2M536.4 745.2L556.8 745.2M549.2 749.3L556.8 745.2L549.2 741.2M554.5 745.2L575.8 745.7M567.9 749.7L575.8 745.7L568.0 741.3M572.7 745.2L594.0 746.2M585.9 750.0L594.0 746.2L586.3 741.6M590.9 745.2L611.3 746.6M603.5 750.1L611.3 746.6L604.0 742.0M609.1 745.2L629.5 747.0M621.6 750.4L629.5 747.0L622.3 742.3M627.3 745.2L647.6 747.4M639.6 750.6L647.6 747.4L640.5 742.6M645.5 745.2L666.6 747.9M658.2 751.1L666.6 747.9L659.3 742.8M663.6 745.2L684.7 748.3M676.3 751.3L684.7 748.3L677.5 743.0M681.8 745.2L703.5 749.8M694.5 752.4L703.5 749.8L696.3 743.9M700.0 745.2L722.1 751.4M712.7 753.5L722.1 751.4L715.1 744.8M718.2 745.2L740.6 753.0M730.8 754.6L740.6 753.0L733.9 745.7M736.4 745.2L758.3 754.4M748.4 755.3L758.3 754.4L752.0 746.6M754.5 745.2L776.2 755.1M766.2 755.7L776.2 755.1L770.1 747.2M772.7 745.2L794.0 755.9M784.0 756.1L794.0 755.9L788.2 747.8M790.9 745.2L811.0 756.3M801.4 756.1L811.0 756.3L805.7 748.2M9.1 763.4L24.3 755.3M20.2 761.3L24.3 755.3L17.0 755.3M27.3 763.4L41.8 755.8M37.9 761.5L41.8 755.8L34.9 755.8M45.5 763.4L58.5 756.7M55.0 761.8L58.5 756.7L52.4 756.6M63.6 763.4L75.3 757.5M72.1 762.0L75.3 757.5L69.8 757.4M81.8 763.4L93.5 757.6M90.3 762.1L93.5 757.6L88.0 757.5M100.0 763.4L111.7 757.7M108.5 762.1L111.7 757.7L106.3 757.5M118.2 763.4L129.2 758.2M126.2 762.3L129.2 758.2L124.1 757.9M136.4 763.4L147.4 758.2M144.4 762.3L147.4 758.2L142.3 758.0M154.5 763.4L166.4 757.9M163.1 762.3L166.4 757.9L160.9 757.6M172.7 763.4L184.6 757.9M181.3 762.3L184.6 757.9L179.1 757.6M190.9 763.4L202.7 757.9M199.4 762.3L202.7 757.9L197.3 757.6M209.1 763.4L221.7 757.5M218.2 762.2L221.7 757.5L215.8 757.2M227.3 763.4L240.8 757.6M236.9 762.4L240.8 757.6L234.6 757.1M245.5 763.4L259.9 757.7M255.7 762.6L259.9 757.7L253.4 757.0M263.6 763.4L279.0 757.8M274.4 762.9L279.0 757.8L272.2 756.9M281.8 763.4L297.3 758.3M292.6 763.2L297.3 758.3L290.6 757.1M300.0 763.4L316.5 758.5M311.3 763.6L316.5 758.5L309.4 757.1M318.2 763.4L335.6 758.7M330.0 763.9L335.6 758.7L328.2 757.0M336.4 763.4L354.7 759.3M348.7 764.5L354.7 759.3L347.1 757.2M354.5 763.4L373.1 760.1M366.9 765.0L373.1 760.1L365.6 757.7M372.7 763.4L392.2 760.8M385.5 765.6L392.2 760.8L384.5 758.0M390.9 763.4L411.3 761.6M404.1 766.3L411.3 761.6L403.4 758.3M409.1 763.4L429.5 762.1M422.2 766.6L429.5 762.1L421.7 758.5M427.3 763.4L446.9 762.6M439.8 766.7L446.9 762.6L439.5 759.0M445.5 763.4L465.1 763.0M457.9 767.0L465.1 763.0L457.7 759.3M463.6 763.4L483.3 763.4M476.0 767.3L483.3 763.4L476.0 759.5M481.8 763.4L501.5 763.4M494.2 767.3L501.5 763.4L494.2 759.5M500.0 763.4L520.5 763.4M512.9 767.4L520.5 763.4L512.9 759.4M518.2 763.4L538.7 763.4M531.1 767.4L538.7 763.4L531.1 759.4M536.4 763.4L556.8 763.4M549.2 767.4L556.8 763.4L549.2 759.4M554.5 763.4L575.8 763.9M567.9 767.9L575.8 763.9L568.0 759.5M572.7 763.4L594.0 764.3M585.9 768.2L594.0 764.3L586.3 759.8M590.9 763.4L611.3 764.7M603.5 768.3L611.3 764.7L604.0 760.2M609.1 763.4L629.5 765.2M621.6 768.6L629.5 765.2L622.3 760.5M627.3 763.4L647.6 765.5M639.7 768.8L647.6 765.5L640.5 760.7M645.5 763.4L665.8 765.9M657.7 769.0L665.8 765.9L658.7 761.0M663.6 763.4L684.7 766.4M676.3 769.4L684.7 766.4L677.5 761.1M681.8 763.4L703.5 767.8M694.6 770.5L703.5 767.8L696.3 761.9M700.0 763.4L723.0 769.6M713.2 771.8L723.0 769.6L715.7 762.8M718.2 763.4L740.7 771.0M730.9 772.6L740.7 771.0L733.9 763.7M736.4 763.4L758.4 772.3M748.5 773.4L758.4 772.3L752.0 764.7M754.5 763.4L776.3 773.1M766.3 773.8L776.3 773.1L770.1 765.2M772.7 763.4L793.4 773.5M783.7 773.8L793.4 773.5L787.7 765.7M790.9 763.4L811.2 774.2M801.5 774.2L811.2 774.2L805.8 766.2" stroke="#fff" stroke-width="1" fill="none" shape-rendering="crispEdges"/>
</svg>
<div class="t" style="position:absolute;left:0;top:0;width:800px;height:120px;color:#808080;font-weight:bold;font-size:26px;-webkit-text-stroke:0.4px #808080">
<div id="l1" style="position:absolute;left:4.6px;top:26.5px;white-space:nowrap;transform-origin:0 0;transform:scaleX(1.103)">modelo GEFS-WAVE (NCEP)</div>
<div id="l2" style="position:absolute;left:6px;top:49.5px;white-space:nowrap;transform-origin:0 0;transform:scaleX(1.178)">forecast date: 2025-11-12 12:00:00</div>
<div id="l3" style="position:absolute;left:40.6px;top:72px;white-space:nowrap;transform-origin:0 0;transform:scaleX(1.186)">valid date: 2025-11-12 12:00:00</div>
</div>
<svg width="800" height="800" viewBox="0 0 800 800">
<g fill="#808080" shape-rendering="crispEdges">
<rect x="9" y="28" width="1" height="745"/>
<rect x="81" y="28" width="1" height="745"/>
<rect x="154" y="28" width="1" height="745"/>
<rect x="227" y="28" width="1" height="745"/>
<rect x="299" y="28" width="1" height="745"/>
<rect x="372" y="28" width="1" height="745"/>
<rect x="445" y="28" width="1" height="745"/>
<rect x="518" y="28" width="1" height="745"/>
<rect x="590" y="28" width="1" height="745"/>
<rect x="663" y="28" width="1" height="745"/>
<rect x="736" y="28" width="1" height="745"/>
<rect x="0" y="36" width="800" height="1"/>
<rect x="0" y="109" width="800" height="1"/>
<rect x="0" y="181" width="800" height="1"/>
<rect x="0" y="254" width="800" height="1"/>
<rect x="0" y="327" width="800" height="1"/>
<rect x="0" y="400" width="800" height="1"/>
<rect x="0" y="472" width="800" height="1"/>
<rect x="0" y="545" width="800" height="1"/>
<rect x="0" y="618" width="800" height="1"/>
<rect x="0" y="690" width="800" height="1"/>
<rect x="0" y="763" width="800" height="1"/>
</g>
<g fill="none" stroke="#000" stroke-width="1" shape-rendering="crispEdges">
<polyline points="237.5,28.0 233.8,31.0 235.0,37.0 233.8,50.8 228.8,57.0 225.0,64.5 223.8,73.0 227.5,77.0 225.0,80.8 225.0,93.0 213.8,98.0 212.5,102.0 216.2,107.0 216.2,114.5 213.8,120.8 217.5,125.8 220.0,129.5 216.2,134.5 212.5,142.0 211.2,144.5 211.3,150.0 213.5,167.8 216.9,174.4 216.0,180.0 215.0,184.7 210.3,188.5 198.1,187.5 196.3,189.4 197.2,195.0 196.3,200.6 197.2,203.5 191.6,206.3 188.8,213.8 187.8,225.0 187.8,234.4 193.5,243.8 194.4,255.1 199.1,257.9 198.1,268.2 192.5,273.8 185.9,274.8 192.5,278.5 194.4,281.3 191.6,287.0 193.5,292.6 198.3,295.1 206.5,301.9 217.4,307.4 229.7,312.8 244.7,318.3 261.0,325.1 274.6,336.0 288.3,349.6 291.0,359.2 282.8,370.0 274.6,379.6 271.9,390.5 274.6,401.4 284.2,412.3 296.4,421.8 307.3,425.9 318.2,424.5 321.2,427.0 322.5,437.0 325.0,464.5 317.5,473.2 307.5,484.5 300.0,494.5 295.0,502.0 287.5,512.0 275.0,519.5 265.0,529.5 261.2,537.0 260.0,544.5 260.0,554.5 250.0,559.5 237.5,564.5 225.0,572.0 212.5,577.0 200.0,581.5 185.0,585.8 165.0,590.8 150.0,595.8 130.0,599.5 110.0,602.0 97.5,605.8 82.5,607.0"/>
<polyline points="32.5,614.0 17.5,615.8 0.0,618.2"/>
<polyline points="212.0,142.0 215.0,150.0 217.8,167.8 222.5,173.5 223.5,180.0 220.7,186.6 215.0,189.4 201.9,190.3 201.0,195.0 201.0,205.3 197.2,210.0 199.1,213.8 196.3,219.4 195.3,228.8 196.3,238.2 198.1,249.4 207.5,256.9 211.3,262.6 217.8,266.3 226.3,273.8 234.7,281.3 237.5,288.8 245.0,287.9 254.4,286.0 263.7,285.6 277.4,282.9 288.3,284.2 301.9,292.4 312.8,303.3 323.7,307.4 340.0,308.7 345.5,315.6 353.7,319.6 360.5,322.4 372.7,316.9 383.6,312.8 400.0,309.5 417.5,312.0 423.8,317.0 428.8,319.5 437.5,318.2 443.8,320.8 447.5,324.5 457.5,320.8 472.5,315.8 490.0,309.5 496.2,304.5 493.8,299.5 497.5,295.8 500.0,299.5 500.0,303.2 507.5,302.0 515.0,294.5 525.0,287.0 535.0,282.0 536.2,274.5 545.0,264.5 555.0,244.5 561.2,235.8 575.0,229.5 577.5,227.0 600.0,207.0 617.5,190.8 627.5,167.0 636.2,145.8 646.2,129.5 657.5,118.2 672.5,104.5 700.0,87.0 736.2,63.2 750.0,48.2 763.8,29.5 766.2,27.0"/>
<polyline points="372.9,41.5 382.5,40.1 389.4,36.0 393.5,31.9 399.0,29.0 408.6,27.8 418.3,37.4 422.4,47.0 427.9,53.9 440.3,58.0 449.9,63.5 465.0,69.0 478.8,75.9 492.5,88.3 506.3,99.3 511.8,100.6 520.0,104.5 527.5,109.5 536.0,113.0 544.0,129.5 550.0,141.0 561.0,149.5 572.5,153.0 582.5,162.0 570.0,173.0 566.0,181.0 556.0,186.0 551.0,197.0 552.5,214.5 551.0,227.0 561.2,235.8"/>
<polyline points="700.0,27.0 700.0,28.2 701.2,30.8 701.9,39.5 703.1,42.0 691.2,46.4 688.8,53.2 677.5,56.4 667.5,59.5 663.8,64.5 661.9,76.4 658.8,78.2 656.9,80.1 658.1,82.1 660.6,81.5 660.0,78.4 658.8,82.0 655.0,87.0 648.1,88.9 646.2,97.0 645.6,99.5 650.0,100.8 653.1,102.0 651.2,105.8 645.6,108.2 644.4,113.2 646.2,114.5 648.8,115.8 651.9,114.5 654.4,112.0 656.9,110.8 657.5,114.5 655.6,119.5 656.9,122.0"/>
<polyline points="736.0,27.0 738.0,31.0 737.0,37.0 739.0,43.0 735.0,41.0 730.0,41.4 725.0,42.0 723.8,45.8 725.0,52.0 722.5,62.0 717.5,69.5 710.0,74.5 706.2,73.9 705.0,71.4 702.5,74.5 703.8,81.4 701.2,78.9 699.4,80.8 692.5,87.0 685.0,93.2 677.5,94.5 675.6,95.8 671.2,98.2 666.2,99.5 658.8,98.9 656.9,95.8 658.8,95.1 661.9,96.4"/>
</g>
<g fill="#000" shape-rendering="crispEdges">
<rect x="0" y="27" width="800" height="1"/>
<rect x="0" y="27" width="1" height="746"/>
<rect x="2" y="28" width="1" height="4"/>
<rect x="2" y="768" width="1" height="5"/>
<rect x="9" y="28" width="1" height="17"/>
<rect x="9" y="756" width="1" height="17"/>
<rect x="16" y="28" width="1" height="4"/>
<rect x="16" y="768" width="1" height="5"/>
<rect x="23" y="28" width="1" height="4"/>
<rect x="23" y="768" width="1" height="5"/>
<rect x="31" y="28" width="1" height="4"/>
<rect x="31" y="768" width="1" height="5"/>
<rect x="38" y="28" width="1" height="4"/>
<rect x="38" y="768" width="1" height="5"/>
<rect x="45" y="28" width="1" height="8"/>
<rect x="45" y="764" width="1" height="9"/>
<rect x="52" y="28" width="1" height="4"/>
<rect x="52" y="768" width="1" height="5"/>
<rect x="59" y="28" width="1" height="4"/>
<rect x="59" y="768" width="1" height="5"/>
<rect x="67" y="28" width="1" height="4"/>
<rect x="67" y="768" width="1" height="5"/>
<rect x="74" y="28" width="1" height="4"/>
<rect x="74" y="768" width="1" height="5"/>
<rect x="81" y="28" width="1" height="17"/>
<rect x="81" y="756" width="1" height="17"/>
<rect x="88" y="28" width="1" height="4"/>
<rect x="88" y="768" width="1" height="5"/>
<rect x="96" y="28" width="1" height="4"/>
<rect x="96" y="768" width="1" height="5"/>
<rect x="103" y="28" width="1" height="4"/>
<rect x="103" y="768" width="1" height="5"/>
<rect x="110" y="28" width="1" height="4"/>
<rect x="110" y="768" width="1" height="5"/>
<rect x="118" y="28" width="1" height="8"/>
<rect x="118" y="764" width="1" height="9"/>
<rect x="125" y="28" width="1" height="4"/>
<rect x="125" y="768" width="1" height="5"/>
<rect x="132" y="28" width="1" height="4"/>
<rect x="132" y="768" width="1" height="5"/>
<rect x="139" y="28" width="1" height="4"/>
<rect x="139" y="768" width="1" height="5"/>
<rect x="147" y="28" width="1" height="4"/>
<rect x="147" y="768" width="1" height="5"/>
<rect x="154" y="28" width="1" height="17"/>
<rect x="154" y="756" width="1" height="17"/>
<rect x="161" y="28" width="1" height="4"/>
<rect x="161" y="768" width="1" height="5"/>
<rect x="169" y="28" width="1" height="4"/>
<rect x="169" y="768" width="1" height="5"/>
<rect x="176" y="28" width="1" height="4"/>
<rect x="176" y="768" width="1" height="5"/>
<rect x="183" y="28" width="1" height="4"/>
<rect x="183" y="768" width="1" height="5"/>
<rect x="191" y="28" width="1" height="8"/>
<rect x="191" y="764" width="1" height="9"/>
<rect x="198" y="28" width="1" height="4"/>
<rect x="198" y="768" width="1" height="5"/>
<rect x="205" y="28" width="1" height="4"/>
<rect x="205" y="768" width="1" height="5"/>
<rect x="212" y="28" width="1" height="4"/>
<rect x="212" y="768" width="1" height="5"/>
<rect x="220" y="28" width="1" height="4"/>
<rect x="220" y="768" width="1" height="5"/>
<rect x="227" y="28" width="1" height="17"/>
<rect x="227" y="756" width="1" height="17"/>
<rect x="234" y="28" width="1" height="4"/>
<rect x="234" y="768" width="1" height="5"/>
<rect x="241" y="28" width="1" height="4"/>
<rect x="241" y="768" width="1" height="5"/>
<rect x="249" y="28" width="1" height="4"/>
<rect x="249" y="768" width="1" height="5"/>
<rect x="256" y="28" width="1" height="4"/>
<rect x="256" y="768" width="1" height="5"/>
<rect x="263" y="28" width="1" height="8"/>
<rect x="263" y="764" width="1" height="9"/>
<rect x="270" y="28" width="1" height="4"/>
<rect x="270" y="768" width="1" height="5"/>
<rect x="277" y="28" width="1" height="4"/>
<rect x="277" y="768" width="1" height="5"/>
<rect x="285" y="28" width="1" height="4"/>
<rect x="285" y="768" width="1" height="5"/>
<rect x="292" y="28" width="1" height="4"/>
<rect x="292" y="768" width="1" height="5"/>
<rect x="299" y="28" width="1" height="17"/>
<rect x="299" y="756" width="1" height="17"/>
<rect x="306" y="28" width="1" height="4"/>
<rect x="306" y="768" width="1" height="5"/>
<rect x="314" y="28" width="1" height="4"/>
<rect x="314" y="768" width="1" height="5"/>
<rect x="321" y="28" width="1" height="4"/>
<rect x="321" y="768" width="1" height="5"/>
<rect x="328" y="28" width="1" height="4"/>
<rect x="328" y="768" width="1" height="5"/>
<rect x="336" y="28" width="1" height="8"/>
<rect x="336" y="764" width="1" height="9"/>
<rect x="343" y="28" width="1" height="4"/>
<rect x="343" y="768" width="1" height="5"/>
<rect x="350" y="28" width="1" height="4"/>
<rect x="350" y="768" width="1" height="5"/>
<rect x="357" y="28" width="1" height="4"/>
<rect x="357" y="768" width="1" height="5"/>
<rect x="365" y="28" width="1" height="4"/>
<rect x="365" y="768" width="1" height="5"/>
<rect x="372" y="28" width="1" height="17"/>
<rect x="372" y="756" width="1" height="17"/>
<rect x="379" y="28" width="1" height="4"/>
<rect x="379" y="768" width="1" height="5"/>
<rect x="387" y="28" width="1" height="4"/>
<rect x="387" y="768" width="1" height="5"/>
<rect x="394" y="28" width="1" height="4"/>
<rect x="394" y="768" width="1" height="5"/>
<rect x="401" y="28" width="1" height="4"/>
<rect x="401" y="768" width="1" height="5"/>
<rect x="409" y="28" width="1" height="8"/>
<rect x="409" y="764" width="1" height="9"/>
<rect x="416" y="28" width="1" height="4"/>
<rect x="416" y="768" width="1" height="5"/>
<rect x="423" y="28" width="1" height="4"/>
<rect x="423" y="768" width="1" height="5"/>
<rect x="430" y="28" width="1" height="4"/>
<rect x="430" y="768" width="1" height="5"/>
<rect x="438" y="28" width="1" height="4"/>
<rect x="438" y="768" width="1" height="5"/>
<rect x="445" y="28" width="1" height="17"/>
<rect x="445" y="756" width="1" height="17"/>
<rect x="452" y="28" width="1" height="4"/>
<rect x="452" y="768" width="1" height="5"/>
<rect x="460" y="28" width="1" height="4"/>
<rect x="460" y="768" width="1" height="5"/>
<rect x="467" y="28" width="1" height="4"/>
<rect x="467" y="768" width="1" height="5"/>
<rect x="474" y="28" width="1" height="4"/>
<rect x="474" y="768" width="1" height="5"/>
<rect x="482" y="28" width="1" height="8"/>
<rect x="482" y="764" width="1" height="9"/>
<rect x="489" y="28" width="1" height="4"/>
<rect x="489" y="768" width="1" height="5"/>
<rect x="496" y="28" width="1" height="4"/>
<rect x="496" y="768" width="1" height="5"/>
<rect x="503" y="28" width="1" height="4"/>
<rect x="503" y="768" width="1" height="5"/>
<rect x="511" y="28" width="1" height="4"/>
<rect x="511" y="768" width="1" height="5"/>
<rect x="518" y="28" width="1" height="17"/>
<rect x="518" y="756" width="1" height="17"/>
<rect x="525" y="28" width="1" height="4"/>
<rect x="525" y="768" width="1" height="5"/>
<rect x="532" y="28" width="1" height="4"/>
<rect x="532" y="768" width="1" height="5"/>
<rect x="540" y="28" width="1" height="4"/>
<rect x="540" y="768" width="1" height="5"/>
<rect x="547" y="28" width="1" height="4"/>
<rect x="547" y="768" width="1" height="5"/>
<rect x="554" y="28" width="1" height="8"/>
<rect x="554" y="764" width="1" height="9"/>
<rect x="561" y="28" width="1" height="4"/>
<rect x="561" y="768" width="1" height="5"/>
<rect x="568" y="28" width="1" height="4"/>
<rect x="568" y="768" width="1" height="5"/>
<rect x="576" y="28" width="1" height="4"/>
<rect x="576" y="768" width="1" height="5"/>
<rect x="583" y="28" width="1" height="4"/>
<rect x="583" y="768" width="1" height="5"/>
<rect x="590" y="28" width="1" height="17"/>
<rect x="590" y="756" width="1" height="17"/>
<rect x="597" y="28" width="1" height="4"/>
<rect x="597" y="768" width="1" height="5"/>
<rect x="605" y="28" width="1" height="4"/>
<rect x="605" y="768" width="1" height="5"/>
<rect x="612" y="28" width="1" height="4"/>
<rect x="612" y="768" width="1" height="5"/>
<rect x="619" y="28" width="1" height="4"/>
<rect x="619" y="768" width="1" height="5"/>
<rect x="627" y="28" width="1" height="8"/>
<rect x="627" y="764" width="1" height="9"/>
<rect x="634" y="28" width="1" height="4"/>
<rect x="634" y="768" width="1" height="5"/>
<rect x="641" y="28" width="1" height="4"/>
<rect x="641" y="768" width="1" height="5"/>
<rect x="648" y="28" width="1" height="4"/>
<rect x="648" y="768" width="1" height="5"/>
<rect x="656" y="28" width="1" height="4"/>
<rect x="656" y="768" width="1" height="5"/>
<rect x="663" y="28" width="1" height="17"/>
<rect x="663" y="756" width="1" height="17"/>
<rect x="670" y="28" width="1" height="4"/>
<rect x="670" y="768" width="1" height="5"/>
<rect x="678" y="28" width="1" height="4"/>
<rect x="678" y="768" width="1" height="5"/>
<rect x="685" y="28" width="1" height="4"/>
<rect x="685" y="768" width="1" height="5"/>
<rect x="692" y="28" width="1" height="4"/>
<rect x="692" y="768" width="1" height="5"/>
<rect x="700" y="28" width="1" height="8"/>
<rect x="700" y="764" width="1" height="9"/>
<rect x="707" y="28" width="1" height="4"/>
<rect x="707" y="768" width="1" height="5"/>
<rect x="714" y="28" width="1" height="4"/>
<rect x="714" y="768" width="1" height="5"/>
<rect x="721" y="28" width="1" height="4"/>
<rect x="721" y="768" width="1" height="5"/>
<rect x="729" y="28" width="1" height="4"/>
<rect x="729" y="768" width="1" height="5"/>
<rect x="736" y="28" width="1" height="17"/>
<rect x="736" y="756" width="1" height="17"/>
<rect x="743" y="28" width="1" height="4"/>
<rect x="743" y="768" width="1" height="5"/>
<rect x="751" y="28" width="1" height="4"/>
<rect x="751" y="768" width="1" height="5"/>
<rect x="758" y="28" width="1" height="4"/>
<rect x="758" y="768" width="1" height="5"/>
<rect x="765" y="28" width="1" height="4"/>
<rect x="765" y="768" width="1" height="5"/>
<rect x="772" y="28" width="1" height="8"/>
<rect x="772" y="764" width="1" height="9"/>
<rect x="780" y="28" width="1" height="4"/>
<rect x="780" y="768" width="1" height="5"/>
<rect x="787" y="28" width="1" height="4"/>
<rect x="787" y="768" width="1" height="5"/>
<rect x="794" y="28" width="1" height="4"/>
<rect x="794" y="768" width="1" height="5"/>
<rect x="1" y="29" width="3" height="1"/>
<rect x="795" y="29" width="5" height="1"/>
<rect x="1" y="36" width="17" height="1"/>
<rect x="782" y="36" width="18" height="1"/>
<rect x="1" y="43" width="3" height="1"/>
<rect x="795" y="43" width="5" height="1"/>
<rect x="1" y="51" width="3" height="1"/>
<rect x="795" y="51" width="5" height="1"/>
<rect x="1" y="58" width="3" height="1"/>
<rect x="795" y="58" width="5" height="1"/>
<rect x="1" y="65" width="3" height="1"/>
<rect x="795" y="65" width="5" height="1"/>
<rect x="1" y="73" width="7" height="1"/>
<rect x="791" y="73" width="9" height="1"/>
<rect x="1" y="80" width="3" height="1"/>
<rect x="795" y="80" width="5" height="1"/>
<rect x="1" y="87" width="3" height="1"/>
<rect x="795" y="87" width="5" height="1"/>
<rect x="1" y="94" width="3" height="1"/>
<rect x="795" y="94" width="5" height="1"/>
<rect x="1" y="102" width="3" height="1"/>
<rect x="795" y="102" width="5" height="1"/>
<rect x="1" y="109" width="17" height="1"/>
<rect x="782" y="109" width="18" height="1"/>
<rect x="1" y="116" width="3" height="1"/>
<rect x="795" y="116" width="5" height="1"/>
<rect x="1" y="123" width="3" height="1"/>
<rect x="795" y="123" width="5" height="1"/>
<rect x="1" y="131" width="3" height="1"/>
<rect x="795" y="131" width="5" height="1"/>
<rect x="1" y="138" width="3" height="1"/>
<rect x="795" y="138" width="5" height="1"/>
<rect x="1" y="145" width="7" height="1"/>
<rect x="791" y="145" width="9" height="1"/>
<rect x="1" y="152" width="3" height="1"/>
<rect x="795" y="152" width="5" height="1"/>
<rect x="1" y="159" width="3" height="1"/>
<rect x="795" y="159" width="5" height="1"/>
<rect x="1" y="167" width="3" height="1"/>
<rect x="795" y="167" width="5" height="1"/>
<rect x="1" y="174" width="3" height="1"/>
<rect x="795" y="174" width="5" height="1"/>
<rect x="1" y="181" width="17" height="1"/>
<rect x="782" y="181" width="18" height="1"/>
<rect x="1" y="188" width="3" height="1"/>
<rect x="795" y="188" width="5" height="1"/>
<rect x="1" y="196" width="3" height="1"/>
<rect x="795" y="196" width="5" height="1"/>
<rect x="1" y="203" width="3" height="1"/>
<rect x="795" y="203" width="5" height="1"/>
<rect x="1" y="210" width="3" height="1"/>
<rect x="795" y="210" width="5" height="1"/>
<rect x="1" y="218" width="7" height="1"/>
<rect x="791" y="218" width="9" height="1"/>
<rect x="1" y="225" width="3" height="1"/>
<rect x="795" y="225" width="5" height="1"/>
<rect x="1" y="232" width="3" height="1"/>
<rect x="795" y="232" width="5" height="1"/>
<rect x="1" y="239" width="3" height="1"/>
<rect x="795" y="239" width="5" height="1"/>
<rect x="1" y="247" width="3" height="1"/>
<rect x="795" y="247" width="5" height="1"/>
<rect x="1" y="254" width="17" height="1"/>
<rect x="782" y="254" width="18" height="1"/>
<rect x="1" y="261" width="3" height="1"/>
<rect x="795" y="261" width="5" height="1"/>
<rect x="1" y="269" width="3" height="1"/>
<rect x="795" y="269" width="5" height="1"/>
<rect x="1" y="276" width="3" height="1"/>
<rect x="795" y="276" width="5" height="1"/>
<rect x="1" y="283" width="3" height="1"/>
<rect x="795" y="283" width="5" height="1"/>
<rect x="1" y="291" width="7" height="1"/>
<rect x="791" y="291" width="9" height="1"/>
<rect x="1" y="298" width="3" height="1"/>
<rect x="795" y="298" width="5" height="1"/>
<rect x="1" y="305" width="3" height="1"/>
<rect x="795" y="305" width="5" height="1"/>
<rect x="1" y="312" width="3" height="1"/>
<rect x="795" y="312" width="5" height="1"/>
<rect x="1" y="320" width="3" height="1"/>
<rect x="795" y="320" width="5" height="1"/>
<rect x="1" y="327" width="17" height="1"/>
<rect x="782" y="327" width="18" height="1"/>
<rect x="1" y="334" width="3" height="1"/>
<rect x="795" y="334" width="5" height="1"/>
<rect x="1" y="342" width="3" height="1"/>
<rect x="795" y="342" width="5" height="1"/>
<rect x="1" y="349" width="3" height="1"/>
<rect x="795" y="349" width="5" height="1"/>
<rect x="1" y="356" width="3" height="1"/>
<rect x="795" y="356" width="5" height="1"/>
<rect x="1" y="364" width="7" height="1"/>
<rect x="791" y="364" width="9" height="1"/>
<rect x="1" y="371" width="3" height="1"/>
<rect x="795" y="371" width="5" height="1"/>
<rect x="1" y="378" width="3" height="1"/>
<rect x="795" y="378" width="5" height="1"/>
<rect x="1" y="385" width="3" height="1"/>
<rect x="795" y="385" width="5" height="1"/>
<rect x="1" y="393" width="3" height="1"/>
<rect x="795" y="393" width="5" height="1"/>
<rect x="1" y="400" width="17" height="1"/>
<rect x="782" y="400" width="18" height="1"/>
<rect x="1" y="407" width="3" height="1"/>
<rect x="795" y="407" width="5" height="1"/>
<rect x="1" y="414" width="3" height="1"/>
<rect x="795" y="414" width="5" height="1"/>
<rect x="1" y="422" width="3" height="1"/>
<rect x="795" y="422" width="5" height="1"/>
<rect x="1" y="429" width="3" height="1"/>
<rect x="795" y="429" width="5" height="1"/>
<rect x="1" y="436" width="7" height="1"/>
<rect x="791" y="436" width="9" height="1"/>
<rect x="1" y="443" width="3" height="1"/>
<rect x="795" y="443" width="5" height="1"/>
<rect x="1" y="450" width="3" height="1"/>
<rect x="795" y="450" width="5" height="1"/>
<rect x="1" y="458" width="3" height="1"/>
<rect x="795" y="458" width="5" height="1"/>
<rect x="1" y="465" width="3" height="1"/>
<rect x="795" y="465" width="5" height="1"/>
<rect x="1" y="472" width="17" height="1"/>
<rect x="782" y="472" width="18" height="1"/>
<rect x="1" y="479" width="3" height="1"/>
<rect x="795" y="479" width="5" height="1"/>
<rect x="1" y="487" width="3" height="1"/>
<rect x="795" y="487" width="5" height="1"/>
<rect x="1" y="494" width="3" height="1"/>
<rect x="795" y="494" width="5" height="1"/>
<rect x="1" y="501" width="3" height="1"/>
<rect x="795" y="501" width="5" height="1"/>
<rect x="1" y="509" width="7" height="1"/>
<rect x="791" y="509" width="9" height="1"/>
<rect x="1" y="516" width="3" height="1"/>
<rect x="795" y="516" width="5" height="1"/>
<rect x="1" y="523" width="3" height="1"/>
<rect x="795" y="523" width="5" height="1"/>
<rect x="1" y="530" width="3" height="1"/>
<rect x="795" y="530" width="5" height="1"/>
<rect x="1" y="538" width="3" height="1"/>
<rect x="795" y="538" width="5" height="1"/>
<rect x="1" y="545" width="17" height="1"/>
<rect x="782" y="545" width="18" height="1"/>
<rect x="1" y="552" width="3" height="1"/>
<rect x="795" y="552" width="5" height="1"/>
<rect x="1" y="560" width="3" height="1"/>
<rect x="795" y="560" width="5" height="1"/>
<rect x="1" y="567" width="3" height="1"/>
<rect x="795" y="567" width="5" height="1"/>
<rect x="1" y="574" width="3" height="1"/>
<rect x="795" y="574" width="5" height="1"/>
<rect x="1" y="582" width="7" height="1"/>
<rect x="791" y="582" width="9" height="1"/>
<rect x="1" y="589" width="3" height="1"/>
<rect x="795" y="589" width="5" height="1"/>
<rect x="1" y="596" width="3" height="1"/>
<rect x="795" y="596" width="5" height="1"/>
<rect x="1" y="603" width="3" height="1"/>
<rect x="795" y="603" width="5" height="1"/>
<rect x="1" y="611" width="3" height="1"/>
<rect x="795" y="611" width="5" height="1"/>
<rect x="1" y="618" width="17" height="1"/>
<rect x="782" y="618" width="18" height="1"/>
<rect x="1" y="625" width="3" height="1"/>
<rect x="795" y="625" width="5" height="1"/>
<rect x="1" y="632" width="3" height="1"/>
<rect x="795" y="632" width="5" height="1"/>
<rect x="1" y="640" width="3" height="1"/>
<rect x="795" y="640" width="5" height="1"/>
<rect x="1" y="647" width="3" height="1"/>
<rect x="795" y="647" width="5" height="1"/>
<rect x="1" y="654" width="7" height="1"/>
<rect x="791" y="654" width="9" height="1"/>
<rect x="1" y="661" width="3" height="1"/>
<rect x="795" y="661" width="5" height="1"/>
<rect x="1" y="668" width="3" height="1"/>
<rect x="795" y="668" width="5" height="1"/>
<rect x="1" y="676" width="3" height="1"/>
<rect x="795" y="676" width="5" height="1"/>
<rect x="1" y="683" width="3" height="1"/>
<rect x="795" y="683" width="5" height="1"/>
<rect x="1" y="690" width="17" height="1"/>
<rect x="782" y="690" width="18" height="1"/>
<rect x="1" y="697" width="3" height="1"/>
<rect x="795" y="697" width="5" height="1"/>
<rect x="1" y="705" width="3" height="1"/>
<rect x="795" y="705" width="5" height="1"/>
<rect x="1" y="712" width="3" height="1"/>
<rect x="795" y="712" width="5" height="1"/>
<rect x="1" y="719" width="3" height="1"/>
<rect x="795" y="719" width="5" height="1"/>
<rect x="1" y="727" width="7" height="1"/>
<rect x="791" y="727" width="9" height="1"/>
<rect x="1" y="734" width="3" height="1"/>
<rect x="795" y="734" width="5" height="1"/>
<rect x="1" y="741" width="3" height="1"/>
<rect x="795" y="741" width="5" height="1"/>
<rect x="1" y="748" width="3" height="1"/>
<rect x="795" y="748" width="5" height="1"/>
<rect x="1" y="756" width="3" height="1"/>
<rect x="795" y="756" width="5" height="1"/>
<rect x="1" y="763" width="17" height="1"/>
<rect x="782" y="763" width="18" height="1"/>
<rect x="1" y="770" width="3" height="1"/>
<rect x="795" y="770" width="5" height="1"/>
</g>
<defs><clipPath id="mapclip"><rect x="0" y="28" width="800" height="745"/></clipPath></defs>
<g class="t" fill="#808080" font-size="10.5" text-anchor="end" clip-path="url(#mapclip)">
<text x="792" y="31.6">31S</text>
<text x="792" y="104.6">32S</text>
<text x="792" y="176.6">33S</text>
<text x="792" y="249.6">34S</text>
<text x="792" y="322.6">35S</text>
<text x="792" y="395.6">36S</text>
<text x="792" y="467.6">37S</text>
<text x="792" y="540.6">38S</text>
<text x="792" y="613.6">39S</text>
<text x="792" y="685.6">40S</text>
<text x="792" y="758.6">41S</text>
</g>
<g class="t" fill="#808080" font-size="10">
<text transform="translate(14.5,744) rotate(90)" x="0" y="0">61W</text>
<text transform="translate(86.5,744) rotate(90)" x="0" y="0">60W</text>
<text transform="translate(159.5,744) rotate(90)" x="0" y="0">59W</text>
<text transform="translate(232.5,744) rotate(90)" x="0" y="0">58W</text>
<text transform="translate(304.5,744) rotate(90)" x="0" y="0">57W</text>
<text transform="translate(377.5,744) rotate(90)" x="0" y="0">56W</text>
<text transform="translate(450.5,744) rotate(90)" x="0" y="0">55W</text>
<text transform="translate(523.5,744) rotate(90)" x="0" y="0">54W</text>
<text transform="translate(595.5,744) rotate(90)" x="0" y="0">53W</text>
<text transform="translate(668.5,744) rotate(90)" x="0" y="0">52W</text>
<text transform="translate(741.5,744) rotate(90)" x="0" y="0">51W</text>
</g>
<defs><linearGradient id="cb" x1="0" y1="1" x2="0" y2="0">
<stop offset="0.0000" stop-color="#0000ff"/>
<stop offset="0.2667" stop-color="#00ffff"/>
<stop offset="0.4000" stop-color="#00ff00"/>
<stop offset="0.5333" stop-color="#ffff00"/>
<stop offset="0.6900" stop-color="#ff8000"/>
<stop offset="0.8333" stop-color="#ff0000"/>
<stop offset="1.0000" stop-color="#be0082"/>
</linearGradient></defs>
<rect x="32.5" y="160.5" width="48" height="608" fill="#fff" stroke="#000" stroke-width="1" shape-rendering="crispEdges"/>
<rect x="34" y="162" width="45.5" height="605" fill="url(#cb)"/>
<g class="t" fill="#000" font-size="14">
<text x="86.2" y="164.6" textLength="18.2" lengthAdjust="spacingAndGlyphs">30</text>
<text x="85.2" y="317.0" textLength="19.7" lengthAdjust="spacingAndGlyphs">22</text>
<text x="86.7" y="469.0" textLength="18.2" lengthAdjust="spacingAndGlyphs">15</text>
<text x="85.2" y="621.0" textLength="10.2" lengthAdjust="spacingAndGlyphs">8</text>
<text x="86.7" y="772.5" textLength="8.7" lengthAdjust="spacingAndGlyphs">0</text>
</g>
<text class="t" x="34.6" y="147.8" font-size="16.5" fill="#111" textLength="42.8" lengthAdjust="spacingAndGlyphs">[m/s]</text>
</svg>
</body></html>
